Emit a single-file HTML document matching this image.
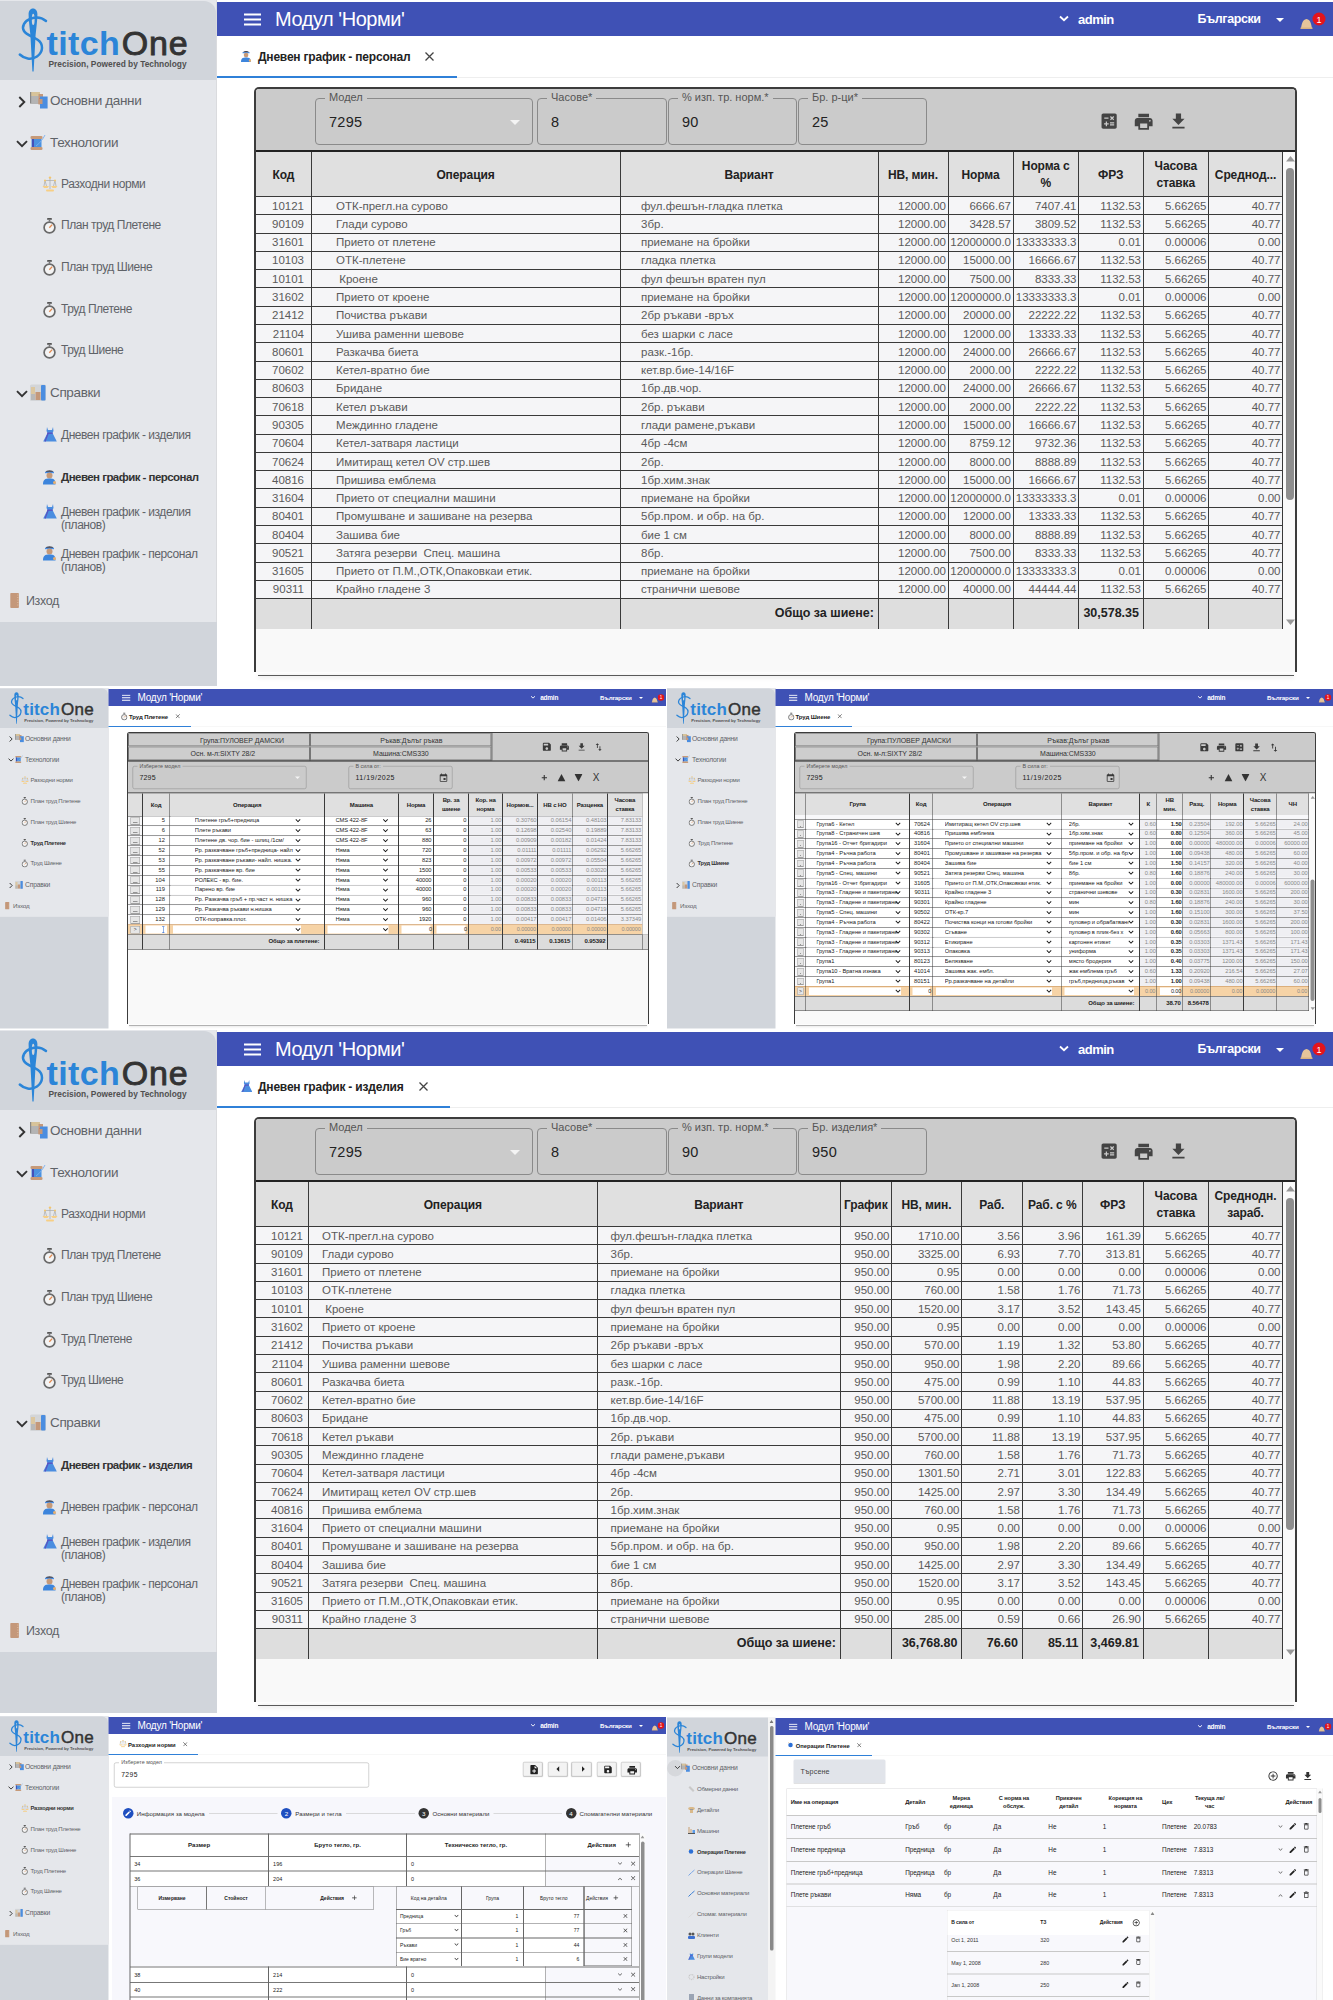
<!DOCTYPE html><html><head><meta charset="utf-8"><style>
*{box-sizing:border-box;margin:0;padding:0}
html,body{width:1333px;height:2000px;overflow:hidden;background:#fff;font-family:"Liberation Sans",sans-serif;}
.scr{position:absolute;overflow:hidden;background:#fff;transform-origin:0 0}
.abs{position:absolute}
.sb{position:absolute;left:0;top:0;width:217px;background:#e5e7eb;border-right:1px solid #dadbde}
.logo{position:absolute;left:0;top:1px;width:216px;height:78.5px;background:#d1d5db;border-top-right-radius:12px}
.sbb{position:absolute;left:0;width:217px;background:#d1d5db}
.hdr{position:absolute;left:217px;top:2px;right:0;height:34px;background:#3f51b5;color:#fff}
.mi{position:absolute;white-space:nowrap;color:#5f6368;font-size:13.5px;line-height:16px;letter-spacing:-0.35px}
.si{position:absolute;white-space:nowrap;color:#5f6368;font-size:12px;line-height:15px;letter-spacing:-0.45px}
.t{position:absolute;white-space:nowrap}
table.g{border-collapse:collapse;table-layout:fixed;position:absolute}
table.g td{overflow:hidden;white-space:nowrap}
</style></head><body>
<div class="scr" style="left:0;top:0;width:1333px;height:688px"><div class="sb" style="height:622px"></div>
<div class="sbb" style="top:622px;height:64px"></div>
<div class="logo"></div>
<svg class="abs" style="left:0px;top:0px" width="200" height="78" viewBox="0 0 200 78">
<path d="M33 8.6 C30.2 8.6 28.6 11 28.6 14.5 C28.6 20 29.6 27 30.4 35 L32.4 71.5 L33.6 71.5 L35.6 35 C36.4 27 37.4 20 37.4 14.5 C37.4 11 35.8 8.6 33 8.6Z" fill="#2b85d8"/>
<ellipse cx="33.2" cy="19.4" rx="1.4" ry="5.6" fill="#d1d5db"/>
<path d="M46 21 C42 17.5 36 16.8 31 18.5 C24 21 21.5 27 24 31 C26.5 35 33 36.5 38 40 C43.5 44 43.5 52 37 56.5 C31 60.5 24 58.5 19.8 54.5" fill="none" stroke="#2b85d8" stroke-width="2.5" stroke-linecap="round"/>
<text x="46.6" y="54.8" font-family="Liberation Sans" font-weight="bold" font-size="34" fill="#2b85d8" letter-spacing="0.35">titch</text>
<text x="121.8" y="54.8" font-family="Liberation Sans" font-size="34" fill="#333" stroke="#333" stroke-width="0.9" letter-spacing="0.8">One</text>
<text x="48.5" y="67" font-family="Liberation Sans" font-weight="bold" font-size="8.4" fill="#505050">Precision, Powered by Technology</text>
</svg>
<svg class="abs" style="left:16.5px;top:95.5px" width="10" height="12" viewBox="0 0 10 12"><path d="M2.3 1 L7.3 6 L2.3 11" fill="none" stroke="#333" stroke-width="1.9"/></svg><svg class="abs" style="left:30px;top:92px" width="18" height="17" viewBox="0 0 18 17">
<rect x="0" y="0" width="10" height="12" fill="#b4b4b4"/><rect x="1" y="0" width="9" height="4" fill="#d7c39a"/><rect x="0" y="0" width="1.2" height="11" fill="#888"/>
<rect x="8.5" y="2" width="4.5" height="10.5" fill="#c4987a"/><circle cx="10.5" cy="7" r="0.9" fill="#f11"/><circle cx="11" cy="9" r="0.9" fill="#f11"/>
<rect x="10" y="4.5" width="7.6" height="12" fill="#4a8de0"/><rect x="8.5" y="7" width="4" height="5" fill="#c4987a"/></svg><div class="mi" style="left:50px;top:93px">Основни данни</div>
<svg class="abs" style="left:16px;top:139.5px" width="12" height="8" viewBox="0 0 12 8"><path d="M1 1.2 L6 6.2 L11 1.2" fill="none" stroke="#333" stroke-width="1.9"/></svg><svg class="abs" style="left:30px;top:134px" width="18" height="17" viewBox="0 0 18 17">
<rect x="0.5" y="2" width="12" height="3" rx="1.3" fill="#c79a78"/><rect x="1.5" y="5" width="10" height="8" fill="#4b92e0"/><rect x="2" y="5" width="2" height="8" fill="#4450b8"/>
<rect x="0.5" y="13" width="12" height="3" rx="1.3" fill="#c79a78"/><path d="M6 12 C10 9 13 5 15 1" stroke="#7ab0ee" stroke-width="0.9" fill="none"/></svg><div class="mi" style="left:50px;top:135px">Технологии</div>
<svg class="abs" style="left:42px;top:176.0px" width="16" height="16" viewBox="0 0 16 16">
<path d="M8 1.5 V13 M3 4.5 H13 M2 10 L3 4.5 L4.5 10 M11.5 10 L13 4.5 L14 10" stroke="#aaa" stroke-width="0.7" fill="none"/>
<circle cx="8" cy="1.6" r="1.2" fill="#f5c66a"/><circle cx="3" cy="4.5" r="1" fill="#f5c66a"/><circle cx="13" cy="4.5" r="1" fill="#f5c66a"/>
<path d="M0.5 10 H7 L5.5 12 H2Z M9 10 H15.5 L14 12 H10.5Z" fill="#f7cf85"/><rect x="4" y="13.5" width="8" height="2" rx="1" fill="#f7cf85"/></svg><div class="si" style="left:61px;top:176.5px;">Разходни норми</div>
<svg class="abs" style="left:43px;top:218.2px" width="13" height="16" viewBox="0 0 13 16">
<rect x="4" y="0" width="5" height="1.8" rx="0.9" fill="#555"/><rect x="5.7" y="1.5" width="1.6" height="2" fill="#777"/>
<circle cx="6.5" cy="9.5" r="5.4" fill="#f4f4f4" stroke="#6a6a6a" stroke-width="1.7"/>
<path d="M6.3 9.8 L9.2 6.6" stroke="#e08a50" stroke-width="1.3"/></svg><div class="si" style="left:61px;top:218.2px;">План труд Плетене</div>
<svg class="abs" style="left:43px;top:259.9px" width="13" height="16" viewBox="0 0 13 16">
<rect x="4" y="0" width="5" height="1.8" rx="0.9" fill="#555"/><rect x="5.7" y="1.5" width="1.6" height="2" fill="#777"/>
<circle cx="6.5" cy="9.5" r="5.4" fill="#f4f4f4" stroke="#6a6a6a" stroke-width="1.7"/>
<path d="M6.3 9.8 L9.2 6.6" stroke="#e08a50" stroke-width="1.3"/></svg><div class="si" style="left:61px;top:259.9px;">План труд Шиене</div>
<svg class="abs" style="left:43px;top:301.6px" width="13" height="16" viewBox="0 0 13 16">
<rect x="4" y="0" width="5" height="1.8" rx="0.9" fill="#555"/><rect x="5.7" y="1.5" width="1.6" height="2" fill="#777"/>
<circle cx="6.5" cy="9.5" r="5.4" fill="#f4f4f4" stroke="#6a6a6a" stroke-width="1.7"/>
<path d="M6.3 9.8 L9.2 6.6" stroke="#e08a50" stroke-width="1.3"/></svg><div class="si" style="left:61px;top:301.6px;">Труд Плетене</div>
<svg class="abs" style="left:43px;top:343.3px" width="13" height="16" viewBox="0 0 13 16">
<rect x="4" y="0" width="5" height="1.8" rx="0.9" fill="#555"/><rect x="5.7" y="1.5" width="1.6" height="2" fill="#777"/>
<circle cx="6.5" cy="9.5" r="5.4" fill="#f4f4f4" stroke="#6a6a6a" stroke-width="1.7"/>
<path d="M6.3 9.8 L9.2 6.6" stroke="#e08a50" stroke-width="1.3"/></svg><div class="si" style="left:61px;top:343.3px;">Труд Шиене</div>
<svg class="abs" style="left:16px;top:389.5px" width="12" height="8" viewBox="0 0 12 8"><path d="M1 1.2 L6 6.2 L11 1.2" fill="none" stroke="#333" stroke-width="1.9"/></svg><svg class="abs" style="left:30px;top:384px" width="16" height="17" viewBox="0 0 16 17">
<rect x="0" y="0.5" width="16" height="16.5" rx="1.5" fill="#d3d5d8"/><rect x="1" y="3" width="4" height="13" fill="#dcc7a0"/><rect x="1" y="10" width="4" height="6" fill="#b8b8b8"/>
<rect x="5.5" y="8" width="5" height="8" fill="#c4987a"/><rect x="11" y="1" width="4.5" height="15.5" rx="1" fill="#4a8de0"/></svg><div class="mi" style="left:50px;top:385px">Справки</div>
<svg class="abs" style="left:43px;top:427px" width="14" height="15" viewBox="0 0 14 15">
<path d="M4 0 L5 3 H9 L10 0 L10.5 4 L9.5 6 L13.8 14.5 H0.2 L4.5 6 L3.5 4Z" fill="#4a8de0"/><path d="M4.3 6.2 H9.7" stroke="#5a50c0" stroke-width="1.3"/>
<path d="M2 14.5 L5.2 6" stroke="#5a50c0" stroke-width="1.2"/></svg><div class="si" style="left:61px;top:427.5px;">Дневен график - изделия</div>
<svg class="abs" style="left:43px;top:468.5px" width="13" height="16" viewBox="0 0 13 16">
<path d="M2.5 3.5 C2.5 0.5 10.5 0.5 10.5 3.5Z" fill="#4a4a55"/><rect x="2" y="2.8" width="9" height="1.4" fill="#4a8de0"/>
<circle cx="6.5" cy="6.5" r="3" fill="#c79a78"/><path d="M0 15.5 C0 10.5 2 9.5 6.5 9.5 C11 9.5 12.5 10.5 12.5 15.5Z" fill="#3d85dc"/>
<circle cx="11.5" cy="13.5" r="1.5" fill="#e8b070"/></svg><div class="si" style="left:61px;top:469.5px;font-weight:bold;color:#333;font-size:11.5px;letter-spacing:-0.55px;">Дневен график - персонал</div>
<svg class="abs" style="left:43px;top:503.5px" width="14" height="15" viewBox="0 0 14 15">
<path d="M4 0 L5 3 H9 L10 0 L10.5 4 L9.5 6 L13.8 14.5 H0.2 L4.5 6 L3.5 4Z" fill="#4a8de0"/><path d="M4.3 6.2 H9.7" stroke="#5a50c0" stroke-width="1.3"/>
<path d="M2 14.5 L5.2 6" stroke="#5a50c0" stroke-width="1.2"/></svg><div class="si" style="left:61px;top:505.7px;line-height:13.8px">Дневен график - изделия<br>(планов)</div>
<svg class="abs" style="left:43px;top:545.0px" width="13" height="16" viewBox="0 0 13 16">
<path d="M2.5 3.5 C2.5 0.5 10.5 0.5 10.5 3.5Z" fill="#4a4a55"/><rect x="2" y="2.8" width="9" height="1.4" fill="#4a8de0"/>
<circle cx="6.5" cy="6.5" r="3" fill="#c79a78"/><path d="M0 15.5 C0 10.5 2 9.5 6.5 9.5 C11 9.5 12.5 10.5 12.5 15.5Z" fill="#3d85dc"/>
<circle cx="11.5" cy="13.5" r="1.5" fill="#e8b070"/></svg><div class="si" style="left:61px;top:547.7px;line-height:13.8px">Дневен график - персонал<br>(планов)</div>
<svg class="abs" style="left:10.4px;top:593.0px" width="9" height="15" viewBox="0 0 9 15"><rect x="0.3" y="0" width="8.6" height="15" rx="0.8" fill="#c4987a"/>
<path d="M7 2H8.5M7 4.5H8.5M7 7H8.5M7 9.5H8.5M7 12H8.5" stroke="#e6c6a6" stroke-width="0.6"/></svg><div class="si" style="left:26px;top:594.0px;font-size:12.5px;letter-spacing:-0.4px">Изход</div>
<div class="hdr">
<svg class="abs" style="left:27px;top:11px" width="17" height="13" viewBox="0 0 17 13"><path d="M0 1.5H17M0 6.5H17M0 11.5H17" stroke="#fff" stroke-width="2"/></svg>
<div class="t" style="left:58px;top:5.5px;font-size:20px;line-height:22px;letter-spacing:-0.45px">Модул 'Норми'</div>
<svg class="abs" style="left:841.5px;top:13px" width="10" height="7" viewBox="0 0 10 7"><path d="M1 1.5L5 5.2L9 1.5" fill="none" stroke="#fff" stroke-width="1.8"/></svg>
<div class="t" style="left:861.0px;top:9.5px;font-size:13px;line-height:15px;font-weight:bold;letter-spacing:-0.5px">admin</div>
<div class="t" style="left:980.5px;top:9.5px;font-size:12.5px;line-height:15px;font-weight:bold;letter-spacing:-0.4px">Български</div>
<svg class="abs" style="left:1058.5px;top:16px" width="8" height="4" viewBox="0 0 8 4"><path d="M0 0H8L4 4Z" fill="#fff"/></svg>
<svg class="abs" style="left:1083.0px;top:15px" width="13" height="13" viewBox="0 0 13 13"><path d="M1 11 C2 7 2 3 6.5 2 C11 3 11 7 12 11 Z" fill="#e6c49a"/><rect x="0.5" y="10.5" width="12" height="1.5" fill="#d8b080"/></svg>
<svg class="abs" style="left:1095.0px;top:9.5px" width="14" height="14" viewBox="0 0 14 14"><circle cx="7" cy="7" r="6.5" fill="#e3141b"/><text x="7" y="10.5" font-size="9" fill="#fff" text-anchor="middle" font-family="Liberation Sans">1</text></svg>
</div>
<svg class="abs" style="left:241.3px;top:50.0px" width="10.14" height="12.48" viewBox="0 0 13 16">
<path d="M2.5 3.5 C2.5 0.5 10.5 0.5 10.5 3.5Z" fill="#4a4a55"/><rect x="2" y="2.8" width="9" height="1.4" fill="#4a8de0"/>
<circle cx="6.5" cy="6.5" r="3" fill="#c79a78"/><path d="M0 15.5 C0 10.5 2 9.5 6.5 9.5 C11 9.5 12.5 10.5 12.5 15.5Z" fill="#3d85dc"/>
<circle cx="11.5" cy="13.5" r="1.5" fill="#e8b070"/></svg><div class="t" style="left:258px;top:49.5px;font-size:12px;line-height:15px;font-weight:bold;color:#222;letter-spacing:-0.2px">Дневен график - персонал</div>
<svg class="abs" style="left:424.5px;top:52px" width="9" height="9" viewBox="0 0 9 9"><path d="M0.5 0.5L8.5 8.5M8.5 0.5L0.5 8.5" stroke="#444" stroke-width="1.3"/></svg>
<div class="abs" style="left:217px;top:76px;width:240px;height:2px;background:#2f80d8"></div>
<div class="abs" style="left:457px;top:77px;right:0;height:1px;background:#eee"></div>
<div class="abs" style="left:258px;top:674.5px;width:1036px;height:1.6px;background:#5a5a5a;box-shadow:0 1px 4px rgba(0,0,0,.25)"></div>
<div class="abs" style="left:254px;top:87px;width:1043px;height:585px;border:2px solid #3c3c3c;border-bottom:none;border-radius:5px 5px 0 0;background:#f9f9f9;overflow:hidden">
<div class="abs" style="left:0;top:0;right:0;height:63px;background:#cbcbcb;border-bottom:2px solid #222"></div>
</div>
<div class="abs" style="left:315px;top:98px;width:218px;height:47px;border:1px solid #8a8a8a;border-radius:4px;background:transparent"></div>
<div class="t" style="left:325px;top:91px;font-size:11px;line-height:13px;color:#555;background:#cbcbcb;padding:0 4px">Модел</div>
<div class="t" style="left:329px;top:112.5px;font-size:14.5px;line-height:18px;color:#222;letter-spacing:0.3px">7295</div>
<svg class="abs" style="left:503.00px;top:109.50px" width="24.00" height="24.00" viewBox="0 0 24 24"><path d="M7 10l5 5 5-5z" fill="#f4f4f4"/></svg>
<div class="abs" style="left:537px;top:98px;width:130px;height:47px;border:1px solid #8a8a8a;border-radius:4px;background:transparent"></div>
<div class="t" style="left:547px;top:91px;font-size:11px;line-height:13px;color:#555;background:#cbcbcb;padding:0 4px">Часове*</div>
<div class="t" style="left:551px;top:112.5px;font-size:14.5px;line-height:18px;color:#222;letter-spacing:0.3px">8</div>
<div class="abs" style="left:668px;top:98px;width:129px;height:47px;border:1px solid #8a8a8a;border-radius:4px;background:transparent"></div>
<div class="t" style="left:678px;top:91px;font-size:11px;line-height:13px;color:#555;background:#cbcbcb;padding:0 4px">% изп. тр. норм.*</div>
<div class="t" style="left:682px;top:112.5px;font-size:14.5px;line-height:18px;color:#222;letter-spacing:0.3px">90</div>
<div class="abs" style="left:798px;top:98px;width:129px;height:47px;border:1px solid #8a8a8a;border-radius:4px;background:transparent"></div>
<div class="t" style="left:808px;top:91px;font-size:11px;line-height:13px;color:#555;background:#cbcbcb;padding:0 4px">Бр. р-ци*</div>
<div class="t" style="left:812px;top:112.5px;font-size:14.5px;line-height:18px;color:#222;letter-spacing:0.3px">25</div>
<svg class="abs" style="left:1098.87px;top:111.47px" width="20.27" height="20.27" viewBox="0 0 24 24"><path d="M19 3H5c-1.1 0-2 .9-2 2v14c0 1.1.9 2 2 2h14c1.1 0 2-.9 2-2V5c0-1.1-.9-2-2-2zm-5.97 4.06L14.09 6l1.41 1.41L16.91 6l1.06 1.06-1.41 1.41 1.41 1.41-1.060 1.06-1.41-1.4-1.41 1.41-1.06-1.06 1.41-1.41-1.41-1.42zm-6.78.66h5v1.5h-5v-1.5zM11.5 16h-2v2H8v-2H6v-1.5h2v-2h1.5v2h2V16zm6.5 1.25h-5v-1.5h5v1.5zm0-2.5h-5v-1.5h5v1.5z" fill="#444"/></svg>
<svg class="abs" style="left:1133.22px;top:111.33px" width="21.36" height="21.36" viewBox="0 0 24 24"><path d="M19 8H5c-1.66 0-3 1.34-3 3v6h4v4h12v-4h4v-6c0-1.66-1.34-3-3-3zm-3 11H8v-5h8v5zm3-7c-.55 0-1-.45-1-1s.45-1 1-1 1 .45 1 1-.45 1-1 1zm-1-9H6v4h12V3z" fill="#444"/></svg>
<svg class="abs" style="left:1168.14px;top:111.39px" width="20.91" height="20.91" viewBox="0 0 24 24"><path d="M19 9h-4V3H9v6H5l7 7 7-7zM5 18v2h14v-2H5z" fill="#444"/></svg>
<div class="abs" style="left:256px;top:152px;width:1026.5px;height:44px;background:#e0e0e0"></div>
<div class="abs" style="left:256px;top:196.00px;width:1026.5px;height:18.28px;background:#f5f5f7;border-top:1px solid #3a3a3a"></div>
<div class="abs" style="left:256px;top:214.28px;width:1026.5px;height:18.28px;background:#f5f5f7;border-top:1px solid #3a3a3a"></div>
<div class="abs" style="left:256px;top:232.56px;width:1026.5px;height:18.28px;background:#f5f5f7;border-top:1px solid #3a3a3a"></div>
<div class="abs" style="left:256px;top:250.84px;width:1026.5px;height:18.28px;background:#f5f5f7;border-top:1px solid #3a3a3a"></div>
<div class="abs" style="left:256px;top:269.12px;width:1026.5px;height:18.28px;background:#f5f5f7;border-top:1px solid #3a3a3a"></div>
<div class="abs" style="left:256px;top:287.40px;width:1026.5px;height:18.28px;background:#f5f5f7;border-top:1px solid #3a3a3a"></div>
<div class="abs" style="left:256px;top:305.68px;width:1026.5px;height:18.28px;background:#f5f5f7;border-top:1px solid #3a3a3a"></div>
<div class="abs" style="left:256px;top:323.96px;width:1026.5px;height:18.28px;background:#f5f5f7;border-top:1px solid #3a3a3a"></div>
<div class="abs" style="left:256px;top:342.24px;width:1026.5px;height:18.28px;background:#f5f5f7;border-top:1px solid #3a3a3a"></div>
<div class="abs" style="left:256px;top:360.52px;width:1026.5px;height:18.28px;background:#f5f5f7;border-top:1px solid #3a3a3a"></div>
<div class="abs" style="left:256px;top:378.80px;width:1026.5px;height:18.28px;background:#f5f5f7;border-top:1px solid #3a3a3a"></div>
<div class="abs" style="left:256px;top:397.08px;width:1026.5px;height:18.28px;background:#f5f5f7;border-top:1px solid #3a3a3a"></div>
<div class="abs" style="left:256px;top:415.36px;width:1026.5px;height:18.28px;background:#f5f5f7;border-top:1px solid #3a3a3a"></div>
<div class="abs" style="left:256px;top:433.64px;width:1026.5px;height:18.28px;background:#f5f5f7;border-top:1px solid #3a3a3a"></div>
<div class="abs" style="left:256px;top:451.92px;width:1026.5px;height:18.28px;background:#f5f5f7;border-top:1px solid #3a3a3a"></div>
<div class="abs" style="left:256px;top:470.20px;width:1026.5px;height:18.28px;background:#f5f5f7;border-top:1px solid #3a3a3a"></div>
<div class="abs" style="left:256px;top:488.48px;width:1026.5px;height:18.28px;background:#f5f5f7;border-top:1px solid #3a3a3a"></div>
<div class="abs" style="left:256px;top:506.76px;width:1026.5px;height:18.28px;background:#f5f5f7;border-top:1px solid #3a3a3a"></div>
<div class="abs" style="left:256px;top:525.04px;width:1026.5px;height:18.28px;background:#f5f5f7;border-top:1px solid #3a3a3a"></div>
<div class="abs" style="left:256px;top:543.32px;width:1026.5px;height:18.28px;background:#f5f5f7;border-top:1px solid #3a3a3a"></div>
<div class="abs" style="left:256px;top:561.60px;width:1026.5px;height:18.28px;background:#f5f5f7;border-top:1px solid #3a3a3a"></div>
<div class="abs" style="left:256px;top:579.88px;width:1026.5px;height:18.28px;background:#f5f5f7;border-top:1px solid #3a3a3a"></div>
<div class="abs" style="left:256px;top:598.16px;width:1026.5px;height:30.84px;background:#dedede;border-top:1px solid #3a3a3a"></div>
<div class="abs" style="left:310.5px;top:152px;width:1.2px;height:477px;background:#3a3a3a"></div>
<div class="abs" style="left:619.5px;top:152px;width:1.2px;height:477px;background:#3a3a3a"></div>
<div class="abs" style="left:877.5px;top:152px;width:1.2px;height:477px;background:#3a3a3a"></div>
<div class="abs" style="left:947.5px;top:152px;width:1.2px;height:477px;background:#3a3a3a"></div>
<div class="abs" style="left:1012.5px;top:152px;width:1.2px;height:477px;background:#3a3a3a"></div>
<div class="abs" style="left:1078.0px;top:152px;width:1.2px;height:477px;background:#3a3a3a"></div>
<div class="abs" style="left:1142.5px;top:152px;width:1.2px;height:477px;background:#3a3a3a"></div>
<div class="abs" style="left:1208.0px;top:152px;width:1.2px;height:477px;background:#3a3a3a"></div>
<div class="abs" style="left:1282.0px;top:152px;width:1.2px;height:477px;background:#3a3a3a"></div>
<div class="t" style="left:256px;top:166.8px;width:55px;text-align:center;font-size:12px;line-height:17px;font-weight:bold;color:#222;letter-spacing:-0.1px">Код</div>
<div class="t" style="left:311px;top:166.8px;width:309px;text-align:center;font-size:12px;line-height:17px;font-weight:bold;color:#222;letter-spacing:-0.1px">Операция</div>
<div class="t" style="left:620px;top:166.8px;width:258px;text-align:center;font-size:12px;line-height:17px;font-weight:bold;color:#222;letter-spacing:-0.1px">Вариант</div>
<div class="t" style="left:878px;top:166.8px;width:70px;text-align:center;font-size:12px;line-height:17px;font-weight:bold;color:#222;letter-spacing:-0.1px">НВ, мин.</div>
<div class="t" style="left:948px;top:166.8px;width:65px;text-align:center;font-size:12px;line-height:17px;font-weight:bold;color:#222;letter-spacing:-0.1px">Норма</div>
<div class="t" style="left:1013px;top:158.3px;width:65.5px;text-align:center;font-size:12px;line-height:17px;font-weight:bold;color:#222;letter-spacing:-0.1px">Норма с<br>%</div>
<div class="t" style="left:1078.5px;top:166.8px;width:64.5px;text-align:center;font-size:12px;line-height:17px;font-weight:bold;color:#222;letter-spacing:-0.1px">ФРЗ</div>
<div class="t" style="left:1143px;top:158.3px;width:65.5px;text-align:center;font-size:12px;line-height:17px;font-weight:bold;color:#222;letter-spacing:-0.1px">Часова<br>ставка</div>
<div class="t" style="left:1208.5px;top:166.8px;width:74.0px;text-align:center;font-size:12px;line-height:17px;font-weight:bold;color:#222;letter-spacing:-0.1px">Среднод...</div>
<div class="t" style="left:256px;top:198.60px;width:48px;text-align:right;font-size:11.5px;line-height:15px;color:#5a5a5a">10121</div>
<div class="t" style="left:336px;top:198.60px;font-size:11.5px;line-height:15px;color:#5a5a5a;white-space:pre">ОТК-прегл.на сурово</div>
<div class="t" style="left:641px;top:198.60px;font-size:11.5px;line-height:15px;color:#5a5a5a;white-space:pre">фул.фешън-гладка плетка</div>
<div class="t" style="left:878px;top:198.60px;width:68px;text-align:right;font-size:11.5px;line-height:15px;color:#5a5a5a">12000.00</div>
<div class="t" style="left:948px;top:198.60px;width:63px;text-align:right;font-size:11.5px;line-height:15px;color:#5a5a5a">6666.67</div>
<div class="t" style="left:1013px;top:198.60px;width:63.5px;text-align:right;font-size:11.5px;line-height:15px;color:#5a5a5a">7407.41</div>
<div class="t" style="left:1078.5px;top:198.60px;width:62.5px;text-align:right;font-size:11.5px;line-height:15px;color:#5a5a5a">1132.53</div>
<div class="t" style="left:1143px;top:198.60px;width:63.5px;text-align:right;font-size:11.5px;line-height:15px;color:#5a5a5a">5.66265</div>
<div class="t" style="left:1208.5px;top:198.60px;width:72.0px;text-align:right;font-size:11.5px;line-height:15px;color:#5a5a5a">40.77</div>
<div class="t" style="left:256px;top:216.88px;width:48px;text-align:right;font-size:11.5px;line-height:15px;color:#5a5a5a">90109</div>
<div class="t" style="left:336px;top:216.88px;font-size:11.5px;line-height:15px;color:#5a5a5a;white-space:pre">Глади сурово</div>
<div class="t" style="left:641px;top:216.88px;font-size:11.5px;line-height:15px;color:#5a5a5a;white-space:pre">3бр.</div>
<div class="t" style="left:878px;top:216.88px;width:68px;text-align:right;font-size:11.5px;line-height:15px;color:#5a5a5a">12000.00</div>
<div class="t" style="left:948px;top:216.88px;width:63px;text-align:right;font-size:11.5px;line-height:15px;color:#5a5a5a">3428.57</div>
<div class="t" style="left:1013px;top:216.88px;width:63.5px;text-align:right;font-size:11.5px;line-height:15px;color:#5a5a5a">3809.52</div>
<div class="t" style="left:1078.5px;top:216.88px;width:62.5px;text-align:right;font-size:11.5px;line-height:15px;color:#5a5a5a">1132.53</div>
<div class="t" style="left:1143px;top:216.88px;width:63.5px;text-align:right;font-size:11.5px;line-height:15px;color:#5a5a5a">5.66265</div>
<div class="t" style="left:1208.5px;top:216.88px;width:72.0px;text-align:right;font-size:11.5px;line-height:15px;color:#5a5a5a">40.77</div>
<div class="t" style="left:256px;top:235.16px;width:48px;text-align:right;font-size:11.5px;line-height:15px;color:#5a5a5a">31601</div>
<div class="t" style="left:336px;top:235.16px;font-size:11.5px;line-height:15px;color:#5a5a5a;white-space:pre">Прието от плетене</div>
<div class="t" style="left:641px;top:235.16px;font-size:11.5px;line-height:15px;color:#5a5a5a;white-space:pre">приемане на бройки</div>
<div class="t" style="left:878px;top:235.16px;width:68px;text-align:right;font-size:11.5px;line-height:15px;color:#5a5a5a">12000.00</div>
<div class="t" style="left:948px;top:235.16px;width:63px;text-align:right;font-size:11.5px;line-height:15px;color:#5a5a5a">12000000.0</div>
<div class="t" style="left:1013px;top:235.16px;width:63.5px;text-align:right;font-size:11.5px;line-height:15px;color:#5a5a5a">13333333.3</div>
<div class="t" style="left:1078.5px;top:235.16px;width:62.5px;text-align:right;font-size:11.5px;line-height:15px;color:#5a5a5a">0.01</div>
<div class="t" style="left:1143px;top:235.16px;width:63.5px;text-align:right;font-size:11.5px;line-height:15px;color:#5a5a5a">0.00006</div>
<div class="t" style="left:1208.5px;top:235.16px;width:72.0px;text-align:right;font-size:11.5px;line-height:15px;color:#5a5a5a">0.00</div>
<div class="t" style="left:256px;top:253.44px;width:48px;text-align:right;font-size:11.5px;line-height:15px;color:#5a5a5a">10103</div>
<div class="t" style="left:336px;top:253.44px;font-size:11.5px;line-height:15px;color:#5a5a5a;white-space:pre">ОТК-плетене</div>
<div class="t" style="left:641px;top:253.44px;font-size:11.5px;line-height:15px;color:#5a5a5a;white-space:pre">гладка плетка</div>
<div class="t" style="left:878px;top:253.44px;width:68px;text-align:right;font-size:11.5px;line-height:15px;color:#5a5a5a">12000.00</div>
<div class="t" style="left:948px;top:253.44px;width:63px;text-align:right;font-size:11.5px;line-height:15px;color:#5a5a5a">15000.00</div>
<div class="t" style="left:1013px;top:253.44px;width:63.5px;text-align:right;font-size:11.5px;line-height:15px;color:#5a5a5a">16666.67</div>
<div class="t" style="left:1078.5px;top:253.44px;width:62.5px;text-align:right;font-size:11.5px;line-height:15px;color:#5a5a5a">1132.53</div>
<div class="t" style="left:1143px;top:253.44px;width:63.5px;text-align:right;font-size:11.5px;line-height:15px;color:#5a5a5a">5.66265</div>
<div class="t" style="left:1208.5px;top:253.44px;width:72.0px;text-align:right;font-size:11.5px;line-height:15px;color:#5a5a5a">40.77</div>
<div class="t" style="left:256px;top:271.72px;width:48px;text-align:right;font-size:11.5px;line-height:15px;color:#5a5a5a">10101</div>
<div class="t" style="left:336px;top:271.72px;font-size:11.5px;line-height:15px;color:#5a5a5a;white-space:pre"> Кроене</div>
<div class="t" style="left:641px;top:271.72px;font-size:11.5px;line-height:15px;color:#5a5a5a;white-space:pre">фул фешън вратен пул</div>
<div class="t" style="left:878px;top:271.72px;width:68px;text-align:right;font-size:11.5px;line-height:15px;color:#5a5a5a">12000.00</div>
<div class="t" style="left:948px;top:271.72px;width:63px;text-align:right;font-size:11.5px;line-height:15px;color:#5a5a5a">7500.00</div>
<div class="t" style="left:1013px;top:271.72px;width:63.5px;text-align:right;font-size:11.5px;line-height:15px;color:#5a5a5a">8333.33</div>
<div class="t" style="left:1078.5px;top:271.72px;width:62.5px;text-align:right;font-size:11.5px;line-height:15px;color:#5a5a5a">1132.53</div>
<div class="t" style="left:1143px;top:271.72px;width:63.5px;text-align:right;font-size:11.5px;line-height:15px;color:#5a5a5a">5.66265</div>
<div class="t" style="left:1208.5px;top:271.72px;width:72.0px;text-align:right;font-size:11.5px;line-height:15px;color:#5a5a5a">40.77</div>
<div class="t" style="left:256px;top:290.00px;width:48px;text-align:right;font-size:11.5px;line-height:15px;color:#5a5a5a">31602</div>
<div class="t" style="left:336px;top:290.00px;font-size:11.5px;line-height:15px;color:#5a5a5a;white-space:pre">Прието от кроене</div>
<div class="t" style="left:641px;top:290.00px;font-size:11.5px;line-height:15px;color:#5a5a5a;white-space:pre">приемане на бройки</div>
<div class="t" style="left:878px;top:290.00px;width:68px;text-align:right;font-size:11.5px;line-height:15px;color:#5a5a5a">12000.00</div>
<div class="t" style="left:948px;top:290.00px;width:63px;text-align:right;font-size:11.5px;line-height:15px;color:#5a5a5a">12000000.0</div>
<div class="t" style="left:1013px;top:290.00px;width:63.5px;text-align:right;font-size:11.5px;line-height:15px;color:#5a5a5a">13333333.3</div>
<div class="t" style="left:1078.5px;top:290.00px;width:62.5px;text-align:right;font-size:11.5px;line-height:15px;color:#5a5a5a">0.01</div>
<div class="t" style="left:1143px;top:290.00px;width:63.5px;text-align:right;font-size:11.5px;line-height:15px;color:#5a5a5a">0.00006</div>
<div class="t" style="left:1208.5px;top:290.00px;width:72.0px;text-align:right;font-size:11.5px;line-height:15px;color:#5a5a5a">0.00</div>
<div class="t" style="left:256px;top:308.28px;width:48px;text-align:right;font-size:11.5px;line-height:15px;color:#5a5a5a">21412</div>
<div class="t" style="left:336px;top:308.28px;font-size:11.5px;line-height:15px;color:#5a5a5a;white-space:pre">Почиства ръкави</div>
<div class="t" style="left:641px;top:308.28px;font-size:11.5px;line-height:15px;color:#5a5a5a;white-space:pre">2бр ръкави -връх</div>
<div class="t" style="left:878px;top:308.28px;width:68px;text-align:right;font-size:11.5px;line-height:15px;color:#5a5a5a">12000.00</div>
<div class="t" style="left:948px;top:308.28px;width:63px;text-align:right;font-size:11.5px;line-height:15px;color:#5a5a5a">20000.00</div>
<div class="t" style="left:1013px;top:308.28px;width:63.5px;text-align:right;font-size:11.5px;line-height:15px;color:#5a5a5a">22222.22</div>
<div class="t" style="left:1078.5px;top:308.28px;width:62.5px;text-align:right;font-size:11.5px;line-height:15px;color:#5a5a5a">1132.53</div>
<div class="t" style="left:1143px;top:308.28px;width:63.5px;text-align:right;font-size:11.5px;line-height:15px;color:#5a5a5a">5.66265</div>
<div class="t" style="left:1208.5px;top:308.28px;width:72.0px;text-align:right;font-size:11.5px;line-height:15px;color:#5a5a5a">40.77</div>
<div class="t" style="left:256px;top:326.56px;width:48px;text-align:right;font-size:11.5px;line-height:15px;color:#5a5a5a">21104</div>
<div class="t" style="left:336px;top:326.56px;font-size:11.5px;line-height:15px;color:#5a5a5a;white-space:pre">Ушива раменни шевове</div>
<div class="t" style="left:641px;top:326.56px;font-size:11.5px;line-height:15px;color:#5a5a5a;white-space:pre">без шарки с ласе</div>
<div class="t" style="left:878px;top:326.56px;width:68px;text-align:right;font-size:11.5px;line-height:15px;color:#5a5a5a">12000.00</div>
<div class="t" style="left:948px;top:326.56px;width:63px;text-align:right;font-size:11.5px;line-height:15px;color:#5a5a5a">12000.00</div>
<div class="t" style="left:1013px;top:326.56px;width:63.5px;text-align:right;font-size:11.5px;line-height:15px;color:#5a5a5a">13333.33</div>
<div class="t" style="left:1078.5px;top:326.56px;width:62.5px;text-align:right;font-size:11.5px;line-height:15px;color:#5a5a5a">1132.53</div>
<div class="t" style="left:1143px;top:326.56px;width:63.5px;text-align:right;font-size:11.5px;line-height:15px;color:#5a5a5a">5.66265</div>
<div class="t" style="left:1208.5px;top:326.56px;width:72.0px;text-align:right;font-size:11.5px;line-height:15px;color:#5a5a5a">40.77</div>
<div class="t" style="left:256px;top:344.84px;width:48px;text-align:right;font-size:11.5px;line-height:15px;color:#5a5a5a">80601</div>
<div class="t" style="left:336px;top:344.84px;font-size:11.5px;line-height:15px;color:#5a5a5a;white-space:pre">Разкачва биета</div>
<div class="t" style="left:641px;top:344.84px;font-size:11.5px;line-height:15px;color:#5a5a5a;white-space:pre">разк.-1бр.</div>
<div class="t" style="left:878px;top:344.84px;width:68px;text-align:right;font-size:11.5px;line-height:15px;color:#5a5a5a">12000.00</div>
<div class="t" style="left:948px;top:344.84px;width:63px;text-align:right;font-size:11.5px;line-height:15px;color:#5a5a5a">24000.00</div>
<div class="t" style="left:1013px;top:344.84px;width:63.5px;text-align:right;font-size:11.5px;line-height:15px;color:#5a5a5a">26666.67</div>
<div class="t" style="left:1078.5px;top:344.84px;width:62.5px;text-align:right;font-size:11.5px;line-height:15px;color:#5a5a5a">1132.53</div>
<div class="t" style="left:1143px;top:344.84px;width:63.5px;text-align:right;font-size:11.5px;line-height:15px;color:#5a5a5a">5.66265</div>
<div class="t" style="left:1208.5px;top:344.84px;width:72.0px;text-align:right;font-size:11.5px;line-height:15px;color:#5a5a5a">40.77</div>
<div class="t" style="left:256px;top:363.12px;width:48px;text-align:right;font-size:11.5px;line-height:15px;color:#5a5a5a">70602</div>
<div class="t" style="left:336px;top:363.12px;font-size:11.5px;line-height:15px;color:#5a5a5a;white-space:pre">Кетел-вратно бие</div>
<div class="t" style="left:641px;top:363.12px;font-size:11.5px;line-height:15px;color:#5a5a5a;white-space:pre">кет.вр.бие-14/16F</div>
<div class="t" style="left:878px;top:363.12px;width:68px;text-align:right;font-size:11.5px;line-height:15px;color:#5a5a5a">12000.00</div>
<div class="t" style="left:948px;top:363.12px;width:63px;text-align:right;font-size:11.5px;line-height:15px;color:#5a5a5a">2000.00</div>
<div class="t" style="left:1013px;top:363.12px;width:63.5px;text-align:right;font-size:11.5px;line-height:15px;color:#5a5a5a">2222.22</div>
<div class="t" style="left:1078.5px;top:363.12px;width:62.5px;text-align:right;font-size:11.5px;line-height:15px;color:#5a5a5a">1132.53</div>
<div class="t" style="left:1143px;top:363.12px;width:63.5px;text-align:right;font-size:11.5px;line-height:15px;color:#5a5a5a">5.66265</div>
<div class="t" style="left:1208.5px;top:363.12px;width:72.0px;text-align:right;font-size:11.5px;line-height:15px;color:#5a5a5a">40.77</div>
<div class="t" style="left:256px;top:381.40px;width:48px;text-align:right;font-size:11.5px;line-height:15px;color:#5a5a5a">80603</div>
<div class="t" style="left:336px;top:381.40px;font-size:11.5px;line-height:15px;color:#5a5a5a;white-space:pre">Бридане</div>
<div class="t" style="left:641px;top:381.40px;font-size:11.5px;line-height:15px;color:#5a5a5a;white-space:pre">1бр.дв.чор.</div>
<div class="t" style="left:878px;top:381.40px;width:68px;text-align:right;font-size:11.5px;line-height:15px;color:#5a5a5a">12000.00</div>
<div class="t" style="left:948px;top:381.40px;width:63px;text-align:right;font-size:11.5px;line-height:15px;color:#5a5a5a">24000.00</div>
<div class="t" style="left:1013px;top:381.40px;width:63.5px;text-align:right;font-size:11.5px;line-height:15px;color:#5a5a5a">26666.67</div>
<div class="t" style="left:1078.5px;top:381.40px;width:62.5px;text-align:right;font-size:11.5px;line-height:15px;color:#5a5a5a">1132.53</div>
<div class="t" style="left:1143px;top:381.40px;width:63.5px;text-align:right;font-size:11.5px;line-height:15px;color:#5a5a5a">5.66265</div>
<div class="t" style="left:1208.5px;top:381.40px;width:72.0px;text-align:right;font-size:11.5px;line-height:15px;color:#5a5a5a">40.77</div>
<div class="t" style="left:256px;top:399.68px;width:48px;text-align:right;font-size:11.5px;line-height:15px;color:#5a5a5a">70618</div>
<div class="t" style="left:336px;top:399.68px;font-size:11.5px;line-height:15px;color:#5a5a5a;white-space:pre">Кетел ръкави</div>
<div class="t" style="left:641px;top:399.68px;font-size:11.5px;line-height:15px;color:#5a5a5a;white-space:pre">2бр. ръкави</div>
<div class="t" style="left:878px;top:399.68px;width:68px;text-align:right;font-size:11.5px;line-height:15px;color:#5a5a5a">12000.00</div>
<div class="t" style="left:948px;top:399.68px;width:63px;text-align:right;font-size:11.5px;line-height:15px;color:#5a5a5a">2000.00</div>
<div class="t" style="left:1013px;top:399.68px;width:63.5px;text-align:right;font-size:11.5px;line-height:15px;color:#5a5a5a">2222.22</div>
<div class="t" style="left:1078.5px;top:399.68px;width:62.5px;text-align:right;font-size:11.5px;line-height:15px;color:#5a5a5a">1132.53</div>
<div class="t" style="left:1143px;top:399.68px;width:63.5px;text-align:right;font-size:11.5px;line-height:15px;color:#5a5a5a">5.66265</div>
<div class="t" style="left:1208.5px;top:399.68px;width:72.0px;text-align:right;font-size:11.5px;line-height:15px;color:#5a5a5a">40.77</div>
<div class="t" style="left:256px;top:417.96px;width:48px;text-align:right;font-size:11.5px;line-height:15px;color:#5a5a5a">90305</div>
<div class="t" style="left:336px;top:417.96px;font-size:11.5px;line-height:15px;color:#5a5a5a;white-space:pre">Междинно гладене</div>
<div class="t" style="left:641px;top:417.96px;font-size:11.5px;line-height:15px;color:#5a5a5a;white-space:pre">глади рамене,ръкави</div>
<div class="t" style="left:878px;top:417.96px;width:68px;text-align:right;font-size:11.5px;line-height:15px;color:#5a5a5a">12000.00</div>
<div class="t" style="left:948px;top:417.96px;width:63px;text-align:right;font-size:11.5px;line-height:15px;color:#5a5a5a">15000.00</div>
<div class="t" style="left:1013px;top:417.96px;width:63.5px;text-align:right;font-size:11.5px;line-height:15px;color:#5a5a5a">16666.67</div>
<div class="t" style="left:1078.5px;top:417.96px;width:62.5px;text-align:right;font-size:11.5px;line-height:15px;color:#5a5a5a">1132.53</div>
<div class="t" style="left:1143px;top:417.96px;width:63.5px;text-align:right;font-size:11.5px;line-height:15px;color:#5a5a5a">5.66265</div>
<div class="t" style="left:1208.5px;top:417.96px;width:72.0px;text-align:right;font-size:11.5px;line-height:15px;color:#5a5a5a">40.77</div>
<div class="t" style="left:256px;top:436.24px;width:48px;text-align:right;font-size:11.5px;line-height:15px;color:#5a5a5a">70604</div>
<div class="t" style="left:336px;top:436.24px;font-size:11.5px;line-height:15px;color:#5a5a5a;white-space:pre">Кетел-затваря ластици</div>
<div class="t" style="left:641px;top:436.24px;font-size:11.5px;line-height:15px;color:#5a5a5a;white-space:pre">4бр -4см</div>
<div class="t" style="left:878px;top:436.24px;width:68px;text-align:right;font-size:11.5px;line-height:15px;color:#5a5a5a">12000.00</div>
<div class="t" style="left:948px;top:436.24px;width:63px;text-align:right;font-size:11.5px;line-height:15px;color:#5a5a5a">8759.12</div>
<div class="t" style="left:1013px;top:436.24px;width:63.5px;text-align:right;font-size:11.5px;line-height:15px;color:#5a5a5a">9732.36</div>
<div class="t" style="left:1078.5px;top:436.24px;width:62.5px;text-align:right;font-size:11.5px;line-height:15px;color:#5a5a5a">1132.53</div>
<div class="t" style="left:1143px;top:436.24px;width:63.5px;text-align:right;font-size:11.5px;line-height:15px;color:#5a5a5a">5.66265</div>
<div class="t" style="left:1208.5px;top:436.24px;width:72.0px;text-align:right;font-size:11.5px;line-height:15px;color:#5a5a5a">40.77</div>
<div class="t" style="left:256px;top:454.52px;width:48px;text-align:right;font-size:11.5px;line-height:15px;color:#5a5a5a">70624</div>
<div class="t" style="left:336px;top:454.52px;font-size:11.5px;line-height:15px;color:#5a5a5a;white-space:pre">Имитиращ кетел OV стр.шев</div>
<div class="t" style="left:641px;top:454.52px;font-size:11.5px;line-height:15px;color:#5a5a5a;white-space:pre">2бр.</div>
<div class="t" style="left:878px;top:454.52px;width:68px;text-align:right;font-size:11.5px;line-height:15px;color:#5a5a5a">12000.00</div>
<div class="t" style="left:948px;top:454.52px;width:63px;text-align:right;font-size:11.5px;line-height:15px;color:#5a5a5a">8000.00</div>
<div class="t" style="left:1013px;top:454.52px;width:63.5px;text-align:right;font-size:11.5px;line-height:15px;color:#5a5a5a">8888.89</div>
<div class="t" style="left:1078.5px;top:454.52px;width:62.5px;text-align:right;font-size:11.5px;line-height:15px;color:#5a5a5a">1132.53</div>
<div class="t" style="left:1143px;top:454.52px;width:63.5px;text-align:right;font-size:11.5px;line-height:15px;color:#5a5a5a">5.66265</div>
<div class="t" style="left:1208.5px;top:454.52px;width:72.0px;text-align:right;font-size:11.5px;line-height:15px;color:#5a5a5a">40.77</div>
<div class="t" style="left:256px;top:472.80px;width:48px;text-align:right;font-size:11.5px;line-height:15px;color:#5a5a5a">40816</div>
<div class="t" style="left:336px;top:472.80px;font-size:11.5px;line-height:15px;color:#5a5a5a;white-space:pre">Пришива емблема</div>
<div class="t" style="left:641px;top:472.80px;font-size:11.5px;line-height:15px;color:#5a5a5a;white-space:pre">1бр.хим.знак</div>
<div class="t" style="left:878px;top:472.80px;width:68px;text-align:right;font-size:11.5px;line-height:15px;color:#5a5a5a">12000.00</div>
<div class="t" style="left:948px;top:472.80px;width:63px;text-align:right;font-size:11.5px;line-height:15px;color:#5a5a5a">15000.00</div>
<div class="t" style="left:1013px;top:472.80px;width:63.5px;text-align:right;font-size:11.5px;line-height:15px;color:#5a5a5a">16666.67</div>
<div class="t" style="left:1078.5px;top:472.80px;width:62.5px;text-align:right;font-size:11.5px;line-height:15px;color:#5a5a5a">1132.53</div>
<div class="t" style="left:1143px;top:472.80px;width:63.5px;text-align:right;font-size:11.5px;line-height:15px;color:#5a5a5a">5.66265</div>
<div class="t" style="left:1208.5px;top:472.80px;width:72.0px;text-align:right;font-size:11.5px;line-height:15px;color:#5a5a5a">40.77</div>
<div class="t" style="left:256px;top:491.08px;width:48px;text-align:right;font-size:11.5px;line-height:15px;color:#5a5a5a">31604</div>
<div class="t" style="left:336px;top:491.08px;font-size:11.5px;line-height:15px;color:#5a5a5a;white-space:pre">Прието от специални машини</div>
<div class="t" style="left:641px;top:491.08px;font-size:11.5px;line-height:15px;color:#5a5a5a;white-space:pre">приемане на бройки</div>
<div class="t" style="left:878px;top:491.08px;width:68px;text-align:right;font-size:11.5px;line-height:15px;color:#5a5a5a">12000.00</div>
<div class="t" style="left:948px;top:491.08px;width:63px;text-align:right;font-size:11.5px;line-height:15px;color:#5a5a5a">12000000.0</div>
<div class="t" style="left:1013px;top:491.08px;width:63.5px;text-align:right;font-size:11.5px;line-height:15px;color:#5a5a5a">13333333.3</div>
<div class="t" style="left:1078.5px;top:491.08px;width:62.5px;text-align:right;font-size:11.5px;line-height:15px;color:#5a5a5a">0.01</div>
<div class="t" style="left:1143px;top:491.08px;width:63.5px;text-align:right;font-size:11.5px;line-height:15px;color:#5a5a5a">0.00006</div>
<div class="t" style="left:1208.5px;top:491.08px;width:72.0px;text-align:right;font-size:11.5px;line-height:15px;color:#5a5a5a">0.00</div>
<div class="t" style="left:256px;top:509.36px;width:48px;text-align:right;font-size:11.5px;line-height:15px;color:#5a5a5a">80401</div>
<div class="t" style="left:336px;top:509.36px;font-size:11.5px;line-height:15px;color:#5a5a5a;white-space:pre">Промушване и зашиване на резерва</div>
<div class="t" style="left:641px;top:509.36px;font-size:11.5px;line-height:15px;color:#5a5a5a;white-space:pre">5бр.пром. и обр. на бр.</div>
<div class="t" style="left:878px;top:509.36px;width:68px;text-align:right;font-size:11.5px;line-height:15px;color:#5a5a5a">12000.00</div>
<div class="t" style="left:948px;top:509.36px;width:63px;text-align:right;font-size:11.5px;line-height:15px;color:#5a5a5a">12000.00</div>
<div class="t" style="left:1013px;top:509.36px;width:63.5px;text-align:right;font-size:11.5px;line-height:15px;color:#5a5a5a">13333.33</div>
<div class="t" style="left:1078.5px;top:509.36px;width:62.5px;text-align:right;font-size:11.5px;line-height:15px;color:#5a5a5a">1132.53</div>
<div class="t" style="left:1143px;top:509.36px;width:63.5px;text-align:right;font-size:11.5px;line-height:15px;color:#5a5a5a">5.66265</div>
<div class="t" style="left:1208.5px;top:509.36px;width:72.0px;text-align:right;font-size:11.5px;line-height:15px;color:#5a5a5a">40.77</div>
<div class="t" style="left:256px;top:527.64px;width:48px;text-align:right;font-size:11.5px;line-height:15px;color:#5a5a5a">80404</div>
<div class="t" style="left:336px;top:527.64px;font-size:11.5px;line-height:15px;color:#5a5a5a;white-space:pre">Зашива бие</div>
<div class="t" style="left:641px;top:527.64px;font-size:11.5px;line-height:15px;color:#5a5a5a;white-space:pre">бие 1 см</div>
<div class="t" style="left:878px;top:527.64px;width:68px;text-align:right;font-size:11.5px;line-height:15px;color:#5a5a5a">12000.00</div>
<div class="t" style="left:948px;top:527.64px;width:63px;text-align:right;font-size:11.5px;line-height:15px;color:#5a5a5a">8000.00</div>
<div class="t" style="left:1013px;top:527.64px;width:63.5px;text-align:right;font-size:11.5px;line-height:15px;color:#5a5a5a">8888.89</div>
<div class="t" style="left:1078.5px;top:527.64px;width:62.5px;text-align:right;font-size:11.5px;line-height:15px;color:#5a5a5a">1132.53</div>
<div class="t" style="left:1143px;top:527.64px;width:63.5px;text-align:right;font-size:11.5px;line-height:15px;color:#5a5a5a">5.66265</div>
<div class="t" style="left:1208.5px;top:527.64px;width:72.0px;text-align:right;font-size:11.5px;line-height:15px;color:#5a5a5a">40.77</div>
<div class="t" style="left:256px;top:545.92px;width:48px;text-align:right;font-size:11.5px;line-height:15px;color:#5a5a5a">90521</div>
<div class="t" style="left:336px;top:545.92px;font-size:11.5px;line-height:15px;color:#5a5a5a;white-space:pre">Затяга резерви  Спец. машина</div>
<div class="t" style="left:641px;top:545.92px;font-size:11.5px;line-height:15px;color:#5a5a5a;white-space:pre">8бр.</div>
<div class="t" style="left:878px;top:545.92px;width:68px;text-align:right;font-size:11.5px;line-height:15px;color:#5a5a5a">12000.00</div>
<div class="t" style="left:948px;top:545.92px;width:63px;text-align:right;font-size:11.5px;line-height:15px;color:#5a5a5a">7500.00</div>
<div class="t" style="left:1013px;top:545.92px;width:63.5px;text-align:right;font-size:11.5px;line-height:15px;color:#5a5a5a">8333.33</div>
<div class="t" style="left:1078.5px;top:545.92px;width:62.5px;text-align:right;font-size:11.5px;line-height:15px;color:#5a5a5a">1132.53</div>
<div class="t" style="left:1143px;top:545.92px;width:63.5px;text-align:right;font-size:11.5px;line-height:15px;color:#5a5a5a">5.66265</div>
<div class="t" style="left:1208.5px;top:545.92px;width:72.0px;text-align:right;font-size:11.5px;line-height:15px;color:#5a5a5a">40.77</div>
<div class="t" style="left:256px;top:564.20px;width:48px;text-align:right;font-size:11.5px;line-height:15px;color:#5a5a5a">31605</div>
<div class="t" style="left:336px;top:564.20px;font-size:11.5px;line-height:15px;color:#5a5a5a;white-space:pre">Прието от П.М.,ОТК,Опаковкаи етик.</div>
<div class="t" style="left:641px;top:564.20px;font-size:11.5px;line-height:15px;color:#5a5a5a;white-space:pre">приемане на бройки</div>
<div class="t" style="left:878px;top:564.20px;width:68px;text-align:right;font-size:11.5px;line-height:15px;color:#5a5a5a">12000.00</div>
<div class="t" style="left:948px;top:564.20px;width:63px;text-align:right;font-size:11.5px;line-height:15px;color:#5a5a5a">12000000.0</div>
<div class="t" style="left:1013px;top:564.20px;width:63.5px;text-align:right;font-size:11.5px;line-height:15px;color:#5a5a5a">13333333.3</div>
<div class="t" style="left:1078.5px;top:564.20px;width:62.5px;text-align:right;font-size:11.5px;line-height:15px;color:#5a5a5a">0.01</div>
<div class="t" style="left:1143px;top:564.20px;width:63.5px;text-align:right;font-size:11.5px;line-height:15px;color:#5a5a5a">0.00006</div>
<div class="t" style="left:1208.5px;top:564.20px;width:72.0px;text-align:right;font-size:11.5px;line-height:15px;color:#5a5a5a">0.00</div>
<div class="t" style="left:256px;top:582.48px;width:48px;text-align:right;font-size:11.5px;line-height:15px;color:#5a5a5a">90311</div>
<div class="t" style="left:336px;top:582.48px;font-size:11.5px;line-height:15px;color:#5a5a5a;white-space:pre">Крайно гладене 3</div>
<div class="t" style="left:641px;top:582.48px;font-size:11.5px;line-height:15px;color:#5a5a5a;white-space:pre">странични шевове</div>
<div class="t" style="left:878px;top:582.48px;width:68px;text-align:right;font-size:11.5px;line-height:15px;color:#5a5a5a">12000.00</div>
<div class="t" style="left:948px;top:582.48px;width:63px;text-align:right;font-size:11.5px;line-height:15px;color:#5a5a5a">40000.00</div>
<div class="t" style="left:1013px;top:582.48px;width:63.5px;text-align:right;font-size:11.5px;line-height:15px;color:#5a5a5a">44444.44</div>
<div class="t" style="left:1078.5px;top:582.48px;width:62.5px;text-align:right;font-size:11.5px;line-height:15px;color:#5a5a5a">1132.53</div>
<div class="t" style="left:1143px;top:582.48px;width:63.5px;text-align:right;font-size:11.5px;line-height:15px;color:#5a5a5a">5.66265</div>
<div class="t" style="left:1208.5px;top:582.48px;width:72.0px;text-align:right;font-size:11.5px;line-height:15px;color:#5a5a5a">40.77</div>
<div class="t" style="left:620px;top:605.16px;width:254px;text-align:right;font-size:12.5px;line-height:16px;font-weight:bold;color:#222">Общо за шиене:</div>
<div class="t" style="left:1078.5px;top:605.16px;width:60.5px;text-align:right;font-size:12.5px;line-height:16px;font-weight:bold;color:#222">30,578.35</div>
<div class="abs" style="left:1283.2px;top:152px;width:11.8px;height:477px;background:#fafafa"></div>
<svg class="abs" style="left:1285.5px;top:155px" width="9" height="7" viewBox="0 0 9 7"><path d="M0 6.5 L4.5 1 L9 6.5Z" fill="#999"/></svg>
<svg class="abs" style="left:1285.5px;top:619px" width="9" height="7" viewBox="0 0 9 7"><path d="M0 0.5 L4.5 6 L9 0.5Z" fill="#999"/></svg>
<div class="abs" style="left:1286.0px;top:168px;width:8px;height:332px;background:#8e8e8e;border-radius:4px"></div></div><div class="scr" style="left:0;top:1030px;width:1333px;height:686px"><div class="sb" style="height:622px"></div>
<div class="sbb" style="top:622px;height:61px"></div>
<div class="logo"></div>
<svg class="abs" style="left:0px;top:0px" width="200" height="78" viewBox="0 0 200 78">
<path d="M33 8.6 C30.2 8.6 28.6 11 28.6 14.5 C28.6 20 29.6 27 30.4 35 L32.4 71.5 L33.6 71.5 L35.6 35 C36.4 27 37.4 20 37.4 14.5 C37.4 11 35.8 8.6 33 8.6Z" fill="#2b85d8"/>
<ellipse cx="33.2" cy="19.4" rx="1.4" ry="5.6" fill="#d1d5db"/>
<path d="M46 21 C42 17.5 36 16.8 31 18.5 C24 21 21.5 27 24 31 C26.5 35 33 36.5 38 40 C43.5 44 43.5 52 37 56.5 C31 60.5 24 58.5 19.8 54.5" fill="none" stroke="#2b85d8" stroke-width="2.5" stroke-linecap="round"/>
<text x="46.6" y="54.8" font-family="Liberation Sans" font-weight="bold" font-size="34" fill="#2b85d8" letter-spacing="0.35">titch</text>
<text x="121.8" y="54.8" font-family="Liberation Sans" font-size="34" fill="#333" stroke="#333" stroke-width="0.9" letter-spacing="0.8">One</text>
<text x="48.5" y="67" font-family="Liberation Sans" font-weight="bold" font-size="8.4" fill="#505050">Precision, Powered by Technology</text>
</svg>
<svg class="abs" style="left:16.5px;top:95.5px" width="10" height="12" viewBox="0 0 10 12"><path d="M2.3 1 L7.3 6 L2.3 11" fill="none" stroke="#333" stroke-width="1.9"/></svg><svg class="abs" style="left:30px;top:92px" width="18" height="17" viewBox="0 0 18 17">
<rect x="0" y="0" width="10" height="12" fill="#b4b4b4"/><rect x="1" y="0" width="9" height="4" fill="#d7c39a"/><rect x="0" y="0" width="1.2" height="11" fill="#888"/>
<rect x="8.5" y="2" width="4.5" height="10.5" fill="#c4987a"/><circle cx="10.5" cy="7" r="0.9" fill="#f11"/><circle cx="11" cy="9" r="0.9" fill="#f11"/>
<rect x="10" y="4.5" width="7.6" height="12" fill="#4a8de0"/><rect x="8.5" y="7" width="4" height="5" fill="#c4987a"/></svg><div class="mi" style="left:50px;top:93px">Основни данни</div>
<svg class="abs" style="left:16px;top:139.5px" width="12" height="8" viewBox="0 0 12 8"><path d="M1 1.2 L6 6.2 L11 1.2" fill="none" stroke="#333" stroke-width="1.9"/></svg><svg class="abs" style="left:30px;top:134px" width="18" height="17" viewBox="0 0 18 17">
<rect x="0.5" y="2" width="12" height="3" rx="1.3" fill="#c79a78"/><rect x="1.5" y="5" width="10" height="8" fill="#4b92e0"/><rect x="2" y="5" width="2" height="8" fill="#4450b8"/>
<rect x="0.5" y="13" width="12" height="3" rx="1.3" fill="#c79a78"/><path d="M6 12 C10 9 13 5 15 1" stroke="#7ab0ee" stroke-width="0.9" fill="none"/></svg><div class="mi" style="left:50px;top:135px">Технологии</div>
<svg class="abs" style="left:42px;top:176.0px" width="16" height="16" viewBox="0 0 16 16">
<path d="M8 1.5 V13 M3 4.5 H13 M2 10 L3 4.5 L4.5 10 M11.5 10 L13 4.5 L14 10" stroke="#aaa" stroke-width="0.7" fill="none"/>
<circle cx="8" cy="1.6" r="1.2" fill="#f5c66a"/><circle cx="3" cy="4.5" r="1" fill="#f5c66a"/><circle cx="13" cy="4.5" r="1" fill="#f5c66a"/>
<path d="M0.5 10 H7 L5.5 12 H2Z M9 10 H15.5 L14 12 H10.5Z" fill="#f7cf85"/><rect x="4" y="13.5" width="8" height="2" rx="1" fill="#f7cf85"/></svg><div class="si" style="left:61px;top:176.5px;">Разходни норми</div>
<svg class="abs" style="left:43px;top:218.2px" width="13" height="16" viewBox="0 0 13 16">
<rect x="4" y="0" width="5" height="1.8" rx="0.9" fill="#555"/><rect x="5.7" y="1.5" width="1.6" height="2" fill="#777"/>
<circle cx="6.5" cy="9.5" r="5.4" fill="#f4f4f4" stroke="#6a6a6a" stroke-width="1.7"/>
<path d="M6.3 9.8 L9.2 6.6" stroke="#e08a50" stroke-width="1.3"/></svg><div class="si" style="left:61px;top:218.2px;">План труд Плетене</div>
<svg class="abs" style="left:43px;top:259.9px" width="13" height="16" viewBox="0 0 13 16">
<rect x="4" y="0" width="5" height="1.8" rx="0.9" fill="#555"/><rect x="5.7" y="1.5" width="1.6" height="2" fill="#777"/>
<circle cx="6.5" cy="9.5" r="5.4" fill="#f4f4f4" stroke="#6a6a6a" stroke-width="1.7"/>
<path d="M6.3 9.8 L9.2 6.6" stroke="#e08a50" stroke-width="1.3"/></svg><div class="si" style="left:61px;top:259.9px;">План труд Шиене</div>
<svg class="abs" style="left:43px;top:301.6px" width="13" height="16" viewBox="0 0 13 16">
<rect x="4" y="0" width="5" height="1.8" rx="0.9" fill="#555"/><rect x="5.7" y="1.5" width="1.6" height="2" fill="#777"/>
<circle cx="6.5" cy="9.5" r="5.4" fill="#f4f4f4" stroke="#6a6a6a" stroke-width="1.7"/>
<path d="M6.3 9.8 L9.2 6.6" stroke="#e08a50" stroke-width="1.3"/></svg><div class="si" style="left:61px;top:301.6px;">Труд Плетене</div>
<svg class="abs" style="left:43px;top:343.3px" width="13" height="16" viewBox="0 0 13 16">
<rect x="4" y="0" width="5" height="1.8" rx="0.9" fill="#555"/><rect x="5.7" y="1.5" width="1.6" height="2" fill="#777"/>
<circle cx="6.5" cy="9.5" r="5.4" fill="#f4f4f4" stroke="#6a6a6a" stroke-width="1.7"/>
<path d="M6.3 9.8 L9.2 6.6" stroke="#e08a50" stroke-width="1.3"/></svg><div class="si" style="left:61px;top:343.3px;">Труд Шиене</div>
<svg class="abs" style="left:16px;top:389.5px" width="12" height="8" viewBox="0 0 12 8"><path d="M1 1.2 L6 6.2 L11 1.2" fill="none" stroke="#333" stroke-width="1.9"/></svg><svg class="abs" style="left:30px;top:384px" width="16" height="17" viewBox="0 0 16 17">
<rect x="0" y="0.5" width="16" height="16.5" rx="1.5" fill="#d3d5d8"/><rect x="1" y="3" width="4" height="13" fill="#dcc7a0"/><rect x="1" y="10" width="4" height="6" fill="#b8b8b8"/>
<rect x="5.5" y="8" width="5" height="8" fill="#c4987a"/><rect x="11" y="1" width="4.5" height="15.5" rx="1" fill="#4a8de0"/></svg><div class="mi" style="left:50px;top:385px">Справки</div>
<svg class="abs" style="left:43px;top:427px" width="14" height="15" viewBox="0 0 14 15">
<path d="M4 0 L5 3 H9 L10 0 L10.5 4 L9.5 6 L13.8 14.5 H0.2 L4.5 6 L3.5 4Z" fill="#4a8de0"/><path d="M4.3 6.2 H9.7" stroke="#5a50c0" stroke-width="1.3"/>
<path d="M2 14.5 L5.2 6" stroke="#5a50c0" stroke-width="1.2"/></svg><div class="si" style="left:61px;top:427.5px;font-weight:bold;color:#333;font-size:11.5px;letter-spacing:-0.55px;">Дневен график - изделия</div>
<svg class="abs" style="left:43px;top:468.5px" width="13" height="16" viewBox="0 0 13 16">
<path d="M2.5 3.5 C2.5 0.5 10.5 0.5 10.5 3.5Z" fill="#4a4a55"/><rect x="2" y="2.8" width="9" height="1.4" fill="#4a8de0"/>
<circle cx="6.5" cy="6.5" r="3" fill="#c79a78"/><path d="M0 15.5 C0 10.5 2 9.5 6.5 9.5 C11 9.5 12.5 10.5 12.5 15.5Z" fill="#3d85dc"/>
<circle cx="11.5" cy="13.5" r="1.5" fill="#e8b070"/></svg><div class="si" style="left:61px;top:469.5px;">Дневен график - персонал</div>
<svg class="abs" style="left:43px;top:503.5px" width="14" height="15" viewBox="0 0 14 15">
<path d="M4 0 L5 3 H9 L10 0 L10.5 4 L9.5 6 L13.8 14.5 H0.2 L4.5 6 L3.5 4Z" fill="#4a8de0"/><path d="M4.3 6.2 H9.7" stroke="#5a50c0" stroke-width="1.3"/>
<path d="M2 14.5 L5.2 6" stroke="#5a50c0" stroke-width="1.2"/></svg><div class="si" style="left:61px;top:505.7px;line-height:13.8px">Дневен график - изделия<br>(планов)</div>
<svg class="abs" style="left:43px;top:545.0px" width="13" height="16" viewBox="0 0 13 16">
<path d="M2.5 3.5 C2.5 0.5 10.5 0.5 10.5 3.5Z" fill="#4a4a55"/><rect x="2" y="2.8" width="9" height="1.4" fill="#4a8de0"/>
<circle cx="6.5" cy="6.5" r="3" fill="#c79a78"/><path d="M0 15.5 C0 10.5 2 9.5 6.5 9.5 C11 9.5 12.5 10.5 12.5 15.5Z" fill="#3d85dc"/>
<circle cx="11.5" cy="13.5" r="1.5" fill="#e8b070"/></svg><div class="si" style="left:61px;top:547.7px;line-height:13.8px">Дневен график - персонал<br>(планов)</div>
<svg class="abs" style="left:10.4px;top:593.0px" width="9" height="15" viewBox="0 0 9 15"><rect x="0.3" y="0" width="8.6" height="15" rx="0.8" fill="#c4987a"/>
<path d="M7 2H8.5M7 4.5H8.5M7 7H8.5M7 9.5H8.5M7 12H8.5" stroke="#e6c6a6" stroke-width="0.6"/></svg><div class="si" style="left:26px;top:594.0px;font-size:12.5px;letter-spacing:-0.4px">Изход</div>
<div class="hdr">
<svg class="abs" style="left:27px;top:11px" width="17" height="13" viewBox="0 0 17 13"><path d="M0 1.5H17M0 6.5H17M0 11.5H17" stroke="#fff" stroke-width="2"/></svg>
<div class="t" style="left:58px;top:5.5px;font-size:20px;line-height:22px;letter-spacing:-0.45px">Модул 'Норми'</div>
<svg class="abs" style="left:841.5px;top:13px" width="10" height="7" viewBox="0 0 10 7"><path d="M1 1.5L5 5.2L9 1.5" fill="none" stroke="#fff" stroke-width="1.8"/></svg>
<div class="t" style="left:861.0px;top:9.5px;font-size:13px;line-height:15px;font-weight:bold;letter-spacing:-0.5px">admin</div>
<div class="t" style="left:980.5px;top:9.5px;font-size:12.5px;line-height:15px;font-weight:bold;letter-spacing:-0.4px">Български</div>
<svg class="abs" style="left:1058.5px;top:16px" width="8" height="4" viewBox="0 0 8 4"><path d="M0 0H8L4 4Z" fill="#fff"/></svg>
<svg class="abs" style="left:1083.0px;top:15px" width="13" height="13" viewBox="0 0 13 13"><path d="M1 11 C2 7 2 3 6.5 2 C11 3 11 7 12 11 Z" fill="#e6c49a"/><rect x="0.5" y="10.5" width="12" height="1.5" fill="#d8b080"/></svg>
<svg class="abs" style="left:1095.0px;top:9.5px" width="14" height="14" viewBox="0 0 14 14"><circle cx="7" cy="7" r="6.5" fill="#e3141b"/><text x="7" y="10.5" font-size="9" fill="#fff" text-anchor="middle" font-family="Liberation Sans">1</text></svg>
</div>
<svg class="abs" style="left:240.6px;top:50px" width="11.48" height="12.30" viewBox="0 0 14 15">
<path d="M4 0 L5 3 H9 L10 0 L10.5 4 L9.5 6 L13.8 14.5 H0.2 L4.5 6 L3.5 4Z" fill="#4a8de0"/><path d="M4.3 6.2 H9.7" stroke="#5a50c0" stroke-width="1.3"/>
<path d="M2 14.5 L5.2 6" stroke="#5a50c0" stroke-width="1.2"/></svg><div class="t" style="left:258px;top:49.5px;font-size:12px;line-height:15px;font-weight:bold;color:#222;letter-spacing:-0.2px">Дневен график - изделия</div>
<svg class="abs" style="left:418.5px;top:52px" width="9" height="9" viewBox="0 0 9 9"><path d="M0.5 0.5L8.5 8.5M8.5 0.5L0.5 8.5" stroke="#444" stroke-width="1.3"/></svg>
<div class="abs" style="left:217px;top:76px;width:233px;height:2px;background:#2f80d8"></div>
<div class="abs" style="left:450px;top:77px;right:0;height:1px;background:#eee"></div>
<div class="abs" style="left:258px;top:674.5px;width:1036px;height:1.6px;background:#5a5a5a;box-shadow:0 1px 4px rgba(0,0,0,.25)"></div>
<div class="abs" style="left:254px;top:87px;width:1043px;height:585px;border:2px solid #3c3c3c;border-bottom:none;border-radius:5px 5px 0 0;background:#f9f9f9;overflow:hidden">
<div class="abs" style="left:0;top:0;right:0;height:63px;background:#cbcbcb;border-bottom:2px solid #222"></div>
</div>
<div class="abs" style="left:315px;top:98px;width:218px;height:47px;border:1px solid #8a8a8a;border-radius:4px;background:transparent"></div>
<div class="t" style="left:325px;top:91px;font-size:11px;line-height:13px;color:#555;background:#cbcbcb;padding:0 4px">Модел</div>
<div class="t" style="left:329px;top:112.5px;font-size:14.5px;line-height:18px;color:#222;letter-spacing:0.3px">7295</div>
<svg class="abs" style="left:503.00px;top:109.50px" width="24.00" height="24.00" viewBox="0 0 24 24"><path d="M7 10l5 5 5-5z" fill="#f4f4f4"/></svg>
<div class="abs" style="left:537px;top:98px;width:130px;height:47px;border:1px solid #8a8a8a;border-radius:4px;background:transparent"></div>
<div class="t" style="left:547px;top:91px;font-size:11px;line-height:13px;color:#555;background:#cbcbcb;padding:0 4px">Часове*</div>
<div class="t" style="left:551px;top:112.5px;font-size:14.5px;line-height:18px;color:#222;letter-spacing:0.3px">8</div>
<div class="abs" style="left:668px;top:98px;width:129px;height:47px;border:1px solid #8a8a8a;border-radius:4px;background:transparent"></div>
<div class="t" style="left:678px;top:91px;font-size:11px;line-height:13px;color:#555;background:#cbcbcb;padding:0 4px">% изп. тр. норм.*</div>
<div class="t" style="left:682px;top:112.5px;font-size:14.5px;line-height:18px;color:#222;letter-spacing:0.3px">90</div>
<div class="abs" style="left:798px;top:98px;width:129px;height:47px;border:1px solid #8a8a8a;border-radius:4px;background:transparent"></div>
<div class="t" style="left:808px;top:91px;font-size:11px;line-height:13px;color:#555;background:#cbcbcb;padding:0 4px">Бр. изделия*</div>
<div class="t" style="left:812px;top:112.5px;font-size:14.5px;line-height:18px;color:#222;letter-spacing:0.3px">950</div>
<svg class="abs" style="left:1098.87px;top:111.47px" width="20.27" height="20.27" viewBox="0 0 24 24"><path d="M19 3H5c-1.1 0-2 .9-2 2v14c0 1.1.9 2 2 2h14c1.1 0 2-.9 2-2V5c0-1.1-.9-2-2-2zm-5.97 4.06L14.09 6l1.41 1.41L16.91 6l1.06 1.06-1.41 1.41 1.41 1.41-1.060 1.06-1.41-1.4-1.41 1.41-1.06-1.06 1.41-1.41-1.41-1.42zm-6.78.66h5v1.5h-5v-1.5zM11.5 16h-2v2H8v-2H6v-1.5h2v-2h1.5v2h2V16zm6.5 1.25h-5v-1.5h5v1.5zm0-2.5h-5v-1.5h5v1.5z" fill="#444"/></svg>
<svg class="abs" style="left:1133.22px;top:111.33px" width="21.36" height="21.36" viewBox="0 0 24 24"><path d="M19 8H5c-1.66 0-3 1.34-3 3v6h4v4h12v-4h4v-6c0-1.66-1.34-3-3-3zm-3 11H8v-5h8v5zm3-7c-.55 0-1-.45-1-1s.45-1 1-1 1 .45 1 1-.45 1-1 1zm-1-9H6v4h12V3z" fill="#444"/></svg>
<svg class="abs" style="left:1168.14px;top:111.39px" width="20.91" height="20.91" viewBox="0 0 24 24"><path d="M19 9h-4V3H9v6H5l7 7 7-7zM5 18v2h14v-2H5z" fill="#444"/></svg>
<div class="abs" style="left:256px;top:152px;width:1026.5px;height:44px;background:#e0e0e0"></div>
<div class="abs" style="left:256px;top:196.00px;width:1026.5px;height:18.28px;background:#f5f5f7;border-top:1px solid #3a3a3a"></div>
<div class="abs" style="left:256px;top:214.28px;width:1026.5px;height:18.28px;background:#f5f5f7;border-top:1px solid #3a3a3a"></div>
<div class="abs" style="left:256px;top:232.56px;width:1026.5px;height:18.28px;background:#f5f5f7;border-top:1px solid #3a3a3a"></div>
<div class="abs" style="left:256px;top:250.84px;width:1026.5px;height:18.28px;background:#f5f5f7;border-top:1px solid #3a3a3a"></div>
<div class="abs" style="left:256px;top:269.12px;width:1026.5px;height:18.28px;background:#f5f5f7;border-top:1px solid #3a3a3a"></div>
<div class="abs" style="left:256px;top:287.40px;width:1026.5px;height:18.28px;background:#f5f5f7;border-top:1px solid #3a3a3a"></div>
<div class="abs" style="left:256px;top:305.68px;width:1026.5px;height:18.28px;background:#f5f5f7;border-top:1px solid #3a3a3a"></div>
<div class="abs" style="left:256px;top:323.96px;width:1026.5px;height:18.28px;background:#f5f5f7;border-top:1px solid #3a3a3a"></div>
<div class="abs" style="left:256px;top:342.24px;width:1026.5px;height:18.28px;background:#f5f5f7;border-top:1px solid #3a3a3a"></div>
<div class="abs" style="left:256px;top:360.52px;width:1026.5px;height:18.28px;background:#f5f5f7;border-top:1px solid #3a3a3a"></div>
<div class="abs" style="left:256px;top:378.80px;width:1026.5px;height:18.28px;background:#f5f5f7;border-top:1px solid #3a3a3a"></div>
<div class="abs" style="left:256px;top:397.08px;width:1026.5px;height:18.28px;background:#f5f5f7;border-top:1px solid #3a3a3a"></div>
<div class="abs" style="left:256px;top:415.36px;width:1026.5px;height:18.28px;background:#f5f5f7;border-top:1px solid #3a3a3a"></div>
<div class="abs" style="left:256px;top:433.64px;width:1026.5px;height:18.28px;background:#f5f5f7;border-top:1px solid #3a3a3a"></div>
<div class="abs" style="left:256px;top:451.92px;width:1026.5px;height:18.28px;background:#f5f5f7;border-top:1px solid #3a3a3a"></div>
<div class="abs" style="left:256px;top:470.20px;width:1026.5px;height:18.28px;background:#f5f5f7;border-top:1px solid #3a3a3a"></div>
<div class="abs" style="left:256px;top:488.48px;width:1026.5px;height:18.28px;background:#f5f5f7;border-top:1px solid #3a3a3a"></div>
<div class="abs" style="left:256px;top:506.76px;width:1026.5px;height:18.28px;background:#f5f5f7;border-top:1px solid #3a3a3a"></div>
<div class="abs" style="left:256px;top:525.04px;width:1026.5px;height:18.28px;background:#f5f5f7;border-top:1px solid #3a3a3a"></div>
<div class="abs" style="left:256px;top:543.32px;width:1026.5px;height:18.28px;background:#f5f5f7;border-top:1px solid #3a3a3a"></div>
<div class="abs" style="left:256px;top:561.60px;width:1026.5px;height:18.28px;background:#f5f5f7;border-top:1px solid #3a3a3a"></div>
<div class="abs" style="left:256px;top:579.88px;width:1026.5px;height:18.28px;background:#f5f5f7;border-top:1px solid #3a3a3a"></div>
<div class="abs" style="left:256px;top:598.16px;width:1026.5px;height:30.84px;background:#dedede;border-top:1px solid #3a3a3a"></div>
<div class="abs" style="left:307.5px;top:152px;width:1.2px;height:477px;background:#3a3a3a"></div>
<div class="abs" style="left:597.0px;top:152px;width:1.2px;height:477px;background:#3a3a3a"></div>
<div class="abs" style="left:839.5px;top:152px;width:1.2px;height:477px;background:#3a3a3a"></div>
<div class="abs" style="left:891.0px;top:152px;width:1.2px;height:477px;background:#3a3a3a"></div>
<div class="abs" style="left:961.0px;top:152px;width:1.2px;height:477px;background:#3a3a3a"></div>
<div class="abs" style="left:1021.5px;top:152px;width:1.2px;height:477px;background:#3a3a3a"></div>
<div class="abs" style="left:1082.0px;top:152px;width:1.2px;height:477px;background:#3a3a3a"></div>
<div class="abs" style="left:1142.5px;top:152px;width:1.2px;height:477px;background:#3a3a3a"></div>
<div class="abs" style="left:1208.0px;top:152px;width:1.2px;height:477px;background:#3a3a3a"></div>
<div class="abs" style="left:1282.0px;top:152px;width:1.2px;height:477px;background:#3a3a3a"></div>
<div class="t" style="left:256px;top:166.8px;width:52px;text-align:center;font-size:12px;line-height:17px;font-weight:bold;color:#222;letter-spacing:-0.1px">Код</div>
<div class="t" style="left:308px;top:166.8px;width:289.5px;text-align:center;font-size:12px;line-height:17px;font-weight:bold;color:#222;letter-spacing:-0.1px">Операция</div>
<div class="t" style="left:597.5px;top:166.8px;width:242.5px;text-align:center;font-size:12px;line-height:17px;font-weight:bold;color:#222;letter-spacing:-0.1px">Вариант</div>
<div class="t" style="left:840px;top:166.8px;width:51.5px;text-align:center;font-size:12px;line-height:17px;font-weight:bold;color:#222;letter-spacing:-0.1px">График</div>
<div class="t" style="left:891.5px;top:166.8px;width:70.0px;text-align:center;font-size:12px;line-height:17px;font-weight:bold;color:#222;letter-spacing:-0.1px">НВ, мин.</div>
<div class="t" style="left:961.5px;top:166.8px;width:60.5px;text-align:center;font-size:12px;line-height:17px;font-weight:bold;color:#222;letter-spacing:-0.1px">Раб.</div>
<div class="t" style="left:1022px;top:166.8px;width:60.5px;text-align:center;font-size:12px;line-height:17px;font-weight:bold;color:#222;letter-spacing:-0.1px">Раб. с %</div>
<div class="t" style="left:1082.5px;top:166.8px;width:60.5px;text-align:center;font-size:12px;line-height:17px;font-weight:bold;color:#222;letter-spacing:-0.1px">ФРЗ</div>
<div class="t" style="left:1143px;top:158.3px;width:65.5px;text-align:center;font-size:12px;line-height:17px;font-weight:bold;color:#222;letter-spacing:-0.1px">Часова<br>ставка</div>
<div class="t" style="left:1208.5px;top:158.3px;width:74.0px;text-align:center;font-size:12px;line-height:17px;font-weight:bold;color:#222;letter-spacing:-0.1px">Среднодн.<br>зараб.</div>
<div class="t" style="left:256px;top:198.60px;width:47px;text-align:right;font-size:11.5px;line-height:15px;color:#5a5a5a">10121</div>
<div class="t" style="left:322px;top:198.60px;font-size:11.5px;line-height:15px;color:#5a5a5a;white-space:pre">ОТК-прегл.на сурово</div>
<div class="t" style="left:610.5px;top:198.60px;font-size:11.5px;line-height:15px;color:#5a5a5a;white-space:pre">фул.фешън-гладка плетка</div>
<div class="t" style="left:840px;top:198.60px;width:49.5px;text-align:right;font-size:11.5px;line-height:15px;color:#5a5a5a">950.00</div>
<div class="t" style="left:891.5px;top:198.60px;width:68.0px;text-align:right;font-size:11.5px;line-height:15px;color:#5a5a5a">1710.00</div>
<div class="t" style="left:961.5px;top:198.60px;width:58.5px;text-align:right;font-size:11.5px;line-height:15px;color:#5a5a5a">3.56</div>
<div class="t" style="left:1022px;top:198.60px;width:58.5px;text-align:right;font-size:11.5px;line-height:15px;color:#5a5a5a">3.96</div>
<div class="t" style="left:1082.5px;top:198.60px;width:58.5px;text-align:right;font-size:11.5px;line-height:15px;color:#5a5a5a">161.39</div>
<div class="t" style="left:1143px;top:198.60px;width:63.5px;text-align:right;font-size:11.5px;line-height:15px;color:#5a5a5a">5.66265</div>
<div class="t" style="left:1208.5px;top:198.60px;width:72.0px;text-align:right;font-size:11.5px;line-height:15px;color:#5a5a5a">40.77</div>
<div class="t" style="left:256px;top:216.88px;width:47px;text-align:right;font-size:11.5px;line-height:15px;color:#5a5a5a">90109</div>
<div class="t" style="left:322px;top:216.88px;font-size:11.5px;line-height:15px;color:#5a5a5a;white-space:pre">Глади сурово</div>
<div class="t" style="left:610.5px;top:216.88px;font-size:11.5px;line-height:15px;color:#5a5a5a;white-space:pre">3бр.</div>
<div class="t" style="left:840px;top:216.88px;width:49.5px;text-align:right;font-size:11.5px;line-height:15px;color:#5a5a5a">950.00</div>
<div class="t" style="left:891.5px;top:216.88px;width:68.0px;text-align:right;font-size:11.5px;line-height:15px;color:#5a5a5a">3325.00</div>
<div class="t" style="left:961.5px;top:216.88px;width:58.5px;text-align:right;font-size:11.5px;line-height:15px;color:#5a5a5a">6.93</div>
<div class="t" style="left:1022px;top:216.88px;width:58.5px;text-align:right;font-size:11.5px;line-height:15px;color:#5a5a5a">7.70</div>
<div class="t" style="left:1082.5px;top:216.88px;width:58.5px;text-align:right;font-size:11.5px;line-height:15px;color:#5a5a5a">313.81</div>
<div class="t" style="left:1143px;top:216.88px;width:63.5px;text-align:right;font-size:11.5px;line-height:15px;color:#5a5a5a">5.66265</div>
<div class="t" style="left:1208.5px;top:216.88px;width:72.0px;text-align:right;font-size:11.5px;line-height:15px;color:#5a5a5a">40.77</div>
<div class="t" style="left:256px;top:235.16px;width:47px;text-align:right;font-size:11.5px;line-height:15px;color:#5a5a5a">31601</div>
<div class="t" style="left:322px;top:235.16px;font-size:11.5px;line-height:15px;color:#5a5a5a;white-space:pre">Прието от плетене</div>
<div class="t" style="left:610.5px;top:235.16px;font-size:11.5px;line-height:15px;color:#5a5a5a;white-space:pre">приемане на бройки</div>
<div class="t" style="left:840px;top:235.16px;width:49.5px;text-align:right;font-size:11.5px;line-height:15px;color:#5a5a5a">950.00</div>
<div class="t" style="left:891.5px;top:235.16px;width:68.0px;text-align:right;font-size:11.5px;line-height:15px;color:#5a5a5a">0.95</div>
<div class="t" style="left:961.5px;top:235.16px;width:58.5px;text-align:right;font-size:11.5px;line-height:15px;color:#5a5a5a">0.00</div>
<div class="t" style="left:1022px;top:235.16px;width:58.5px;text-align:right;font-size:11.5px;line-height:15px;color:#5a5a5a">0.00</div>
<div class="t" style="left:1082.5px;top:235.16px;width:58.5px;text-align:right;font-size:11.5px;line-height:15px;color:#5a5a5a">0.00</div>
<div class="t" style="left:1143px;top:235.16px;width:63.5px;text-align:right;font-size:11.5px;line-height:15px;color:#5a5a5a">0.00006</div>
<div class="t" style="left:1208.5px;top:235.16px;width:72.0px;text-align:right;font-size:11.5px;line-height:15px;color:#5a5a5a">0.00</div>
<div class="t" style="left:256px;top:253.44px;width:47px;text-align:right;font-size:11.5px;line-height:15px;color:#5a5a5a">10103</div>
<div class="t" style="left:322px;top:253.44px;font-size:11.5px;line-height:15px;color:#5a5a5a;white-space:pre">ОТК-плетене</div>
<div class="t" style="left:610.5px;top:253.44px;font-size:11.5px;line-height:15px;color:#5a5a5a;white-space:pre">гладка плетка</div>
<div class="t" style="left:840px;top:253.44px;width:49.5px;text-align:right;font-size:11.5px;line-height:15px;color:#5a5a5a">950.00</div>
<div class="t" style="left:891.5px;top:253.44px;width:68.0px;text-align:right;font-size:11.5px;line-height:15px;color:#5a5a5a">760.00</div>
<div class="t" style="left:961.5px;top:253.44px;width:58.5px;text-align:right;font-size:11.5px;line-height:15px;color:#5a5a5a">1.58</div>
<div class="t" style="left:1022px;top:253.44px;width:58.5px;text-align:right;font-size:11.5px;line-height:15px;color:#5a5a5a">1.76</div>
<div class="t" style="left:1082.5px;top:253.44px;width:58.5px;text-align:right;font-size:11.5px;line-height:15px;color:#5a5a5a">71.73</div>
<div class="t" style="left:1143px;top:253.44px;width:63.5px;text-align:right;font-size:11.5px;line-height:15px;color:#5a5a5a">5.66265</div>
<div class="t" style="left:1208.5px;top:253.44px;width:72.0px;text-align:right;font-size:11.5px;line-height:15px;color:#5a5a5a">40.77</div>
<div class="t" style="left:256px;top:271.72px;width:47px;text-align:right;font-size:11.5px;line-height:15px;color:#5a5a5a">10101</div>
<div class="t" style="left:322px;top:271.72px;font-size:11.5px;line-height:15px;color:#5a5a5a;white-space:pre"> Кроене</div>
<div class="t" style="left:610.5px;top:271.72px;font-size:11.5px;line-height:15px;color:#5a5a5a;white-space:pre">фул фешън вратен пул</div>
<div class="t" style="left:840px;top:271.72px;width:49.5px;text-align:right;font-size:11.5px;line-height:15px;color:#5a5a5a">950.00</div>
<div class="t" style="left:891.5px;top:271.72px;width:68.0px;text-align:right;font-size:11.5px;line-height:15px;color:#5a5a5a">1520.00</div>
<div class="t" style="left:961.5px;top:271.72px;width:58.5px;text-align:right;font-size:11.5px;line-height:15px;color:#5a5a5a">3.17</div>
<div class="t" style="left:1022px;top:271.72px;width:58.5px;text-align:right;font-size:11.5px;line-height:15px;color:#5a5a5a">3.52</div>
<div class="t" style="left:1082.5px;top:271.72px;width:58.5px;text-align:right;font-size:11.5px;line-height:15px;color:#5a5a5a">143.45</div>
<div class="t" style="left:1143px;top:271.72px;width:63.5px;text-align:right;font-size:11.5px;line-height:15px;color:#5a5a5a">5.66265</div>
<div class="t" style="left:1208.5px;top:271.72px;width:72.0px;text-align:right;font-size:11.5px;line-height:15px;color:#5a5a5a">40.77</div>
<div class="t" style="left:256px;top:290.00px;width:47px;text-align:right;font-size:11.5px;line-height:15px;color:#5a5a5a">31602</div>
<div class="t" style="left:322px;top:290.00px;font-size:11.5px;line-height:15px;color:#5a5a5a;white-space:pre">Прието от кроене</div>
<div class="t" style="left:610.5px;top:290.00px;font-size:11.5px;line-height:15px;color:#5a5a5a;white-space:pre">приемане на бройки</div>
<div class="t" style="left:840px;top:290.00px;width:49.5px;text-align:right;font-size:11.5px;line-height:15px;color:#5a5a5a">950.00</div>
<div class="t" style="left:891.5px;top:290.00px;width:68.0px;text-align:right;font-size:11.5px;line-height:15px;color:#5a5a5a">0.95</div>
<div class="t" style="left:961.5px;top:290.00px;width:58.5px;text-align:right;font-size:11.5px;line-height:15px;color:#5a5a5a">0.00</div>
<div class="t" style="left:1022px;top:290.00px;width:58.5px;text-align:right;font-size:11.5px;line-height:15px;color:#5a5a5a">0.00</div>
<div class="t" style="left:1082.5px;top:290.00px;width:58.5px;text-align:right;font-size:11.5px;line-height:15px;color:#5a5a5a">0.00</div>
<div class="t" style="left:1143px;top:290.00px;width:63.5px;text-align:right;font-size:11.5px;line-height:15px;color:#5a5a5a">0.00006</div>
<div class="t" style="left:1208.5px;top:290.00px;width:72.0px;text-align:right;font-size:11.5px;line-height:15px;color:#5a5a5a">0.00</div>
<div class="t" style="left:256px;top:308.28px;width:47px;text-align:right;font-size:11.5px;line-height:15px;color:#5a5a5a">21412</div>
<div class="t" style="left:322px;top:308.28px;font-size:11.5px;line-height:15px;color:#5a5a5a;white-space:pre">Почиства ръкави</div>
<div class="t" style="left:610.5px;top:308.28px;font-size:11.5px;line-height:15px;color:#5a5a5a;white-space:pre">2бр ръкави -връх</div>
<div class="t" style="left:840px;top:308.28px;width:49.5px;text-align:right;font-size:11.5px;line-height:15px;color:#5a5a5a">950.00</div>
<div class="t" style="left:891.5px;top:308.28px;width:68.0px;text-align:right;font-size:11.5px;line-height:15px;color:#5a5a5a">570.00</div>
<div class="t" style="left:961.5px;top:308.28px;width:58.5px;text-align:right;font-size:11.5px;line-height:15px;color:#5a5a5a">1.19</div>
<div class="t" style="left:1022px;top:308.28px;width:58.5px;text-align:right;font-size:11.5px;line-height:15px;color:#5a5a5a">1.32</div>
<div class="t" style="left:1082.5px;top:308.28px;width:58.5px;text-align:right;font-size:11.5px;line-height:15px;color:#5a5a5a">53.80</div>
<div class="t" style="left:1143px;top:308.28px;width:63.5px;text-align:right;font-size:11.5px;line-height:15px;color:#5a5a5a">5.66265</div>
<div class="t" style="left:1208.5px;top:308.28px;width:72.0px;text-align:right;font-size:11.5px;line-height:15px;color:#5a5a5a">40.77</div>
<div class="t" style="left:256px;top:326.56px;width:47px;text-align:right;font-size:11.5px;line-height:15px;color:#5a5a5a">21104</div>
<div class="t" style="left:322px;top:326.56px;font-size:11.5px;line-height:15px;color:#5a5a5a;white-space:pre">Ушива раменни шевове</div>
<div class="t" style="left:610.5px;top:326.56px;font-size:11.5px;line-height:15px;color:#5a5a5a;white-space:pre">без шарки с ласе</div>
<div class="t" style="left:840px;top:326.56px;width:49.5px;text-align:right;font-size:11.5px;line-height:15px;color:#5a5a5a">950.00</div>
<div class="t" style="left:891.5px;top:326.56px;width:68.0px;text-align:right;font-size:11.5px;line-height:15px;color:#5a5a5a">950.00</div>
<div class="t" style="left:961.5px;top:326.56px;width:58.5px;text-align:right;font-size:11.5px;line-height:15px;color:#5a5a5a">1.98</div>
<div class="t" style="left:1022px;top:326.56px;width:58.5px;text-align:right;font-size:11.5px;line-height:15px;color:#5a5a5a">2.20</div>
<div class="t" style="left:1082.5px;top:326.56px;width:58.5px;text-align:right;font-size:11.5px;line-height:15px;color:#5a5a5a">89.66</div>
<div class="t" style="left:1143px;top:326.56px;width:63.5px;text-align:right;font-size:11.5px;line-height:15px;color:#5a5a5a">5.66265</div>
<div class="t" style="left:1208.5px;top:326.56px;width:72.0px;text-align:right;font-size:11.5px;line-height:15px;color:#5a5a5a">40.77</div>
<div class="t" style="left:256px;top:344.84px;width:47px;text-align:right;font-size:11.5px;line-height:15px;color:#5a5a5a">80601</div>
<div class="t" style="left:322px;top:344.84px;font-size:11.5px;line-height:15px;color:#5a5a5a;white-space:pre">Разкачва биета</div>
<div class="t" style="left:610.5px;top:344.84px;font-size:11.5px;line-height:15px;color:#5a5a5a;white-space:pre">разк.-1бр.</div>
<div class="t" style="left:840px;top:344.84px;width:49.5px;text-align:right;font-size:11.5px;line-height:15px;color:#5a5a5a">950.00</div>
<div class="t" style="left:891.5px;top:344.84px;width:68.0px;text-align:right;font-size:11.5px;line-height:15px;color:#5a5a5a">475.00</div>
<div class="t" style="left:961.5px;top:344.84px;width:58.5px;text-align:right;font-size:11.5px;line-height:15px;color:#5a5a5a">0.99</div>
<div class="t" style="left:1022px;top:344.84px;width:58.5px;text-align:right;font-size:11.5px;line-height:15px;color:#5a5a5a">1.10</div>
<div class="t" style="left:1082.5px;top:344.84px;width:58.5px;text-align:right;font-size:11.5px;line-height:15px;color:#5a5a5a">44.83</div>
<div class="t" style="left:1143px;top:344.84px;width:63.5px;text-align:right;font-size:11.5px;line-height:15px;color:#5a5a5a">5.66265</div>
<div class="t" style="left:1208.5px;top:344.84px;width:72.0px;text-align:right;font-size:11.5px;line-height:15px;color:#5a5a5a">40.77</div>
<div class="t" style="left:256px;top:363.12px;width:47px;text-align:right;font-size:11.5px;line-height:15px;color:#5a5a5a">70602</div>
<div class="t" style="left:322px;top:363.12px;font-size:11.5px;line-height:15px;color:#5a5a5a;white-space:pre">Кетел-вратно бие</div>
<div class="t" style="left:610.5px;top:363.12px;font-size:11.5px;line-height:15px;color:#5a5a5a;white-space:pre">кет.вр.бие-14/16F</div>
<div class="t" style="left:840px;top:363.12px;width:49.5px;text-align:right;font-size:11.5px;line-height:15px;color:#5a5a5a">950.00</div>
<div class="t" style="left:891.5px;top:363.12px;width:68.0px;text-align:right;font-size:11.5px;line-height:15px;color:#5a5a5a">5700.00</div>
<div class="t" style="left:961.5px;top:363.12px;width:58.5px;text-align:right;font-size:11.5px;line-height:15px;color:#5a5a5a">11.88</div>
<div class="t" style="left:1022px;top:363.12px;width:58.5px;text-align:right;font-size:11.5px;line-height:15px;color:#5a5a5a">13.19</div>
<div class="t" style="left:1082.5px;top:363.12px;width:58.5px;text-align:right;font-size:11.5px;line-height:15px;color:#5a5a5a">537.95</div>
<div class="t" style="left:1143px;top:363.12px;width:63.5px;text-align:right;font-size:11.5px;line-height:15px;color:#5a5a5a">5.66265</div>
<div class="t" style="left:1208.5px;top:363.12px;width:72.0px;text-align:right;font-size:11.5px;line-height:15px;color:#5a5a5a">40.77</div>
<div class="t" style="left:256px;top:381.40px;width:47px;text-align:right;font-size:11.5px;line-height:15px;color:#5a5a5a">80603</div>
<div class="t" style="left:322px;top:381.40px;font-size:11.5px;line-height:15px;color:#5a5a5a;white-space:pre">Бридане</div>
<div class="t" style="left:610.5px;top:381.40px;font-size:11.5px;line-height:15px;color:#5a5a5a;white-space:pre">1бр.дв.чор.</div>
<div class="t" style="left:840px;top:381.40px;width:49.5px;text-align:right;font-size:11.5px;line-height:15px;color:#5a5a5a">950.00</div>
<div class="t" style="left:891.5px;top:381.40px;width:68.0px;text-align:right;font-size:11.5px;line-height:15px;color:#5a5a5a">475.00</div>
<div class="t" style="left:961.5px;top:381.40px;width:58.5px;text-align:right;font-size:11.5px;line-height:15px;color:#5a5a5a">0.99</div>
<div class="t" style="left:1022px;top:381.40px;width:58.5px;text-align:right;font-size:11.5px;line-height:15px;color:#5a5a5a">1.10</div>
<div class="t" style="left:1082.5px;top:381.40px;width:58.5px;text-align:right;font-size:11.5px;line-height:15px;color:#5a5a5a">44.83</div>
<div class="t" style="left:1143px;top:381.40px;width:63.5px;text-align:right;font-size:11.5px;line-height:15px;color:#5a5a5a">5.66265</div>
<div class="t" style="left:1208.5px;top:381.40px;width:72.0px;text-align:right;font-size:11.5px;line-height:15px;color:#5a5a5a">40.77</div>
<div class="t" style="left:256px;top:399.68px;width:47px;text-align:right;font-size:11.5px;line-height:15px;color:#5a5a5a">70618</div>
<div class="t" style="left:322px;top:399.68px;font-size:11.5px;line-height:15px;color:#5a5a5a;white-space:pre">Кетел ръкави</div>
<div class="t" style="left:610.5px;top:399.68px;font-size:11.5px;line-height:15px;color:#5a5a5a;white-space:pre">2бр. ръкави</div>
<div class="t" style="left:840px;top:399.68px;width:49.5px;text-align:right;font-size:11.5px;line-height:15px;color:#5a5a5a">950.00</div>
<div class="t" style="left:891.5px;top:399.68px;width:68.0px;text-align:right;font-size:11.5px;line-height:15px;color:#5a5a5a">5700.00</div>
<div class="t" style="left:961.5px;top:399.68px;width:58.5px;text-align:right;font-size:11.5px;line-height:15px;color:#5a5a5a">11.88</div>
<div class="t" style="left:1022px;top:399.68px;width:58.5px;text-align:right;font-size:11.5px;line-height:15px;color:#5a5a5a">13.19</div>
<div class="t" style="left:1082.5px;top:399.68px;width:58.5px;text-align:right;font-size:11.5px;line-height:15px;color:#5a5a5a">537.95</div>
<div class="t" style="left:1143px;top:399.68px;width:63.5px;text-align:right;font-size:11.5px;line-height:15px;color:#5a5a5a">5.66265</div>
<div class="t" style="left:1208.5px;top:399.68px;width:72.0px;text-align:right;font-size:11.5px;line-height:15px;color:#5a5a5a">40.77</div>
<div class="t" style="left:256px;top:417.96px;width:47px;text-align:right;font-size:11.5px;line-height:15px;color:#5a5a5a">90305</div>
<div class="t" style="left:322px;top:417.96px;font-size:11.5px;line-height:15px;color:#5a5a5a;white-space:pre">Междинно гладене</div>
<div class="t" style="left:610.5px;top:417.96px;font-size:11.5px;line-height:15px;color:#5a5a5a;white-space:pre">глади рамене,ръкави</div>
<div class="t" style="left:840px;top:417.96px;width:49.5px;text-align:right;font-size:11.5px;line-height:15px;color:#5a5a5a">950.00</div>
<div class="t" style="left:891.5px;top:417.96px;width:68.0px;text-align:right;font-size:11.5px;line-height:15px;color:#5a5a5a">760.00</div>
<div class="t" style="left:961.5px;top:417.96px;width:58.5px;text-align:right;font-size:11.5px;line-height:15px;color:#5a5a5a">1.58</div>
<div class="t" style="left:1022px;top:417.96px;width:58.5px;text-align:right;font-size:11.5px;line-height:15px;color:#5a5a5a">1.76</div>
<div class="t" style="left:1082.5px;top:417.96px;width:58.5px;text-align:right;font-size:11.5px;line-height:15px;color:#5a5a5a">71.73</div>
<div class="t" style="left:1143px;top:417.96px;width:63.5px;text-align:right;font-size:11.5px;line-height:15px;color:#5a5a5a">5.66265</div>
<div class="t" style="left:1208.5px;top:417.96px;width:72.0px;text-align:right;font-size:11.5px;line-height:15px;color:#5a5a5a">40.77</div>
<div class="t" style="left:256px;top:436.24px;width:47px;text-align:right;font-size:11.5px;line-height:15px;color:#5a5a5a">70604</div>
<div class="t" style="left:322px;top:436.24px;font-size:11.5px;line-height:15px;color:#5a5a5a;white-space:pre">Кетел-затваря ластици</div>
<div class="t" style="left:610.5px;top:436.24px;font-size:11.5px;line-height:15px;color:#5a5a5a;white-space:pre">4бр -4см</div>
<div class="t" style="left:840px;top:436.24px;width:49.5px;text-align:right;font-size:11.5px;line-height:15px;color:#5a5a5a">950.00</div>
<div class="t" style="left:891.5px;top:436.24px;width:68.0px;text-align:right;font-size:11.5px;line-height:15px;color:#5a5a5a">1301.50</div>
<div class="t" style="left:961.5px;top:436.24px;width:58.5px;text-align:right;font-size:11.5px;line-height:15px;color:#5a5a5a">2.71</div>
<div class="t" style="left:1022px;top:436.24px;width:58.5px;text-align:right;font-size:11.5px;line-height:15px;color:#5a5a5a">3.01</div>
<div class="t" style="left:1082.5px;top:436.24px;width:58.5px;text-align:right;font-size:11.5px;line-height:15px;color:#5a5a5a">122.83</div>
<div class="t" style="left:1143px;top:436.24px;width:63.5px;text-align:right;font-size:11.5px;line-height:15px;color:#5a5a5a">5.66265</div>
<div class="t" style="left:1208.5px;top:436.24px;width:72.0px;text-align:right;font-size:11.5px;line-height:15px;color:#5a5a5a">40.77</div>
<div class="t" style="left:256px;top:454.52px;width:47px;text-align:right;font-size:11.5px;line-height:15px;color:#5a5a5a">70624</div>
<div class="t" style="left:322px;top:454.52px;font-size:11.5px;line-height:15px;color:#5a5a5a;white-space:pre">Имитиращ кетел OV стр.шев</div>
<div class="t" style="left:610.5px;top:454.52px;font-size:11.5px;line-height:15px;color:#5a5a5a;white-space:pre">2бр.</div>
<div class="t" style="left:840px;top:454.52px;width:49.5px;text-align:right;font-size:11.5px;line-height:15px;color:#5a5a5a">950.00</div>
<div class="t" style="left:891.5px;top:454.52px;width:68.0px;text-align:right;font-size:11.5px;line-height:15px;color:#5a5a5a">1425.00</div>
<div class="t" style="left:961.5px;top:454.52px;width:58.5px;text-align:right;font-size:11.5px;line-height:15px;color:#5a5a5a">2.97</div>
<div class="t" style="left:1022px;top:454.52px;width:58.5px;text-align:right;font-size:11.5px;line-height:15px;color:#5a5a5a">3.30</div>
<div class="t" style="left:1082.5px;top:454.52px;width:58.5px;text-align:right;font-size:11.5px;line-height:15px;color:#5a5a5a">134.49</div>
<div class="t" style="left:1143px;top:454.52px;width:63.5px;text-align:right;font-size:11.5px;line-height:15px;color:#5a5a5a">5.66265</div>
<div class="t" style="left:1208.5px;top:454.52px;width:72.0px;text-align:right;font-size:11.5px;line-height:15px;color:#5a5a5a">40.77</div>
<div class="t" style="left:256px;top:472.80px;width:47px;text-align:right;font-size:11.5px;line-height:15px;color:#5a5a5a">40816</div>
<div class="t" style="left:322px;top:472.80px;font-size:11.5px;line-height:15px;color:#5a5a5a;white-space:pre">Пришива емблема</div>
<div class="t" style="left:610.5px;top:472.80px;font-size:11.5px;line-height:15px;color:#5a5a5a;white-space:pre">1бр.хим.знак</div>
<div class="t" style="left:840px;top:472.80px;width:49.5px;text-align:right;font-size:11.5px;line-height:15px;color:#5a5a5a">950.00</div>
<div class="t" style="left:891.5px;top:472.80px;width:68.0px;text-align:right;font-size:11.5px;line-height:15px;color:#5a5a5a">760.00</div>
<div class="t" style="left:961.5px;top:472.80px;width:58.5px;text-align:right;font-size:11.5px;line-height:15px;color:#5a5a5a">1.58</div>
<div class="t" style="left:1022px;top:472.80px;width:58.5px;text-align:right;font-size:11.5px;line-height:15px;color:#5a5a5a">1.76</div>
<div class="t" style="left:1082.5px;top:472.80px;width:58.5px;text-align:right;font-size:11.5px;line-height:15px;color:#5a5a5a">71.73</div>
<div class="t" style="left:1143px;top:472.80px;width:63.5px;text-align:right;font-size:11.5px;line-height:15px;color:#5a5a5a">5.66265</div>
<div class="t" style="left:1208.5px;top:472.80px;width:72.0px;text-align:right;font-size:11.5px;line-height:15px;color:#5a5a5a">40.77</div>
<div class="t" style="left:256px;top:491.08px;width:47px;text-align:right;font-size:11.5px;line-height:15px;color:#5a5a5a">31604</div>
<div class="t" style="left:322px;top:491.08px;font-size:11.5px;line-height:15px;color:#5a5a5a;white-space:pre">Прието от специални машини</div>
<div class="t" style="left:610.5px;top:491.08px;font-size:11.5px;line-height:15px;color:#5a5a5a;white-space:pre">приемане на бройки</div>
<div class="t" style="left:840px;top:491.08px;width:49.5px;text-align:right;font-size:11.5px;line-height:15px;color:#5a5a5a">950.00</div>
<div class="t" style="left:891.5px;top:491.08px;width:68.0px;text-align:right;font-size:11.5px;line-height:15px;color:#5a5a5a">0.95</div>
<div class="t" style="left:961.5px;top:491.08px;width:58.5px;text-align:right;font-size:11.5px;line-height:15px;color:#5a5a5a">0.00</div>
<div class="t" style="left:1022px;top:491.08px;width:58.5px;text-align:right;font-size:11.5px;line-height:15px;color:#5a5a5a">0.00</div>
<div class="t" style="left:1082.5px;top:491.08px;width:58.5px;text-align:right;font-size:11.5px;line-height:15px;color:#5a5a5a">0.00</div>
<div class="t" style="left:1143px;top:491.08px;width:63.5px;text-align:right;font-size:11.5px;line-height:15px;color:#5a5a5a">0.00006</div>
<div class="t" style="left:1208.5px;top:491.08px;width:72.0px;text-align:right;font-size:11.5px;line-height:15px;color:#5a5a5a">0.00</div>
<div class="t" style="left:256px;top:509.36px;width:47px;text-align:right;font-size:11.5px;line-height:15px;color:#5a5a5a">80401</div>
<div class="t" style="left:322px;top:509.36px;font-size:11.5px;line-height:15px;color:#5a5a5a;white-space:pre">Промушване и зашиване на резерва</div>
<div class="t" style="left:610.5px;top:509.36px;font-size:11.5px;line-height:15px;color:#5a5a5a;white-space:pre">5бр.пром. и обр. на бр.</div>
<div class="t" style="left:840px;top:509.36px;width:49.5px;text-align:right;font-size:11.5px;line-height:15px;color:#5a5a5a">950.00</div>
<div class="t" style="left:891.5px;top:509.36px;width:68.0px;text-align:right;font-size:11.5px;line-height:15px;color:#5a5a5a">950.00</div>
<div class="t" style="left:961.5px;top:509.36px;width:58.5px;text-align:right;font-size:11.5px;line-height:15px;color:#5a5a5a">1.98</div>
<div class="t" style="left:1022px;top:509.36px;width:58.5px;text-align:right;font-size:11.5px;line-height:15px;color:#5a5a5a">2.20</div>
<div class="t" style="left:1082.5px;top:509.36px;width:58.5px;text-align:right;font-size:11.5px;line-height:15px;color:#5a5a5a">89.66</div>
<div class="t" style="left:1143px;top:509.36px;width:63.5px;text-align:right;font-size:11.5px;line-height:15px;color:#5a5a5a">5.66265</div>
<div class="t" style="left:1208.5px;top:509.36px;width:72.0px;text-align:right;font-size:11.5px;line-height:15px;color:#5a5a5a">40.77</div>
<div class="t" style="left:256px;top:527.64px;width:47px;text-align:right;font-size:11.5px;line-height:15px;color:#5a5a5a">80404</div>
<div class="t" style="left:322px;top:527.64px;font-size:11.5px;line-height:15px;color:#5a5a5a;white-space:pre">Зашива бие</div>
<div class="t" style="left:610.5px;top:527.64px;font-size:11.5px;line-height:15px;color:#5a5a5a;white-space:pre">бие 1 см</div>
<div class="t" style="left:840px;top:527.64px;width:49.5px;text-align:right;font-size:11.5px;line-height:15px;color:#5a5a5a">950.00</div>
<div class="t" style="left:891.5px;top:527.64px;width:68.0px;text-align:right;font-size:11.5px;line-height:15px;color:#5a5a5a">1425.00</div>
<div class="t" style="left:961.5px;top:527.64px;width:58.5px;text-align:right;font-size:11.5px;line-height:15px;color:#5a5a5a">2.97</div>
<div class="t" style="left:1022px;top:527.64px;width:58.5px;text-align:right;font-size:11.5px;line-height:15px;color:#5a5a5a">3.30</div>
<div class="t" style="left:1082.5px;top:527.64px;width:58.5px;text-align:right;font-size:11.5px;line-height:15px;color:#5a5a5a">134.49</div>
<div class="t" style="left:1143px;top:527.64px;width:63.5px;text-align:right;font-size:11.5px;line-height:15px;color:#5a5a5a">5.66265</div>
<div class="t" style="left:1208.5px;top:527.64px;width:72.0px;text-align:right;font-size:11.5px;line-height:15px;color:#5a5a5a">40.77</div>
<div class="t" style="left:256px;top:545.92px;width:47px;text-align:right;font-size:11.5px;line-height:15px;color:#5a5a5a">90521</div>
<div class="t" style="left:322px;top:545.92px;font-size:11.5px;line-height:15px;color:#5a5a5a;white-space:pre">Затяга резерви  Спец. машина</div>
<div class="t" style="left:610.5px;top:545.92px;font-size:11.5px;line-height:15px;color:#5a5a5a;white-space:pre">8бр.</div>
<div class="t" style="left:840px;top:545.92px;width:49.5px;text-align:right;font-size:11.5px;line-height:15px;color:#5a5a5a">950.00</div>
<div class="t" style="left:891.5px;top:545.92px;width:68.0px;text-align:right;font-size:11.5px;line-height:15px;color:#5a5a5a">1520.00</div>
<div class="t" style="left:961.5px;top:545.92px;width:58.5px;text-align:right;font-size:11.5px;line-height:15px;color:#5a5a5a">3.17</div>
<div class="t" style="left:1022px;top:545.92px;width:58.5px;text-align:right;font-size:11.5px;line-height:15px;color:#5a5a5a">3.52</div>
<div class="t" style="left:1082.5px;top:545.92px;width:58.5px;text-align:right;font-size:11.5px;line-height:15px;color:#5a5a5a">143.45</div>
<div class="t" style="left:1143px;top:545.92px;width:63.5px;text-align:right;font-size:11.5px;line-height:15px;color:#5a5a5a">5.66265</div>
<div class="t" style="left:1208.5px;top:545.92px;width:72.0px;text-align:right;font-size:11.5px;line-height:15px;color:#5a5a5a">40.77</div>
<div class="t" style="left:256px;top:564.20px;width:47px;text-align:right;font-size:11.5px;line-height:15px;color:#5a5a5a">31605</div>
<div class="t" style="left:322px;top:564.20px;font-size:11.5px;line-height:15px;color:#5a5a5a;white-space:pre">Прието от П.М.,ОТК,Опаковкаи етик.</div>
<div class="t" style="left:610.5px;top:564.20px;font-size:11.5px;line-height:15px;color:#5a5a5a;white-space:pre">приемане на бройки</div>
<div class="t" style="left:840px;top:564.20px;width:49.5px;text-align:right;font-size:11.5px;line-height:15px;color:#5a5a5a">950.00</div>
<div class="t" style="left:891.5px;top:564.20px;width:68.0px;text-align:right;font-size:11.5px;line-height:15px;color:#5a5a5a">0.95</div>
<div class="t" style="left:961.5px;top:564.20px;width:58.5px;text-align:right;font-size:11.5px;line-height:15px;color:#5a5a5a">0.00</div>
<div class="t" style="left:1022px;top:564.20px;width:58.5px;text-align:right;font-size:11.5px;line-height:15px;color:#5a5a5a">0.00</div>
<div class="t" style="left:1082.5px;top:564.20px;width:58.5px;text-align:right;font-size:11.5px;line-height:15px;color:#5a5a5a">0.00</div>
<div class="t" style="left:1143px;top:564.20px;width:63.5px;text-align:right;font-size:11.5px;line-height:15px;color:#5a5a5a">0.00006</div>
<div class="t" style="left:1208.5px;top:564.20px;width:72.0px;text-align:right;font-size:11.5px;line-height:15px;color:#5a5a5a">0.00</div>
<div class="t" style="left:256px;top:582.48px;width:47px;text-align:right;font-size:11.5px;line-height:15px;color:#5a5a5a">90311</div>
<div class="t" style="left:322px;top:582.48px;font-size:11.5px;line-height:15px;color:#5a5a5a;white-space:pre">Крайно гладене 3</div>
<div class="t" style="left:610.5px;top:582.48px;font-size:11.5px;line-height:15px;color:#5a5a5a;white-space:pre">странични шевове</div>
<div class="t" style="left:840px;top:582.48px;width:49.5px;text-align:right;font-size:11.5px;line-height:15px;color:#5a5a5a">950.00</div>
<div class="t" style="left:891.5px;top:582.48px;width:68.0px;text-align:right;font-size:11.5px;line-height:15px;color:#5a5a5a">285.00</div>
<div class="t" style="left:961.5px;top:582.48px;width:58.5px;text-align:right;font-size:11.5px;line-height:15px;color:#5a5a5a">0.59</div>
<div class="t" style="left:1022px;top:582.48px;width:58.5px;text-align:right;font-size:11.5px;line-height:15px;color:#5a5a5a">0.66</div>
<div class="t" style="left:1082.5px;top:582.48px;width:58.5px;text-align:right;font-size:11.5px;line-height:15px;color:#5a5a5a">26.90</div>
<div class="t" style="left:1143px;top:582.48px;width:63.5px;text-align:right;font-size:11.5px;line-height:15px;color:#5a5a5a">5.66265</div>
<div class="t" style="left:1208.5px;top:582.48px;width:72.0px;text-align:right;font-size:11.5px;line-height:15px;color:#5a5a5a">40.77</div>
<div class="t" style="left:597.5px;top:605.16px;width:238.5px;text-align:right;font-size:12.5px;line-height:16px;font-weight:bold;color:#222">Общо за шиене:</div>
<div class="t" style="left:891.5px;top:605.16px;width:66.0px;text-align:right;font-size:12.5px;line-height:16px;font-weight:bold;color:#222">36,768.80</div>
<div class="t" style="left:961.5px;top:605.16px;width:56.5px;text-align:right;font-size:12.5px;line-height:16px;font-weight:bold;color:#222">76.60</div>
<div class="t" style="left:1022px;top:605.16px;width:56.5px;text-align:right;font-size:12.5px;line-height:16px;font-weight:bold;color:#222">85.11</div>
<div class="t" style="left:1082.5px;top:605.16px;width:56.5px;text-align:right;font-size:12.5px;line-height:16px;font-weight:bold;color:#222">3,469.81</div>
<div class="abs" style="left:1283.2px;top:152px;width:11.8px;height:477px;background:#fafafa"></div>
<svg class="abs" style="left:1285.5px;top:155px" width="9" height="7" viewBox="0 0 9 7"><path d="M0 6.5 L4.5 1 L9 6.5Z" fill="#999"/></svg>
<svg class="abs" style="left:1285.5px;top:619px" width="9" height="7" viewBox="0 0 9 7"><path d="M0 0.5 L4.5 6 L9 0.5Z" fill="#999"/></svg>
<div class="abs" style="left:1286.0px;top:168px;width:8px;height:332px;background:#8e8e8e;border-radius:4px"></div></div><div class="scr" style="left:0;top:688px;width:1332px;height:684px;transform:scale(0.5)"><div class="sb" style="height:457px"></div>
<div class="sbb" style="top:457px;height:224px"></div>
<div class="logo"></div>
<svg class="abs" style="left:0px;top:0px" width="200" height="78" viewBox="0 0 200 78">
<path d="M33 8.6 C30.2 8.6 28.6 11 28.6 14.5 C28.6 20 29.6 27 30.4 35 L32.4 71.5 L33.6 71.5 L35.6 35 C36.4 27 37.4 20 37.4 14.5 C37.4 11 35.8 8.6 33 8.6Z" fill="#2b85d8"/>
<ellipse cx="33.2" cy="19.4" rx="1.4" ry="5.6" fill="#d1d5db"/>
<path d="M46 21 C42 17.5 36 16.8 31 18.5 C24 21 21.5 27 24 31 C26.5 35 33 36.5 38 40 C43.5 44 43.5 52 37 56.5 C31 60.5 24 58.5 19.8 54.5" fill="none" stroke="#2b85d8" stroke-width="2.5" stroke-linecap="round"/>
<text x="46.6" y="54.8" font-family="Liberation Sans" font-weight="bold" font-size="34" fill="#2b85d8" letter-spacing="0.35">titch</text>
<text x="121.8" y="54.8" font-family="Liberation Sans" font-size="34" fill="#333" stroke="#333" stroke-width="0.9" letter-spacing="0.8">One</text>
<text x="48.5" y="67" font-family="Liberation Sans" font-weight="bold" font-size="8.4" fill="#505050">Precision, Powered by Technology</text>
</svg>
<svg class="abs" style="left:16.5px;top:95.5px" width="10" height="12" viewBox="0 0 10 12"><path d="M2.3 1 L7.3 6 L2.3 11" fill="none" stroke="#333" stroke-width="1.9"/></svg><svg class="abs" style="left:30px;top:92px" width="18" height="17" viewBox="0 0 18 17">
<rect x="0" y="0" width="10" height="12" fill="#b4b4b4"/><rect x="1" y="0" width="9" height="4" fill="#d7c39a"/><rect x="0" y="0" width="1.2" height="11" fill="#888"/>
<rect x="8.5" y="2" width="4.5" height="10.5" fill="#c4987a"/><circle cx="10.5" cy="7" r="0.9" fill="#f11"/><circle cx="11" cy="9" r="0.9" fill="#f11"/>
<rect x="10" y="4.5" width="7.6" height="12" fill="#4a8de0"/><rect x="8.5" y="7" width="4" height="5" fill="#c4987a"/></svg><div class="mi" style="left:50px;top:93px">Основни данни</div>
<svg class="abs" style="left:16px;top:139.5px" width="12" height="8" viewBox="0 0 12 8"><path d="M1 1.2 L6 6.2 L11 1.2" fill="none" stroke="#333" stroke-width="1.9"/></svg><svg class="abs" style="left:30px;top:134px" width="18" height="17" viewBox="0 0 18 17">
<rect x="0.5" y="2" width="12" height="3" rx="1.3" fill="#c79a78"/><rect x="1.5" y="5" width="10" height="8" fill="#4b92e0"/><rect x="2" y="5" width="2" height="8" fill="#4450b8"/>
<rect x="0.5" y="13" width="12" height="3" rx="1.3" fill="#c79a78"/><path d="M6 12 C10 9 13 5 15 1" stroke="#7ab0ee" stroke-width="0.9" fill="none"/></svg><div class="mi" style="left:50px;top:135px">Технологии</div>
<svg class="abs" style="left:42px;top:176.0px" width="16" height="16" viewBox="0 0 16 16">
<path d="M8 1.5 V13 M3 4.5 H13 M2 10 L3 4.5 L4.5 10 M11.5 10 L13 4.5 L14 10" stroke="#aaa" stroke-width="0.7" fill="none"/>
<circle cx="8" cy="1.6" r="1.2" fill="#f5c66a"/><circle cx="3" cy="4.5" r="1" fill="#f5c66a"/><circle cx="13" cy="4.5" r="1" fill="#f5c66a"/>
<path d="M0.5 10 H7 L5.5 12 H2Z M9 10 H15.5 L14 12 H10.5Z" fill="#f7cf85"/><rect x="4" y="13.5" width="8" height="2" rx="1" fill="#f7cf85"/></svg><div class="si" style="left:61px;top:176.5px;">Разходни норми</div>
<svg class="abs" style="left:43px;top:218.2px" width="13" height="16" viewBox="0 0 13 16">
<rect x="4" y="0" width="5" height="1.8" rx="0.9" fill="#555"/><rect x="5.7" y="1.5" width="1.6" height="2" fill="#777"/>
<circle cx="6.5" cy="9.5" r="5.4" fill="#f4f4f4" stroke="#6a6a6a" stroke-width="1.7"/>
<path d="M6.3 9.8 L9.2 6.6" stroke="#e08a50" stroke-width="1.3"/></svg><div class="si" style="left:61px;top:218.2px;">План труд Плетене</div>
<svg class="abs" style="left:43px;top:259.9px" width="13" height="16" viewBox="0 0 13 16">
<rect x="4" y="0" width="5" height="1.8" rx="0.9" fill="#555"/><rect x="5.7" y="1.5" width="1.6" height="2" fill="#777"/>
<circle cx="6.5" cy="9.5" r="5.4" fill="#f4f4f4" stroke="#6a6a6a" stroke-width="1.7"/>
<path d="M6.3 9.8 L9.2 6.6" stroke="#e08a50" stroke-width="1.3"/></svg><div class="si" style="left:61px;top:259.9px;">План труд Шиене</div>
<svg class="abs" style="left:43px;top:301.6px" width="13" height="16" viewBox="0 0 13 16">
<rect x="4" y="0" width="5" height="1.8" rx="0.9" fill="#555"/><rect x="5.7" y="1.5" width="1.6" height="2" fill="#777"/>
<circle cx="6.5" cy="9.5" r="5.4" fill="#f4f4f4" stroke="#6a6a6a" stroke-width="1.7"/>
<path d="M6.3 9.8 L9.2 6.6" stroke="#e08a50" stroke-width="1.3"/></svg><div class="si" style="left:61px;top:301.6px;font-weight:bold;color:#333;font-size:11.5px;letter-spacing:-0.55px;">Труд Плетене</div>
<svg class="abs" style="left:43px;top:343.3px" width="13" height="16" viewBox="0 0 13 16">
<rect x="4" y="0" width="5" height="1.8" rx="0.9" fill="#555"/><rect x="5.7" y="1.5" width="1.6" height="2" fill="#777"/>
<circle cx="6.5" cy="9.5" r="5.4" fill="#f4f4f4" stroke="#6a6a6a" stroke-width="1.7"/>
<path d="M6.3 9.8 L9.2 6.6" stroke="#e08a50" stroke-width="1.3"/></svg><div class="si" style="left:61px;top:343.3px;">Труд Шиене</div>
<svg class="abs" style="left:16.5px;top:388.5px" width="10" height="12" viewBox="0 0 10 12"><path d="M2.3 1 L7.3 6 L2.3 11" fill="none" stroke="#333" stroke-width="1.9"/></svg><svg class="abs" style="left:30px;top:385px" width="16" height="17" viewBox="0 0 16 17">
<rect x="0" y="0.5" width="16" height="16.5" rx="1.5" fill="#d3d5d8"/><rect x="1" y="3" width="4" height="13" fill="#dcc7a0"/><rect x="1" y="10" width="4" height="6" fill="#b8b8b8"/>
<rect x="5.5" y="8" width="5" height="8" fill="#c4987a"/><rect x="11" y="1" width="4.5" height="15.5" rx="1" fill="#4a8de0"/></svg><div class="mi" style="left:50px;top:386px">Справки</div>
<svg class="abs" style="left:10.4px;top:427.5px" width="9" height="15" viewBox="0 0 9 15"><rect x="0.3" y="0" width="8.6" height="15" rx="0.8" fill="#c4987a"/>
<path d="M7 2H8.5M7 4.5H8.5M7 7H8.5M7 9.5H8.5M7 12H8.5" stroke="#e6c6a6" stroke-width="0.6"/></svg><div class="si" style="left:26px;top:428.5px;font-size:12.5px;letter-spacing:-0.4px">Изход</div>
<div class="hdr">
<svg class="abs" style="left:27px;top:11px" width="17" height="13" viewBox="0 0 17 13"><path d="M0 1.5H17M0 6.5H17M0 11.5H17" stroke="#fff" stroke-width="2"/></svg>
<div class="t" style="left:58px;top:5.5px;font-size:20px;line-height:22px;letter-spacing:-0.45px">Модул 'Норми'</div>
<svg class="abs" style="left:844.0px;top:13px" width="10" height="7" viewBox="0 0 10 7"><path d="M1 1.5L5 5.2L9 1.5" fill="none" stroke="#fff" stroke-width="1.8"/></svg>
<div class="t" style="left:863.5px;top:9.5px;font-size:13px;line-height:15px;font-weight:bold;letter-spacing:-0.5px">admin</div>
<div class="t" style="left:983.0px;top:9.5px;font-size:12.5px;line-height:15px;font-weight:bold;letter-spacing:-0.4px">Български</div>
<svg class="abs" style="left:1061.0px;top:16px" width="8" height="4" viewBox="0 0 8 4"><path d="M0 0H8L4 4Z" fill="#fff"/></svg>
<svg class="abs" style="left:1085.5px;top:15px" width="13" height="13" viewBox="0 0 13 13"><path d="M1 11 C2 7 2 3 6.5 2 C11 3 11 7 12 11 Z" fill="#e6c49a"/><rect x="0.5" y="10.5" width="12" height="1.5" fill="#d8b080"/></svg>
<svg class="abs" style="left:1097.5px;top:9.5px" width="14" height="14" viewBox="0 0 14 14"><circle cx="7" cy="7" r="6.5" fill="#e3141b"/><text x="7" y="10.5" font-size="9" fill="#fff" text-anchor="middle" font-family="Liberation Sans">1</text></svg>
</div>
<svg class="abs" style="left:242px;top:48.5px" width="13" height="16" viewBox="0 0 13 16">
<rect x="4" y="0" width="5" height="1.8" rx="0.9" fill="#555"/><rect x="5.7" y="1.5" width="1.6" height="2" fill="#777"/>
<circle cx="6.5" cy="9.5" r="5.4" fill="#f4f4f4" stroke="#6a6a6a" stroke-width="1.7"/>
<path d="M6.3 9.8 L9.2 6.6" stroke="#e08a50" stroke-width="1.3"/></svg><div class="t" style="left:258px;top:49.5px;font-size:12px;line-height:15px;font-weight:bold;color:#222;letter-spacing:-0.2px">Труд Плетене</div>
<svg class="abs" style="left:351px;top:52px" width="9" height="9" viewBox="0 0 9 9"><path d="M0.5 0.5L8.5 8.5M8.5 0.5L0.5 8.5" stroke="#444" stroke-width="1.3"/></svg>
<div class="abs" style="left:217px;top:76px;width:164.6px;height:2px;background:#2f80d8"></div>
<div class="abs" style="left:381.6px;top:77px;right:0;height:1px;background:#eee"></div>
<div class="abs" style="left:258px;top:674.5px;width:1036px;height:1.8px;background:#6a6a6a;box-shadow:0 1px 4px rgba(0,0,0,.25)"></div>
<div class="abs" style="left:254px;top:88px;width:1044px;height:584px;border:2px solid #3c3c3c;border-bottom:none;border-radius:5px 5px 0 0;background:#f9f9f9;overflow:hidden">
<div class="abs" style="left:0;top:0;right:0;height:121px;background:#cbcbcb;border-bottom:2px solid #222"></div>
</div>
<div class="abs" style="left:256px;top:90px;width:364px;height:27px;border:2px solid #767676;border-top-color:#9a9a9a;background:#cdcdcd"></div>
<div class="t" style="left:256px;top:95.5px;width:184.0px;text-align:right;font-size:14px;line-height:16px;color:#333;letter-spacing:-0.1px">Група:</div>
<div class="t" style="left:440.0px;top:95.5px;font-size:14px;line-height:16px;color:#333;letter-spacing:-0.1px">ПУЛОВЕР ДАМСКИ</div>
<div class="abs" style="left:620px;top:90px;width:363px;height:27px;border:2px solid #767676;border-top-color:#9a9a9a;background:#cdcdcd"></div>
<div class="t" style="left:620px;top:95.5px;width:183.5px;text-align:right;font-size:14px;line-height:16px;color:#333;letter-spacing:-0.1px">Ръкав:</div>
<div class="t" style="left:803.5px;top:95.5px;font-size:14px;line-height:16px;color:#333;letter-spacing:-0.1px">Дълъг ръкав</div>
<div class="abs" style="left:256px;top:117px;width:364px;height:28px;border:2px solid #767676;border-top-color:#9a9a9a;background:#cdcdcd"></div>
<div class="t" style="left:256px;top:123.0px;width:184.0px;text-align:right;font-size:14px;line-height:16px;color:#333;letter-spacing:-0.1px">Осн. м-л:</div>
<div class="t" style="left:440.0px;top:123.0px;font-size:14px;line-height:16px;color:#333;letter-spacing:-0.1px">SIXTY 28/2</div>
<div class="abs" style="left:620px;top:117px;width:363px;height:28px;border:2px solid #767676;border-top-color:#9a9a9a;background:#cdcdcd"></div>
<div class="t" style="left:620px;top:123.0px;width:183.5px;text-align:right;font-size:14px;line-height:16px;color:#333;letter-spacing:-0.1px">Машина:</div>
<div class="t" style="left:803.5px;top:123.0px;font-size:14px;line-height:16px;color:#333;letter-spacing:-0.1px">CMS330</div>
<div class="abs" style="left:983px;top:90px;width:2px;height:55px;background:#777"></div>
<div class="abs" style="left:256px;top:145px;width:1040px;height:2px;background:#222"></div>
<svg class="abs" style="left:1082.93px;top:107.33px" width="21.33" height="21.33" viewBox="0 0 24 24"><path d="M17 3H5c-1.11 0-2 .9-2 2v14c0 1.1.89 2 2 2h14c1.1 0 2-.9 2-2V7l-4-4zm-5 16c-1.66 0-3-1.34-3-3s1.34-3 3-3 3 1.34 3 3-1.34 3-3 3zm3-10H5V5h10v4z" fill="#3a3a3a"/></svg>
<svg class="abs" style="left:1117.80px;top:107.80px" width="21.60" height="21.60" viewBox="0 0 24 24"><path d="M19 8H5c-1.66 0-3 1.34-3 3v6h4v4h12v-4h4v-6c0-1.66-1.34-3-3-3zm-3 11H8v-5h8v5zm3-7c-.55 0-1-.45-1-1s.45-1 1-1 1 .45 1 1-.45 1-1 1zm-1-9H6v4h12V3z" fill="#3a3a3a"/></svg>
<svg class="abs" style="left:1152.71px;top:107.93px" width="20.57" height="20.57" viewBox="0 0 24 24"><path d="M19 9h-4V3H9v6H5l7 7 7-7zM5 18v2h14v-2H5z" fill="#3a3a3a"/></svg>
<svg class="abs" style="left:1187.31px;top:107.93px" width="20.57" height="20.57" viewBox="0 0 24 24"><path d="M16 17.01V10h-2v7.01h-3L15 21l4-4h-3zM9 3L5 6.99h3V14h2V6.99h3L9 3z" fill="#3a3a3a"/></svg>
<div class="abs" style="left:265px;top:156px;width:348px;height:46px;border:1px solid #8a8a8a;border-radius:4px;background:transparent"></div>
<div class="t" style="left:275px;top:149px;font-size:10.8px;line-height:13px;color:#555;background:#cbcbcb;padding:0 4px">Изберете модел</div>
<div class="t" style="left:279px;top:170.0px;font-size:14px;line-height:18px;color:#222;letter-spacing:0.3px">7295</div>
<svg class="abs" style="left:583.00px;top:167.00px" width="24.00" height="24.00" viewBox="0 0 24 24"><path d="M7 10l5 5 5-5z" fill="#f4f4f4"/></svg>
<div class="abs" style="left:697px;top:156px;width:208px;height:46px;border:1px solid #8a8a8a;border-radius:4px;background:transparent"></div>
<div class="t" style="left:707px;top:149px;font-size:10.8px;line-height:13px;color:#555;background:#cbcbcb;padding:0 4px">В сила от:</div>
<div class="t" style="left:711px;top:170.0px;font-size:14px;line-height:18px;color:#222;letter-spacing:1px">11/19/2025</div>
<svg class="abs" style="left:877.00px;top:169.67px" width="20.00" height="20.00" viewBox="0 0 24 24"><path d="M17 12h-5v5h5v-5zM16 1v2H8V1H6v2H5c-1.11 0-1.99.9-1.99 2L3 19c0 1.1.89 2 2 2h14c1.1 0 2-.9 2-2V5c0-1.1-.9-2-2-2h-1V1h-2zm3 18H5V8h14v11z" fill="#3a3a3a"/></svg>
<svg class="abs" style="left:1082.5px;top:173.5px" width="11" height="11" viewBox="0 0 11 11"><path d="M5.5 0V11M0 5.5H11" stroke="#333" stroke-width="2.2"/></svg>
<svg class="abs" style="left:1114.5px;top:171.5px" width="16" height="15" viewBox="0 0 16 15"><path d="M8 0L16 15H0Z" fill="#333"/></svg>
<svg class="abs" style="left:1149px;top:171.5px" width="16" height="15" viewBox="0 0 16 15"><path d="M0 0H16L8 15Z" fill="#333"/></svg>
<div class="t" style="left:1177px;top:168px;width:30px;text-align:center;font-size:20px;line-height:22px;color:#333">X</div>
<div class="abs" style="left:256px;top:211px;width:1040px;height:44.5px;background:#e0e0e0"></div>
<div class="abs" style="left:256px;top:255.50px;width:1028.5px;height:19.77px;background:#f8f8fa;border-top:1.5px solid #3a3a3a"></div>
<div class="abs" style="left:261px;top:258.50px;width:19px;height:14.77px;background:#e6e6e6;border:1px solid #999;border-bottom:1.5px solid #555"></div>
<div class="abs" style="left:266px;top:269.27px;width:9px;height:1px;background:#444"></div>
<div class="abs" style="left:286px;top:257.00px;width:52.60000000000002px;height:17.77px;background:#fff"></div>
<div class="abs" style="left:340.6px;top:257.00px;width:307.19999999999993px;height:17.77px;background:#fff"></div>
<div class="abs" style="left:649.8px;top:257.00px;width:146.20000000000005px;height:17.77px;background:#fff"></div>
<div class="abs" style="left:798px;top:257.00px;width:68px;height:17.77px;background:#fff"></div>
<div class="abs" style="left:868px;top:257.00px;width:68px;height:17.77px;background:#fff"></div>
<div class="abs" style="left:938px;top:257.00px;width:66px;height:17.77px;background:#efeff3"></div>
<div class="abs" style="left:1006px;top:257.00px;width:68px;height:17.77px;background:#efeff3"></div>
<div class="abs" style="left:1076px;top:257.00px;width:67.59999999999991px;height:17.77px;background:#efeff3"></div>
<div class="abs" style="left:1145.6px;top:257.00px;width:68.40000000000009px;height:17.77px;background:#efeff3"></div>
<div class="abs" style="left:1216px;top:257.00px;width:67.5px;height:17.77px;background:#efeff3"></div>
<div class="t" style="left:285px;top:257.10px;width:44.60000000000002px;text-align:right;font-size:11.5px;line-height:15px;color:#222;font-weight:normal;letter-spacing:-0.1px">5</div>
<div class="t" style="left:389.6px;top:257.10px;width:237.19999999999993px;overflow:hidden;font-size:11.5px;line-height:15px;color:#222;letter-spacing:-0.1px">Плетене гръб+предница</div>
<svg class="abs" style="left:585.80px;top:255.34px" width="20.00" height="20.00" viewBox="0 0 24 24"><path d="M16.59 8.59L12 13.17 7.41 8.59 6 10l6 6 6-6z" fill="#111"/></svg>
<div class="t" style="left:670.8px;top:257.10px;width:104.20000000000005px;overflow:hidden;font-size:11.5px;line-height:15px;color:#222;letter-spacing:-0.1px">CMS 422-8F</div>
<svg class="abs" style="left:761.00px;top:255.34px" width="20.00" height="20.00" viewBox="0 0 24 24"><path d="M16.59 8.59L12 13.17 7.41 8.59 6 10l6 6 6-6z" fill="#111"/></svg>
<div class="t" style="left:797px;top:257.10px;width:66px;text-align:right;font-size:11.5px;line-height:15px;color:#222;font-weight:normal;letter-spacing:-0.1px">26</div>
<div class="t" style="left:867px;top:257.10px;width:66px;text-align:right;font-size:11.5px;line-height:15px;color:#222;font-weight:normal;letter-spacing:-0.1px">0</div>
<div class="t" style="left:937px;top:257.10px;width:66px;text-align:right;font-size:11.5px;line-height:15px;color:#8a8a8a;font-weight:normal;letter-spacing:-0.1px">1.00</div>
<div class="t" style="left:1005px;top:257.10px;width:68px;text-align:right;font-size:11.5px;line-height:15px;color:#8a8a8a;font-weight:normal;letter-spacing:-0.1px">0.30760</div>
<div class="t" style="left:1075px;top:257.10px;width:67.59999999999991px;text-align:right;font-size:11.5px;line-height:15px;color:#8a8a8a;font-weight:normal;letter-spacing:-0.1px">0.06154</div>
<div class="t" style="left:1144.6px;top:257.10px;width:68.40000000000009px;text-align:right;font-size:11.5px;line-height:15px;color:#8a8a8a;font-weight:normal;letter-spacing:-0.1px">0.48103</div>
<div class="t" style="left:1215px;top:257.10px;width:67.5px;text-align:right;font-size:11.5px;line-height:15px;color:#8a8a8a;font-weight:normal;letter-spacing:-0.1px">7.83133</div>
<div class="abs" style="left:256px;top:275.27px;width:1028.5px;height:19.77px;background:#f8f8fa;border-top:1.5px solid #3a3a3a"></div>
<div class="abs" style="left:261px;top:278.27px;width:19px;height:14.77px;background:#e6e6e6;border:1px solid #999;border-bottom:1.5px solid #555"></div>
<div class="abs" style="left:266px;top:289.04px;width:9px;height:1px;background:#444"></div>
<div class="abs" style="left:286px;top:276.77px;width:52.60000000000002px;height:17.77px;background:#fff"></div>
<div class="abs" style="left:340.6px;top:276.77px;width:307.19999999999993px;height:17.77px;background:#fff"></div>
<div class="abs" style="left:649.8px;top:276.77px;width:146.20000000000005px;height:17.77px;background:#fff"></div>
<div class="abs" style="left:798px;top:276.77px;width:68px;height:17.77px;background:#fff"></div>
<div class="abs" style="left:868px;top:276.77px;width:68px;height:17.77px;background:#fff"></div>
<div class="abs" style="left:938px;top:276.77px;width:66px;height:17.77px;background:#efeff3"></div>
<div class="abs" style="left:1006px;top:276.77px;width:68px;height:17.77px;background:#efeff3"></div>
<div class="abs" style="left:1076px;top:276.77px;width:67.59999999999991px;height:17.77px;background:#efeff3"></div>
<div class="abs" style="left:1145.6px;top:276.77px;width:68.40000000000009px;height:17.77px;background:#efeff3"></div>
<div class="abs" style="left:1216px;top:276.77px;width:67.5px;height:17.77px;background:#efeff3"></div>
<div class="t" style="left:285px;top:276.87px;width:44.60000000000002px;text-align:right;font-size:11.5px;line-height:15px;color:#222;font-weight:normal;letter-spacing:-0.1px">6</div>
<div class="t" style="left:389.6px;top:276.87px;width:237.19999999999993px;overflow:hidden;font-size:11.5px;line-height:15px;color:#222;letter-spacing:-0.1px">Плете ръкави</div>
<svg class="abs" style="left:585.80px;top:275.11px" width="20.00" height="20.00" viewBox="0 0 24 24"><path d="M16.59 8.59L12 13.17 7.41 8.59 6 10l6 6 6-6z" fill="#111"/></svg>
<div class="t" style="left:670.8px;top:276.87px;width:104.20000000000005px;overflow:hidden;font-size:11.5px;line-height:15px;color:#222;letter-spacing:-0.1px">CMS 422-8F</div>
<svg class="abs" style="left:761.00px;top:275.11px" width="20.00" height="20.00" viewBox="0 0 24 24"><path d="M16.59 8.59L12 13.17 7.41 8.59 6 10l6 6 6-6z" fill="#111"/></svg>
<div class="t" style="left:797px;top:276.87px;width:66px;text-align:right;font-size:11.5px;line-height:15px;color:#222;font-weight:normal;letter-spacing:-0.1px">63</div>
<div class="t" style="left:867px;top:276.87px;width:66px;text-align:right;font-size:11.5px;line-height:15px;color:#222;font-weight:normal;letter-spacing:-0.1px">0</div>
<div class="t" style="left:937px;top:276.87px;width:66px;text-align:right;font-size:11.5px;line-height:15px;color:#8a8a8a;font-weight:normal;letter-spacing:-0.1px">1.00</div>
<div class="t" style="left:1005px;top:276.87px;width:68px;text-align:right;font-size:11.5px;line-height:15px;color:#8a8a8a;font-weight:normal;letter-spacing:-0.1px">0.12698</div>
<div class="t" style="left:1075px;top:276.87px;width:67.59999999999991px;text-align:right;font-size:11.5px;line-height:15px;color:#8a8a8a;font-weight:normal;letter-spacing:-0.1px">0.02540</div>
<div class="t" style="left:1144.6px;top:276.87px;width:68.40000000000009px;text-align:right;font-size:11.5px;line-height:15px;color:#8a8a8a;font-weight:normal;letter-spacing:-0.1px">0.19889</div>
<div class="t" style="left:1215px;top:276.87px;width:67.5px;text-align:right;font-size:11.5px;line-height:15px;color:#8a8a8a;font-weight:normal;letter-spacing:-0.1px">7.83133</div>
<div class="abs" style="left:256px;top:295.04px;width:1028.5px;height:19.77px;background:#f8f8fa;border-top:1.5px solid #3a3a3a"></div>
<div class="abs" style="left:261px;top:298.04px;width:19px;height:14.77px;background:#e6e6e6;border:1px solid #999;border-bottom:1.5px solid #555"></div>
<div class="abs" style="left:266px;top:308.81px;width:9px;height:1px;background:#444"></div>
<div class="abs" style="left:286px;top:296.54px;width:52.60000000000002px;height:17.77px;background:#fff"></div>
<div class="abs" style="left:340.6px;top:296.54px;width:307.19999999999993px;height:17.77px;background:#fff"></div>
<div class="abs" style="left:649.8px;top:296.54px;width:146.20000000000005px;height:17.77px;background:#fff"></div>
<div class="abs" style="left:798px;top:296.54px;width:68px;height:17.77px;background:#fff"></div>
<div class="abs" style="left:868px;top:296.54px;width:68px;height:17.77px;background:#fff"></div>
<div class="abs" style="left:938px;top:296.54px;width:66px;height:17.77px;background:#efeff3"></div>
<div class="abs" style="left:1006px;top:296.54px;width:68px;height:17.77px;background:#efeff3"></div>
<div class="abs" style="left:1076px;top:296.54px;width:67.59999999999991px;height:17.77px;background:#efeff3"></div>
<div class="abs" style="left:1145.6px;top:296.54px;width:68.40000000000009px;height:17.77px;background:#efeff3"></div>
<div class="abs" style="left:1216px;top:296.54px;width:67.5px;height:17.77px;background:#efeff3"></div>
<div class="t" style="left:285px;top:296.64px;width:44.60000000000002px;text-align:right;font-size:11.5px;line-height:15px;color:#222;font-weight:normal;letter-spacing:-0.1px">12</div>
<div class="t" style="left:389.6px;top:296.64px;width:237.19999999999993px;overflow:hidden;font-size:11.5px;line-height:15px;color:#222;letter-spacing:-0.1px">Плетене дв. чор. бие - шлиц /1см/</div>
<svg class="abs" style="left:585.80px;top:294.88px" width="20.00" height="20.00" viewBox="0 0 24 24"><path d="M16.59 8.59L12 13.17 7.41 8.59 6 10l6 6 6-6z" fill="#111"/></svg>
<div class="t" style="left:670.8px;top:296.64px;width:104.20000000000005px;overflow:hidden;font-size:11.5px;line-height:15px;color:#222;letter-spacing:-0.1px">CMS 422-8F</div>
<svg class="abs" style="left:761.00px;top:294.88px" width="20.00" height="20.00" viewBox="0 0 24 24"><path d="M16.59 8.59L12 13.17 7.41 8.59 6 10l6 6 6-6z" fill="#111"/></svg>
<div class="t" style="left:797px;top:296.64px;width:66px;text-align:right;font-size:11.5px;line-height:15px;color:#222;font-weight:normal;letter-spacing:-0.1px">880</div>
<div class="t" style="left:867px;top:296.64px;width:66px;text-align:right;font-size:11.5px;line-height:15px;color:#222;font-weight:normal;letter-spacing:-0.1px">0</div>
<div class="t" style="left:937px;top:296.64px;width:66px;text-align:right;font-size:11.5px;line-height:15px;color:#8a8a8a;font-weight:normal;letter-spacing:-0.1px">1.00</div>
<div class="t" style="left:1005px;top:296.64px;width:68px;text-align:right;font-size:11.5px;line-height:15px;color:#8a8a8a;font-weight:normal;letter-spacing:-0.1px">0.00909</div>
<div class="t" style="left:1075px;top:296.64px;width:67.59999999999991px;text-align:right;font-size:11.5px;line-height:15px;color:#8a8a8a;font-weight:normal;letter-spacing:-0.1px">0.00182</div>
<div class="t" style="left:1144.6px;top:296.64px;width:68.40000000000009px;text-align:right;font-size:11.5px;line-height:15px;color:#8a8a8a;font-weight:normal;letter-spacing:-0.1px">0.01424</div>
<div class="t" style="left:1215px;top:296.64px;width:67.5px;text-align:right;font-size:11.5px;line-height:15px;color:#8a8a8a;font-weight:normal;letter-spacing:-0.1px">7.83133</div>
<div class="abs" style="left:256px;top:314.81px;width:1028.5px;height:19.77px;background:#f8f8fa;border-top:1.5px solid #3a3a3a"></div>
<div class="abs" style="left:261px;top:317.81px;width:19px;height:14.77px;background:#e6e6e6;border:1px solid #999;border-bottom:1.5px solid #555"></div>
<div class="abs" style="left:266px;top:328.58px;width:9px;height:1px;background:#444"></div>
<div class="abs" style="left:286px;top:316.31px;width:52.60000000000002px;height:17.77px;background:#fff"></div>
<div class="abs" style="left:340.6px;top:316.31px;width:307.19999999999993px;height:17.77px;background:#fff"></div>
<div class="abs" style="left:649.8px;top:316.31px;width:146.20000000000005px;height:17.77px;background:#fff"></div>
<div class="abs" style="left:798px;top:316.31px;width:68px;height:17.77px;background:#fff"></div>
<div class="abs" style="left:868px;top:316.31px;width:68px;height:17.77px;background:#fff"></div>
<div class="abs" style="left:938px;top:316.31px;width:66px;height:17.77px;background:#efeff3"></div>
<div class="abs" style="left:1006px;top:316.31px;width:68px;height:17.77px;background:#efeff3"></div>
<div class="abs" style="left:1076px;top:316.31px;width:67.59999999999991px;height:17.77px;background:#efeff3"></div>
<div class="abs" style="left:1145.6px;top:316.31px;width:68.40000000000009px;height:17.77px;background:#efeff3"></div>
<div class="abs" style="left:1216px;top:316.31px;width:67.5px;height:17.77px;background:#efeff3"></div>
<div class="t" style="left:285px;top:316.41px;width:44.60000000000002px;text-align:right;font-size:11.5px;line-height:15px;color:#222;font-weight:normal;letter-spacing:-0.1px">52</div>
<div class="t" style="left:389.6px;top:316.41px;width:237.19999999999993px;overflow:hidden;font-size:11.5px;line-height:15px;color:#222;letter-spacing:-0.1px">Рр. разкачване гръб+предница- найл</div>
<svg class="abs" style="left:585.80px;top:314.65px" width="20.00" height="20.00" viewBox="0 0 24 24"><path d="M16.59 8.59L12 13.17 7.41 8.59 6 10l6 6 6-6z" fill="#111"/></svg>
<div class="t" style="left:670.8px;top:316.41px;width:104.20000000000005px;overflow:hidden;font-size:11.5px;line-height:15px;color:#222;letter-spacing:-0.1px">Няма</div>
<svg class="abs" style="left:761.00px;top:314.65px" width="20.00" height="20.00" viewBox="0 0 24 24"><path d="M16.59 8.59L12 13.17 7.41 8.59 6 10l6 6 6-6z" fill="#111"/></svg>
<div class="t" style="left:797px;top:316.41px;width:66px;text-align:right;font-size:11.5px;line-height:15px;color:#222;font-weight:normal;letter-spacing:-0.1px">720</div>
<div class="t" style="left:867px;top:316.41px;width:66px;text-align:right;font-size:11.5px;line-height:15px;color:#222;font-weight:normal;letter-spacing:-0.1px">0</div>
<div class="t" style="left:937px;top:316.41px;width:66px;text-align:right;font-size:11.5px;line-height:15px;color:#8a8a8a;font-weight:normal;letter-spacing:-0.1px">1.00</div>
<div class="t" style="left:1005px;top:316.41px;width:68px;text-align:right;font-size:11.5px;line-height:15px;color:#8a8a8a;font-weight:normal;letter-spacing:-0.1px">0.01111</div>
<div class="t" style="left:1075px;top:316.41px;width:67.59999999999991px;text-align:right;font-size:11.5px;line-height:15px;color:#8a8a8a;font-weight:normal;letter-spacing:-0.1px">0.01111</div>
<div class="t" style="left:1144.6px;top:316.41px;width:68.40000000000009px;text-align:right;font-size:11.5px;line-height:15px;color:#8a8a8a;font-weight:normal;letter-spacing:-0.1px">0.06292</div>
<div class="t" style="left:1215px;top:316.41px;width:67.5px;text-align:right;font-size:11.5px;line-height:15px;color:#8a8a8a;font-weight:normal;letter-spacing:-0.1px">5.66265</div>
<div class="abs" style="left:256px;top:334.58px;width:1028.5px;height:19.77px;background:#f8f8fa;border-top:1.5px solid #3a3a3a"></div>
<div class="abs" style="left:261px;top:337.58px;width:19px;height:14.77px;background:#e6e6e6;border:1px solid #999;border-bottom:1.5px solid #555"></div>
<div class="abs" style="left:266px;top:348.35px;width:9px;height:1px;background:#444"></div>
<div class="abs" style="left:286px;top:336.08px;width:52.60000000000002px;height:17.77px;background:#fff"></div>
<div class="abs" style="left:340.6px;top:336.08px;width:307.19999999999993px;height:17.77px;background:#fff"></div>
<div class="abs" style="left:649.8px;top:336.08px;width:146.20000000000005px;height:17.77px;background:#fff"></div>
<div class="abs" style="left:798px;top:336.08px;width:68px;height:17.77px;background:#fff"></div>
<div class="abs" style="left:868px;top:336.08px;width:68px;height:17.77px;background:#fff"></div>
<div class="abs" style="left:938px;top:336.08px;width:66px;height:17.77px;background:#efeff3"></div>
<div class="abs" style="left:1006px;top:336.08px;width:68px;height:17.77px;background:#efeff3"></div>
<div class="abs" style="left:1076px;top:336.08px;width:67.59999999999991px;height:17.77px;background:#efeff3"></div>
<div class="abs" style="left:1145.6px;top:336.08px;width:68.40000000000009px;height:17.77px;background:#efeff3"></div>
<div class="abs" style="left:1216px;top:336.08px;width:67.5px;height:17.77px;background:#efeff3"></div>
<div class="t" style="left:285px;top:336.18px;width:44.60000000000002px;text-align:right;font-size:11.5px;line-height:15px;color:#222;font-weight:normal;letter-spacing:-0.1px">53</div>
<div class="t" style="left:389.6px;top:336.18px;width:237.19999999999993px;overflow:hidden;font-size:11.5px;line-height:15px;color:#222;letter-spacing:-0.1px">Рр. разкачване ръкави- найл. нишка.</div>
<svg class="abs" style="left:585.80px;top:334.42px" width="20.00" height="20.00" viewBox="0 0 24 24"><path d="M16.59 8.59L12 13.17 7.41 8.59 6 10l6 6 6-6z" fill="#111"/></svg>
<div class="t" style="left:670.8px;top:336.18px;width:104.20000000000005px;overflow:hidden;font-size:11.5px;line-height:15px;color:#222;letter-spacing:-0.1px">Няма</div>
<svg class="abs" style="left:761.00px;top:334.42px" width="20.00" height="20.00" viewBox="0 0 24 24"><path d="M16.59 8.59L12 13.17 7.41 8.59 6 10l6 6 6-6z" fill="#111"/></svg>
<div class="t" style="left:797px;top:336.18px;width:66px;text-align:right;font-size:11.5px;line-height:15px;color:#222;font-weight:normal;letter-spacing:-0.1px">823</div>
<div class="t" style="left:867px;top:336.18px;width:66px;text-align:right;font-size:11.5px;line-height:15px;color:#222;font-weight:normal;letter-spacing:-0.1px">0</div>
<div class="t" style="left:937px;top:336.18px;width:66px;text-align:right;font-size:11.5px;line-height:15px;color:#8a8a8a;font-weight:normal;letter-spacing:-0.1px">1.00</div>
<div class="t" style="left:1005px;top:336.18px;width:68px;text-align:right;font-size:11.5px;line-height:15px;color:#8a8a8a;font-weight:normal;letter-spacing:-0.1px">0.00972</div>
<div class="t" style="left:1075px;top:336.18px;width:67.59999999999991px;text-align:right;font-size:11.5px;line-height:15px;color:#8a8a8a;font-weight:normal;letter-spacing:-0.1px">0.00972</div>
<div class="t" style="left:1144.6px;top:336.18px;width:68.40000000000009px;text-align:right;font-size:11.5px;line-height:15px;color:#8a8a8a;font-weight:normal;letter-spacing:-0.1px">0.05504</div>
<div class="t" style="left:1215px;top:336.18px;width:67.5px;text-align:right;font-size:11.5px;line-height:15px;color:#8a8a8a;font-weight:normal;letter-spacing:-0.1px">5.66265</div>
<div class="abs" style="left:256px;top:354.35px;width:1028.5px;height:19.77px;background:#f8f8fa;border-top:1.5px solid #3a3a3a"></div>
<div class="abs" style="left:261px;top:357.35px;width:19px;height:14.77px;background:#e6e6e6;border:1px solid #999;border-bottom:1.5px solid #555"></div>
<div class="abs" style="left:266px;top:368.12px;width:9px;height:1px;background:#444"></div>
<div class="abs" style="left:286px;top:355.85px;width:52.60000000000002px;height:17.77px;background:#fff"></div>
<div class="abs" style="left:340.6px;top:355.85px;width:307.19999999999993px;height:17.77px;background:#fff"></div>
<div class="abs" style="left:649.8px;top:355.85px;width:146.20000000000005px;height:17.77px;background:#fff"></div>
<div class="abs" style="left:798px;top:355.85px;width:68px;height:17.77px;background:#fff"></div>
<div class="abs" style="left:868px;top:355.85px;width:68px;height:17.77px;background:#fff"></div>
<div class="abs" style="left:938px;top:355.85px;width:66px;height:17.77px;background:#efeff3"></div>
<div class="abs" style="left:1006px;top:355.85px;width:68px;height:17.77px;background:#efeff3"></div>
<div class="abs" style="left:1076px;top:355.85px;width:67.59999999999991px;height:17.77px;background:#efeff3"></div>
<div class="abs" style="left:1145.6px;top:355.85px;width:68.40000000000009px;height:17.77px;background:#efeff3"></div>
<div class="abs" style="left:1216px;top:355.85px;width:67.5px;height:17.77px;background:#efeff3"></div>
<div class="t" style="left:285px;top:355.95px;width:44.60000000000002px;text-align:right;font-size:11.5px;line-height:15px;color:#222;font-weight:normal;letter-spacing:-0.1px">55</div>
<div class="t" style="left:389.6px;top:355.95px;width:237.19999999999993px;overflow:hidden;font-size:11.5px;line-height:15px;color:#222;letter-spacing:-0.1px">Рр. разкачване вр. бие</div>
<svg class="abs" style="left:585.80px;top:354.19px" width="20.00" height="20.00" viewBox="0 0 24 24"><path d="M16.59 8.59L12 13.17 7.41 8.59 6 10l6 6 6-6z" fill="#111"/></svg>
<div class="t" style="left:670.8px;top:355.95px;width:104.20000000000005px;overflow:hidden;font-size:11.5px;line-height:15px;color:#222;letter-spacing:-0.1px">Няма</div>
<svg class="abs" style="left:761.00px;top:354.19px" width="20.00" height="20.00" viewBox="0 0 24 24"><path d="M16.59 8.59L12 13.17 7.41 8.59 6 10l6 6 6-6z" fill="#111"/></svg>
<div class="t" style="left:797px;top:355.95px;width:66px;text-align:right;font-size:11.5px;line-height:15px;color:#222;font-weight:normal;letter-spacing:-0.1px">1500</div>
<div class="t" style="left:867px;top:355.95px;width:66px;text-align:right;font-size:11.5px;line-height:15px;color:#222;font-weight:normal;letter-spacing:-0.1px">0</div>
<div class="t" style="left:937px;top:355.95px;width:66px;text-align:right;font-size:11.5px;line-height:15px;color:#8a8a8a;font-weight:normal;letter-spacing:-0.1px">1.00</div>
<div class="t" style="left:1005px;top:355.95px;width:68px;text-align:right;font-size:11.5px;line-height:15px;color:#8a8a8a;font-weight:normal;letter-spacing:-0.1px">0.00533</div>
<div class="t" style="left:1075px;top:355.95px;width:67.59999999999991px;text-align:right;font-size:11.5px;line-height:15px;color:#8a8a8a;font-weight:normal;letter-spacing:-0.1px">0.00533</div>
<div class="t" style="left:1144.6px;top:355.95px;width:68.40000000000009px;text-align:right;font-size:11.5px;line-height:15px;color:#8a8a8a;font-weight:normal;letter-spacing:-0.1px">0.03020</div>
<div class="t" style="left:1215px;top:355.95px;width:67.5px;text-align:right;font-size:11.5px;line-height:15px;color:#8a8a8a;font-weight:normal;letter-spacing:-0.1px">5.66265</div>
<div class="abs" style="left:256px;top:374.12px;width:1028.5px;height:19.77px;background:#f8f8fa;border-top:1.5px solid #3a3a3a"></div>
<div class="abs" style="left:261px;top:377.12px;width:19px;height:14.77px;background:#e6e6e6;border:1px solid #999;border-bottom:1.5px solid #555"></div>
<div class="abs" style="left:266px;top:387.89px;width:9px;height:1px;background:#444"></div>
<div class="abs" style="left:286px;top:375.62px;width:52.60000000000002px;height:17.77px;background:#fff"></div>
<div class="abs" style="left:340.6px;top:375.62px;width:307.19999999999993px;height:17.77px;background:#fff"></div>
<div class="abs" style="left:649.8px;top:375.62px;width:146.20000000000005px;height:17.77px;background:#fff"></div>
<div class="abs" style="left:798px;top:375.62px;width:68px;height:17.77px;background:#fff"></div>
<div class="abs" style="left:868px;top:375.62px;width:68px;height:17.77px;background:#fff"></div>
<div class="abs" style="left:938px;top:375.62px;width:66px;height:17.77px;background:#efeff3"></div>
<div class="abs" style="left:1006px;top:375.62px;width:68px;height:17.77px;background:#efeff3"></div>
<div class="abs" style="left:1076px;top:375.62px;width:67.59999999999991px;height:17.77px;background:#efeff3"></div>
<div class="abs" style="left:1145.6px;top:375.62px;width:68.40000000000009px;height:17.77px;background:#efeff3"></div>
<div class="abs" style="left:1216px;top:375.62px;width:67.5px;height:17.77px;background:#efeff3"></div>
<div class="t" style="left:285px;top:375.72px;width:44.60000000000002px;text-align:right;font-size:11.5px;line-height:15px;color:#222;font-weight:normal;letter-spacing:-0.1px">104</div>
<div class="t" style="left:389.6px;top:375.72px;width:237.19999999999993px;overflow:hidden;font-size:11.5px;line-height:15px;color:#222;letter-spacing:-0.1px">РОЛЕКС - вр. бие.</div>
<svg class="abs" style="left:585.80px;top:373.96px" width="20.00" height="20.00" viewBox="0 0 24 24"><path d="M16.59 8.59L12 13.17 7.41 8.59 6 10l6 6 6-6z" fill="#111"/></svg>
<div class="t" style="left:670.8px;top:375.72px;width:104.20000000000005px;overflow:hidden;font-size:11.5px;line-height:15px;color:#222;letter-spacing:-0.1px">Няма</div>
<svg class="abs" style="left:761.00px;top:373.96px" width="20.00" height="20.00" viewBox="0 0 24 24"><path d="M16.59 8.59L12 13.17 7.41 8.59 6 10l6 6 6-6z" fill="#111"/></svg>
<div class="t" style="left:797px;top:375.72px;width:66px;text-align:right;font-size:11.5px;line-height:15px;color:#222;font-weight:normal;letter-spacing:-0.1px">40000</div>
<div class="t" style="left:867px;top:375.72px;width:66px;text-align:right;font-size:11.5px;line-height:15px;color:#222;font-weight:normal;letter-spacing:-0.1px">0</div>
<div class="t" style="left:937px;top:375.72px;width:66px;text-align:right;font-size:11.5px;line-height:15px;color:#8a8a8a;font-weight:normal;letter-spacing:-0.1px">1.00</div>
<div class="t" style="left:1005px;top:375.72px;width:68px;text-align:right;font-size:11.5px;line-height:15px;color:#8a8a8a;font-weight:normal;letter-spacing:-0.1px">0.00020</div>
<div class="t" style="left:1075px;top:375.72px;width:67.59999999999991px;text-align:right;font-size:11.5px;line-height:15px;color:#8a8a8a;font-weight:normal;letter-spacing:-0.1px">0.00020</div>
<div class="t" style="left:1144.6px;top:375.72px;width:68.40000000000009px;text-align:right;font-size:11.5px;line-height:15px;color:#8a8a8a;font-weight:normal;letter-spacing:-0.1px">0.00113</div>
<div class="t" style="left:1215px;top:375.72px;width:67.5px;text-align:right;font-size:11.5px;line-height:15px;color:#8a8a8a;font-weight:normal;letter-spacing:-0.1px">5.66265</div>
<div class="abs" style="left:256px;top:393.89px;width:1028.5px;height:19.77px;background:#f8f8fa;border-top:1.5px solid #3a3a3a"></div>
<div class="abs" style="left:261px;top:396.89px;width:19px;height:14.77px;background:#e6e6e6;border:1px solid #999;border-bottom:1.5px solid #555"></div>
<div class="abs" style="left:266px;top:407.66px;width:9px;height:1px;background:#444"></div>
<div class="abs" style="left:286px;top:395.39px;width:52.60000000000002px;height:17.77px;background:#fff"></div>
<div class="abs" style="left:340.6px;top:395.39px;width:307.19999999999993px;height:17.77px;background:#fff"></div>
<div class="abs" style="left:649.8px;top:395.39px;width:146.20000000000005px;height:17.77px;background:#fff"></div>
<div class="abs" style="left:798px;top:395.39px;width:68px;height:17.77px;background:#fff"></div>
<div class="abs" style="left:868px;top:395.39px;width:68px;height:17.77px;background:#fff"></div>
<div class="abs" style="left:938px;top:395.39px;width:66px;height:17.77px;background:#efeff3"></div>
<div class="abs" style="left:1006px;top:395.39px;width:68px;height:17.77px;background:#efeff3"></div>
<div class="abs" style="left:1076px;top:395.39px;width:67.59999999999991px;height:17.77px;background:#efeff3"></div>
<div class="abs" style="left:1145.6px;top:395.39px;width:68.40000000000009px;height:17.77px;background:#efeff3"></div>
<div class="abs" style="left:1216px;top:395.39px;width:67.5px;height:17.77px;background:#efeff3"></div>
<div class="t" style="left:285px;top:395.49px;width:44.60000000000002px;text-align:right;font-size:11.5px;line-height:15px;color:#222;font-weight:normal;letter-spacing:-0.1px">119</div>
<div class="t" style="left:389.6px;top:395.49px;width:237.19999999999993px;overflow:hidden;font-size:11.5px;line-height:15px;color:#222;letter-spacing:-0.1px">Парено вр. бие</div>
<svg class="abs" style="left:585.80px;top:393.73px" width="20.00" height="20.00" viewBox="0 0 24 24"><path d="M16.59 8.59L12 13.17 7.41 8.59 6 10l6 6 6-6z" fill="#111"/></svg>
<div class="t" style="left:670.8px;top:395.49px;width:104.20000000000005px;overflow:hidden;font-size:11.5px;line-height:15px;color:#222;letter-spacing:-0.1px">Няма</div>
<svg class="abs" style="left:761.00px;top:393.73px" width="20.00" height="20.00" viewBox="0 0 24 24"><path d="M16.59 8.59L12 13.17 7.41 8.59 6 10l6 6 6-6z" fill="#111"/></svg>
<div class="t" style="left:797px;top:395.49px;width:66px;text-align:right;font-size:11.5px;line-height:15px;color:#222;font-weight:normal;letter-spacing:-0.1px">40000</div>
<div class="t" style="left:867px;top:395.49px;width:66px;text-align:right;font-size:11.5px;line-height:15px;color:#222;font-weight:normal;letter-spacing:-0.1px">0</div>
<div class="t" style="left:937px;top:395.49px;width:66px;text-align:right;font-size:11.5px;line-height:15px;color:#8a8a8a;font-weight:normal;letter-spacing:-0.1px">1.00</div>
<div class="t" style="left:1005px;top:395.49px;width:68px;text-align:right;font-size:11.5px;line-height:15px;color:#8a8a8a;font-weight:normal;letter-spacing:-0.1px">0.00020</div>
<div class="t" style="left:1075px;top:395.49px;width:67.59999999999991px;text-align:right;font-size:11.5px;line-height:15px;color:#8a8a8a;font-weight:normal;letter-spacing:-0.1px">0.00020</div>
<div class="t" style="left:1144.6px;top:395.49px;width:68.40000000000009px;text-align:right;font-size:11.5px;line-height:15px;color:#8a8a8a;font-weight:normal;letter-spacing:-0.1px">0.00113</div>
<div class="t" style="left:1215px;top:395.49px;width:67.5px;text-align:right;font-size:11.5px;line-height:15px;color:#8a8a8a;font-weight:normal;letter-spacing:-0.1px">5.66265</div>
<div class="abs" style="left:256px;top:413.66px;width:1028.5px;height:19.77px;background:#f8f8fa;border-top:1.5px solid #3a3a3a"></div>
<div class="abs" style="left:261px;top:416.66px;width:19px;height:14.77px;background:#e6e6e6;border:1px solid #999;border-bottom:1.5px solid #555"></div>
<div class="abs" style="left:266px;top:427.43px;width:9px;height:1px;background:#444"></div>
<div class="abs" style="left:286px;top:415.16px;width:52.60000000000002px;height:17.77px;background:#fff"></div>
<div class="abs" style="left:340.6px;top:415.16px;width:307.19999999999993px;height:17.77px;background:#fff"></div>
<div class="abs" style="left:649.8px;top:415.16px;width:146.20000000000005px;height:17.77px;background:#fff"></div>
<div class="abs" style="left:798px;top:415.16px;width:68px;height:17.77px;background:#fff"></div>
<div class="abs" style="left:868px;top:415.16px;width:68px;height:17.77px;background:#fff"></div>
<div class="abs" style="left:938px;top:415.16px;width:66px;height:17.77px;background:#efeff3"></div>
<div class="abs" style="left:1006px;top:415.16px;width:68px;height:17.77px;background:#efeff3"></div>
<div class="abs" style="left:1076px;top:415.16px;width:67.59999999999991px;height:17.77px;background:#efeff3"></div>
<div class="abs" style="left:1145.6px;top:415.16px;width:68.40000000000009px;height:17.77px;background:#efeff3"></div>
<div class="abs" style="left:1216px;top:415.16px;width:67.5px;height:17.77px;background:#efeff3"></div>
<div class="t" style="left:285px;top:415.26px;width:44.60000000000002px;text-align:right;font-size:11.5px;line-height:15px;color:#222;font-weight:normal;letter-spacing:-0.1px">128</div>
<div class="t" style="left:389.6px;top:415.26px;width:237.19999999999993px;overflow:hidden;font-size:11.5px;line-height:15px;color:#222;letter-spacing:-0.1px">Рр. Разкачва гръб + пр.част н. нишка</div>
<svg class="abs" style="left:585.80px;top:413.50px" width="20.00" height="20.00" viewBox="0 0 24 24"><path d="M16.59 8.59L12 13.17 7.41 8.59 6 10l6 6 6-6z" fill="#111"/></svg>
<div class="t" style="left:670.8px;top:415.26px;width:104.20000000000005px;overflow:hidden;font-size:11.5px;line-height:15px;color:#222;letter-spacing:-0.1px">Няма</div>
<svg class="abs" style="left:761.00px;top:413.50px" width="20.00" height="20.00" viewBox="0 0 24 24"><path d="M16.59 8.59L12 13.17 7.41 8.59 6 10l6 6 6-6z" fill="#111"/></svg>
<div class="t" style="left:797px;top:415.26px;width:66px;text-align:right;font-size:11.5px;line-height:15px;color:#222;font-weight:normal;letter-spacing:-0.1px">960</div>
<div class="t" style="left:867px;top:415.26px;width:66px;text-align:right;font-size:11.5px;line-height:15px;color:#222;font-weight:normal;letter-spacing:-0.1px">0</div>
<div class="t" style="left:937px;top:415.26px;width:66px;text-align:right;font-size:11.5px;line-height:15px;color:#8a8a8a;font-weight:normal;letter-spacing:-0.1px">1.00</div>
<div class="t" style="left:1005px;top:415.26px;width:68px;text-align:right;font-size:11.5px;line-height:15px;color:#8a8a8a;font-weight:normal;letter-spacing:-0.1px">0.00833</div>
<div class="t" style="left:1075px;top:415.26px;width:67.59999999999991px;text-align:right;font-size:11.5px;line-height:15px;color:#8a8a8a;font-weight:normal;letter-spacing:-0.1px">0.00833</div>
<div class="t" style="left:1144.6px;top:415.26px;width:68.40000000000009px;text-align:right;font-size:11.5px;line-height:15px;color:#8a8a8a;font-weight:normal;letter-spacing:-0.1px">0.04719</div>
<div class="t" style="left:1215px;top:415.26px;width:67.5px;text-align:right;font-size:11.5px;line-height:15px;color:#8a8a8a;font-weight:normal;letter-spacing:-0.1px">5.66265</div>
<div class="abs" style="left:256px;top:433.43px;width:1028.5px;height:19.77px;background:#f8f8fa;border-top:1.5px solid #3a3a3a"></div>
<div class="abs" style="left:261px;top:436.43px;width:19px;height:14.77px;background:#e6e6e6;border:1px solid #999;border-bottom:1.5px solid #555"></div>
<div class="abs" style="left:266px;top:447.20px;width:9px;height:1px;background:#444"></div>
<div class="abs" style="left:286px;top:434.93px;width:52.60000000000002px;height:17.77px;background:#fff"></div>
<div class="abs" style="left:340.6px;top:434.93px;width:307.19999999999993px;height:17.77px;background:#fff"></div>
<div class="abs" style="left:649.8px;top:434.93px;width:146.20000000000005px;height:17.77px;background:#fff"></div>
<div class="abs" style="left:798px;top:434.93px;width:68px;height:17.77px;background:#fff"></div>
<div class="abs" style="left:868px;top:434.93px;width:68px;height:17.77px;background:#fff"></div>
<div class="abs" style="left:938px;top:434.93px;width:66px;height:17.77px;background:#efeff3"></div>
<div class="abs" style="left:1006px;top:434.93px;width:68px;height:17.77px;background:#efeff3"></div>
<div class="abs" style="left:1076px;top:434.93px;width:67.59999999999991px;height:17.77px;background:#efeff3"></div>
<div class="abs" style="left:1145.6px;top:434.93px;width:68.40000000000009px;height:17.77px;background:#efeff3"></div>
<div class="abs" style="left:1216px;top:434.93px;width:67.5px;height:17.77px;background:#efeff3"></div>
<div class="t" style="left:285px;top:435.03px;width:44.60000000000002px;text-align:right;font-size:11.5px;line-height:15px;color:#222;font-weight:normal;letter-spacing:-0.1px">129</div>
<div class="t" style="left:389.6px;top:435.03px;width:237.19999999999993px;overflow:hidden;font-size:11.5px;line-height:15px;color:#222;letter-spacing:-0.1px">Рр. Разкачва ръкави н.нишка</div>
<svg class="abs" style="left:585.80px;top:433.27px" width="20.00" height="20.00" viewBox="0 0 24 24"><path d="M16.59 8.59L12 13.17 7.41 8.59 6 10l6 6 6-6z" fill="#111"/></svg>
<div class="t" style="left:670.8px;top:435.03px;width:104.20000000000005px;overflow:hidden;font-size:11.5px;line-height:15px;color:#222;letter-spacing:-0.1px">Няма</div>
<svg class="abs" style="left:761.00px;top:433.27px" width="20.00" height="20.00" viewBox="0 0 24 24"><path d="M16.59 8.59L12 13.17 7.41 8.59 6 10l6 6 6-6z" fill="#111"/></svg>
<div class="t" style="left:797px;top:435.03px;width:66px;text-align:right;font-size:11.5px;line-height:15px;color:#222;font-weight:normal;letter-spacing:-0.1px">960</div>
<div class="t" style="left:867px;top:435.03px;width:66px;text-align:right;font-size:11.5px;line-height:15px;color:#222;font-weight:normal;letter-spacing:-0.1px">0</div>
<div class="t" style="left:937px;top:435.03px;width:66px;text-align:right;font-size:11.5px;line-height:15px;color:#8a8a8a;font-weight:normal;letter-spacing:-0.1px">1.00</div>
<div class="t" style="left:1005px;top:435.03px;width:68px;text-align:right;font-size:11.5px;line-height:15px;color:#8a8a8a;font-weight:normal;letter-spacing:-0.1px">0.00833</div>
<div class="t" style="left:1075px;top:435.03px;width:67.59999999999991px;text-align:right;font-size:11.5px;line-height:15px;color:#8a8a8a;font-weight:normal;letter-spacing:-0.1px">0.00833</div>
<div class="t" style="left:1144.6px;top:435.03px;width:68.40000000000009px;text-align:right;font-size:11.5px;line-height:15px;color:#8a8a8a;font-weight:normal;letter-spacing:-0.1px">0.04719</div>
<div class="t" style="left:1215px;top:435.03px;width:67.5px;text-align:right;font-size:11.5px;line-height:15px;color:#8a8a8a;font-weight:normal;letter-spacing:-0.1px">5.66265</div>
<div class="abs" style="left:256px;top:453.20px;width:1028.5px;height:19.77px;background:#f8f8fa;border-top:1.5px solid #3a3a3a"></div>
<div class="abs" style="left:261px;top:456.20px;width:19px;height:14.77px;background:#e6e6e6;border:1px solid #999;border-bottom:1.5px solid #555"></div>
<div class="abs" style="left:266px;top:466.97px;width:9px;height:1px;background:#444"></div>
<div class="abs" style="left:286px;top:454.70px;width:52.60000000000002px;height:17.77px;background:#fff"></div>
<div class="abs" style="left:340.6px;top:454.70px;width:307.19999999999993px;height:17.77px;background:#fff"></div>
<div class="abs" style="left:649.8px;top:454.70px;width:146.20000000000005px;height:17.77px;background:#fff"></div>
<div class="abs" style="left:798px;top:454.70px;width:68px;height:17.77px;background:#fff"></div>
<div class="abs" style="left:868px;top:454.70px;width:68px;height:17.77px;background:#fff"></div>
<div class="abs" style="left:938px;top:454.70px;width:66px;height:17.77px;background:#efeff3"></div>
<div class="abs" style="left:1006px;top:454.70px;width:68px;height:17.77px;background:#efeff3"></div>
<div class="abs" style="left:1076px;top:454.70px;width:67.59999999999991px;height:17.77px;background:#efeff3"></div>
<div class="abs" style="left:1145.6px;top:454.70px;width:68.40000000000009px;height:17.77px;background:#efeff3"></div>
<div class="abs" style="left:1216px;top:454.70px;width:67.5px;height:17.77px;background:#efeff3"></div>
<div class="t" style="left:285px;top:454.80px;width:44.60000000000002px;text-align:right;font-size:11.5px;line-height:15px;color:#222;font-weight:normal;letter-spacing:-0.1px">132</div>
<div class="t" style="left:389.6px;top:454.80px;width:237.19999999999993px;overflow:hidden;font-size:11.5px;line-height:15px;color:#222;letter-spacing:-0.1px">ОТК-поправка.плот.</div>
<svg class="abs" style="left:585.80px;top:453.04px" width="20.00" height="20.00" viewBox="0 0 24 24"><path d="M16.59 8.59L12 13.17 7.41 8.59 6 10l6 6 6-6z" fill="#111"/></svg>
<div class="t" style="left:670.8px;top:454.80px;width:104.20000000000005px;overflow:hidden;font-size:11.5px;line-height:15px;color:#222;letter-spacing:-0.1px">Няма</div>
<svg class="abs" style="left:761.00px;top:453.04px" width="20.00" height="20.00" viewBox="0 0 24 24"><path d="M16.59 8.59L12 13.17 7.41 8.59 6 10l6 6 6-6z" fill="#111"/></svg>
<div class="t" style="left:797px;top:454.80px;width:66px;text-align:right;font-size:11.5px;line-height:15px;color:#222;font-weight:normal;letter-spacing:-0.1px">1920</div>
<div class="t" style="left:867px;top:454.80px;width:66px;text-align:right;font-size:11.5px;line-height:15px;color:#222;font-weight:normal;letter-spacing:-0.1px">0</div>
<div class="t" style="left:937px;top:454.80px;width:66px;text-align:right;font-size:11.5px;line-height:15px;color:#8a8a8a;font-weight:normal;letter-spacing:-0.1px">1.00</div>
<div class="t" style="left:1005px;top:454.80px;width:68px;text-align:right;font-size:11.5px;line-height:15px;color:#8a8a8a;font-weight:normal;letter-spacing:-0.1px">0.00417</div>
<div class="t" style="left:1075px;top:454.80px;width:67.59999999999991px;text-align:right;font-size:11.5px;line-height:15px;color:#8a8a8a;font-weight:normal;letter-spacing:-0.1px">0.00417</div>
<div class="t" style="left:1144.6px;top:454.80px;width:68.40000000000009px;text-align:right;font-size:11.5px;line-height:15px;color:#8a8a8a;font-weight:normal;letter-spacing:-0.1px">0.01406</div>
<div class="t" style="left:1215px;top:454.80px;width:67.5px;text-align:right;font-size:11.5px;line-height:15px;color:#8a8a8a;font-weight:normal;letter-spacing:-0.1px">3.37349</div>
<div class="abs" style="left:256px;top:472.97px;width:1028.5px;height:19.77px;background:#f6d3a6;border-top:1.5px solid #c08850"></div>
<div class="abs" style="left:261px;top:475.97px;width:19px;height:14.77px;background:#e6e6e6;border:1px solid #999"></div>
<div class="t" style="left:256px;top:475.47px;width:29px;text-align:center;font-size:10px;line-height:15px;color:#333">&gt;</div>
<div class="abs" style="left:291px;top:475.47px;width:42.60000000000002px;height:15.77px;background:#fff"></div>
<div class="abs" style="left:345.6px;top:475.47px;width:256.19999999999993px;height:15.77px;background:#fff"></div>
<svg class="abs" style="left:585.80px;top:472.81px" width="20.00" height="20.00" viewBox="0 0 24 24"><path d="M16.59 8.59L12 13.17 7.41 8.59 6 10l6 6 6-6z" fill="#111"/></svg>
<div class="abs" style="left:654.8px;top:475.47px;width:122.20000000000005px;height:15.77px;background:#fff"></div>
<svg class="abs" style="left:761.00px;top:472.81px" width="20.00" height="20.00" viewBox="0 0 24 24"><path d="M16.59 8.59L12 13.17 7.41 8.59 6 10l6 6 6-6z" fill="#111"/></svg>
<div class="abs" style="left:803px;top:475.47px;width:58px;height:15.77px;background:#fff"></div>
<div class="t" style="left:797px;top:475.47px;width:67px;text-align:right;font-size:11px;line-height:15px;color:#222;letter-spacing:-0.2px">0</div>
<div class="abs" style="left:873px;top:475.47px;width:58px;height:15.77px;background:#fff"></div>
<div class="t" style="left:867px;top:475.47px;width:67px;text-align:right;font-size:11px;line-height:15px;color:#222;letter-spacing:-0.2px">0</div>
<div class="t" style="left:937px;top:475.47px;width:65px;text-align:right;font-size:11px;line-height:15px;color:#8a8a8a;letter-spacing:-0.2px">0.00</div>
<div class="t" style="left:1005px;top:475.47px;width:67px;text-align:right;font-size:11px;line-height:15px;color:#8a8a8a;letter-spacing:-0.2px">0.00000</div>
<div class="t" style="left:1075px;top:475.47px;width:66.59999999999991px;text-align:right;font-size:11px;line-height:15px;color:#8a8a8a;letter-spacing:-0.2px">0.00000</div>
<div class="t" style="left:1144.6px;top:475.47px;width:67.40000000000009px;text-align:right;font-size:11px;line-height:15px;color:#8a8a8a;letter-spacing:-0.2px">0.00000</div>
<div class="t" style="left:1215px;top:475.47px;width:66.5px;text-align:right;font-size:11px;line-height:15px;color:#8a8a8a;letter-spacing:-0.2px">0.00000</div>
<div class="abs" style="left:324px;top:476.97px;width:5px;height:12.77px;border:1.5px solid #2060d0;border-left:none;border-right:none"></div>
<div class="abs" style="left:325.8px;top:476.97px;width:1.5px;height:12.77px;background:#2060d0"></div>
<div class="abs" style="left:256px;top:492.74px;width:1040px;height:30.6px;background:#dcdcdc;border-top:1.5px solid #3a3a3a;border-bottom:1.5px solid #3a3a3a"></div>
<div class="t" style="left:339.6px;top:497.74px;width:299.19999999999993px;text-align:right;font-size:12px;line-height:16px;font-weight:bold;color:#222;letter-spacing:-0.2px">Общо за плетене:</div>
<div class="t" style="left:1005px;top:497.74px;width:66px;text-align:right;font-size:12px;line-height:16px;font-weight:bold;color:#222;letter-spacing:-0.2px">0.49115</div>
<div class="t" style="left:1075px;top:497.74px;width:65.59999999999991px;text-align:right;font-size:12px;line-height:16px;font-weight:bold;color:#222;letter-spacing:-0.2px">0.13615</div>
<div class="t" style="left:1144.6px;top:497.74px;width:66.40000000000009px;text-align:right;font-size:12px;line-height:16px;font-weight:bold;color:#222;letter-spacing:-0.2px">0.95392</div>
<div class="abs" style="left:284.25px;top:211px;width:1.5px;height:312.34px;background:#3a3a3a"></div>
<div class="abs" style="left:338.85px;top:211px;width:1.5px;height:312.34px;background:#3a3a3a"></div>
<div class="abs" style="left:648.05px;top:211px;width:1.5px;height:312.34px;background:#3a3a3a"></div>
<div class="abs" style="left:796.25px;top:211px;width:1.5px;height:312.34px;background:#3a3a3a"></div>
<div class="abs" style="left:866.25px;top:211px;width:1.5px;height:312.34px;background:#3a3a3a"></div>
<div class="abs" style="left:936.25px;top:211px;width:1.5px;height:312.34px;background:#3a3a3a"></div>
<div class="abs" style="left:1004.25px;top:211px;width:1.5px;height:312.34px;background:#3a3a3a"></div>
<div class="abs" style="left:1074.25px;top:211px;width:1.5px;height:312.34px;background:#3a3a3a"></div>
<div class="abs" style="left:1143.85px;top:211px;width:1.5px;height:312.34px;background:#3a3a3a"></div>
<div class="abs" style="left:1214.25px;top:211px;width:1.5px;height:312.34px;background:#3a3a3a"></div>
<div class="abs" style="left:1283.75px;top:211px;width:1.5px;height:312.34px;background:#3a3a3a"></div>
<div class="t" style="left:256px;top:223.8px;width:29px;text-align:center;font-size:12px;line-height:19px;font-weight:bold;color:#222;letter-spacing:-0.3px"></div>
<div class="t" style="left:285px;top:223.8px;width:54.60000000000002px;text-align:center;font-size:12px;line-height:19px;font-weight:bold;color:#222;letter-spacing:-0.3px">Код</div>
<div class="t" style="left:339.6px;top:223.8px;width:309.19999999999993px;text-align:center;font-size:12px;line-height:19px;font-weight:bold;color:#222;letter-spacing:-0.3px">Операция</div>
<div class="t" style="left:648.8px;top:223.8px;width:148.20000000000005px;text-align:center;font-size:12px;line-height:19px;font-weight:bold;color:#222;letter-spacing:-0.3px">Машина</div>
<div class="t" style="left:797px;top:223.8px;width:70px;text-align:center;font-size:12px;line-height:19px;font-weight:bold;color:#222;letter-spacing:-0.3px">Норма</div>
<div class="t" style="left:867px;top:214.2px;width:70px;text-align:center;font-size:12px;line-height:19px;font-weight:bold;color:#222;letter-spacing:-0.3px">Вр. за<br>шиене</div>
<div class="t" style="left:937px;top:214.2px;width:68px;text-align:center;font-size:12px;line-height:19px;font-weight:bold;color:#222;letter-spacing:-0.3px">Кор. на<br>норма</div>
<div class="t" style="left:1005px;top:223.8px;width:70px;text-align:center;font-size:12px;line-height:19px;font-weight:bold;color:#222;letter-spacing:-0.3px">Нормов...</div>
<div class="t" style="left:1075px;top:223.8px;width:69.59999999999991px;text-align:center;font-size:12px;line-height:19px;font-weight:bold;color:#222;letter-spacing:-0.3px">НВ с НО</div>
<div class="t" style="left:1144.6px;top:223.8px;width:70.40000000000009px;text-align:center;font-size:12px;line-height:19px;font-weight:bold;color:#222;letter-spacing:-0.3px">Разценка</div>
<div class="t" style="left:1215px;top:214.2px;width:69.5px;text-align:center;font-size:12px;line-height:19px;font-weight:bold;color:#222;letter-spacing:-0.3px">Часова<br>ставка</div>
<div class="abs" style="left:1285.25px;top:211px;width:10.75px;height:281.74px;background:#fafafa"></div></div><div class="scr" style="left:667px;top:688px;width:1332px;height:684px;transform:scale(0.5)"><div class="sb" style="height:457px"></div>
<div class="sbb" style="top:457px;height:224px"></div>
<div class="logo"></div>
<svg class="abs" style="left:0px;top:0px" width="200" height="78" viewBox="0 0 200 78">
<path d="M33 8.6 C30.2 8.6 28.6 11 28.6 14.5 C28.6 20 29.6 27 30.4 35 L32.4 71.5 L33.6 71.5 L35.6 35 C36.4 27 37.4 20 37.4 14.5 C37.4 11 35.8 8.6 33 8.6Z" fill="#2b85d8"/>
<ellipse cx="33.2" cy="19.4" rx="1.4" ry="5.6" fill="#d1d5db"/>
<path d="M46 21 C42 17.5 36 16.8 31 18.5 C24 21 21.5 27 24 31 C26.5 35 33 36.5 38 40 C43.5 44 43.5 52 37 56.5 C31 60.5 24 58.5 19.8 54.5" fill="none" stroke="#2b85d8" stroke-width="2.5" stroke-linecap="round"/>
<text x="46.6" y="54.8" font-family="Liberation Sans" font-weight="bold" font-size="34" fill="#2b85d8" letter-spacing="0.35">titch</text>
<text x="121.8" y="54.8" font-family="Liberation Sans" font-size="34" fill="#333" stroke="#333" stroke-width="0.9" letter-spacing="0.8">One</text>
<text x="48.5" y="67" font-family="Liberation Sans" font-weight="bold" font-size="8.4" fill="#505050">Precision, Powered by Technology</text>
</svg>
<svg class="abs" style="left:16.5px;top:95.5px" width="10" height="12" viewBox="0 0 10 12"><path d="M2.3 1 L7.3 6 L2.3 11" fill="none" stroke="#333" stroke-width="1.9"/></svg><svg class="abs" style="left:30px;top:92px" width="18" height="17" viewBox="0 0 18 17">
<rect x="0" y="0" width="10" height="12" fill="#b4b4b4"/><rect x="1" y="0" width="9" height="4" fill="#d7c39a"/><rect x="0" y="0" width="1.2" height="11" fill="#888"/>
<rect x="8.5" y="2" width="4.5" height="10.5" fill="#c4987a"/><circle cx="10.5" cy="7" r="0.9" fill="#f11"/><circle cx="11" cy="9" r="0.9" fill="#f11"/>
<rect x="10" y="4.5" width="7.6" height="12" fill="#4a8de0"/><rect x="8.5" y="7" width="4" height="5" fill="#c4987a"/></svg><div class="mi" style="left:50px;top:93px">Основни данни</div>
<svg class="abs" style="left:16px;top:139.5px" width="12" height="8" viewBox="0 0 12 8"><path d="M1 1.2 L6 6.2 L11 1.2" fill="none" stroke="#333" stroke-width="1.9"/></svg><svg class="abs" style="left:30px;top:134px" width="18" height="17" viewBox="0 0 18 17">
<rect x="0.5" y="2" width="12" height="3" rx="1.3" fill="#c79a78"/><rect x="1.5" y="5" width="10" height="8" fill="#4b92e0"/><rect x="2" y="5" width="2" height="8" fill="#4450b8"/>
<rect x="0.5" y="13" width="12" height="3" rx="1.3" fill="#c79a78"/><path d="M6 12 C10 9 13 5 15 1" stroke="#7ab0ee" stroke-width="0.9" fill="none"/></svg><div class="mi" style="left:50px;top:135px">Технологии</div>
<svg class="abs" style="left:42px;top:176.0px" width="16" height="16" viewBox="0 0 16 16">
<path d="M8 1.5 V13 M3 4.5 H13 M2 10 L3 4.5 L4.5 10 M11.5 10 L13 4.5 L14 10" stroke="#aaa" stroke-width="0.7" fill="none"/>
<circle cx="8" cy="1.6" r="1.2" fill="#f5c66a"/><circle cx="3" cy="4.5" r="1" fill="#f5c66a"/><circle cx="13" cy="4.5" r="1" fill="#f5c66a"/>
<path d="M0.5 10 H7 L5.5 12 H2Z M9 10 H15.5 L14 12 H10.5Z" fill="#f7cf85"/><rect x="4" y="13.5" width="8" height="2" rx="1" fill="#f7cf85"/></svg><div class="si" style="left:61px;top:176.5px;">Разходни норми</div>
<svg class="abs" style="left:43px;top:218.2px" width="13" height="16" viewBox="0 0 13 16">
<rect x="4" y="0" width="5" height="1.8" rx="0.9" fill="#555"/><rect x="5.7" y="1.5" width="1.6" height="2" fill="#777"/>
<circle cx="6.5" cy="9.5" r="5.4" fill="#f4f4f4" stroke="#6a6a6a" stroke-width="1.7"/>
<path d="M6.3 9.8 L9.2 6.6" stroke="#e08a50" stroke-width="1.3"/></svg><div class="si" style="left:61px;top:218.2px;">План труд Плетене</div>
<svg class="abs" style="left:43px;top:259.9px" width="13" height="16" viewBox="0 0 13 16">
<rect x="4" y="0" width="5" height="1.8" rx="0.9" fill="#555"/><rect x="5.7" y="1.5" width="1.6" height="2" fill="#777"/>
<circle cx="6.5" cy="9.5" r="5.4" fill="#f4f4f4" stroke="#6a6a6a" stroke-width="1.7"/>
<path d="M6.3 9.8 L9.2 6.6" stroke="#e08a50" stroke-width="1.3"/></svg><div class="si" style="left:61px;top:259.9px;">План труд Шиене</div>
<svg class="abs" style="left:43px;top:301.6px" width="13" height="16" viewBox="0 0 13 16">
<rect x="4" y="0" width="5" height="1.8" rx="0.9" fill="#555"/><rect x="5.7" y="1.5" width="1.6" height="2" fill="#777"/>
<circle cx="6.5" cy="9.5" r="5.4" fill="#f4f4f4" stroke="#6a6a6a" stroke-width="1.7"/>
<path d="M6.3 9.8 L9.2 6.6" stroke="#e08a50" stroke-width="1.3"/></svg><div class="si" style="left:61px;top:301.6px;">Труд Плетене</div>
<svg class="abs" style="left:43px;top:343.3px" width="13" height="16" viewBox="0 0 13 16">
<rect x="4" y="0" width="5" height="1.8" rx="0.9" fill="#555"/><rect x="5.7" y="1.5" width="1.6" height="2" fill="#777"/>
<circle cx="6.5" cy="9.5" r="5.4" fill="#f4f4f4" stroke="#6a6a6a" stroke-width="1.7"/>
<path d="M6.3 9.8 L9.2 6.6" stroke="#e08a50" stroke-width="1.3"/></svg><div class="si" style="left:61px;top:343.3px;font-weight:bold;color:#333;font-size:11.5px;letter-spacing:-0.55px;">Труд Шиене</div>
<svg class="abs" style="left:16.5px;top:388.5px" width="10" height="12" viewBox="0 0 10 12"><path d="M2.3 1 L7.3 6 L2.3 11" fill="none" stroke="#333" stroke-width="1.9"/></svg><svg class="abs" style="left:30px;top:385px" width="16" height="17" viewBox="0 0 16 17">
<rect x="0" y="0.5" width="16" height="16.5" rx="1.5" fill="#d3d5d8"/><rect x="1" y="3" width="4" height="13" fill="#dcc7a0"/><rect x="1" y="10" width="4" height="6" fill="#b8b8b8"/>
<rect x="5.5" y="8" width="5" height="8" fill="#c4987a"/><rect x="11" y="1" width="4.5" height="15.5" rx="1" fill="#4a8de0"/></svg><div class="mi" style="left:50px;top:386px">Справки</div>
<svg class="abs" style="left:10.4px;top:427.5px" width="9" height="15" viewBox="0 0 9 15"><rect x="0.3" y="0" width="8.6" height="15" rx="0.8" fill="#c4987a"/>
<path d="M7 2H8.5M7 4.5H8.5M7 7H8.5M7 9.5H8.5M7 12H8.5" stroke="#e6c6a6" stroke-width="0.6"/></svg><div class="si" style="left:26px;top:428.5px;font-size:12.5px;letter-spacing:-0.4px">Изход</div>
<div class="hdr">
<svg class="abs" style="left:27px;top:11px" width="17" height="13" viewBox="0 0 17 13"><path d="M0 1.5H17M0 6.5H17M0 11.5H17" stroke="#fff" stroke-width="2"/></svg>
<div class="t" style="left:58px;top:5.5px;font-size:20px;line-height:22px;letter-spacing:-0.45px">Модул 'Норми'</div>
<svg class="abs" style="left:844.0px;top:13px" width="10" height="7" viewBox="0 0 10 7"><path d="M1 1.5L5 5.2L9 1.5" fill="none" stroke="#fff" stroke-width="1.8"/></svg>
<div class="t" style="left:863.5px;top:9.5px;font-size:13px;line-height:15px;font-weight:bold;letter-spacing:-0.5px">admin</div>
<div class="t" style="left:983.0px;top:9.5px;font-size:12.5px;line-height:15px;font-weight:bold;letter-spacing:-0.4px">Български</div>
<svg class="abs" style="left:1061.0px;top:16px" width="8" height="4" viewBox="0 0 8 4"><path d="M0 0H8L4 4Z" fill="#fff"/></svg>
<svg class="abs" style="left:1085.5px;top:15px" width="13" height="13" viewBox="0 0 13 13"><path d="M1 11 C2 7 2 3 6.5 2 C11 3 11 7 12 11 Z" fill="#e6c49a"/><rect x="0.5" y="10.5" width="12" height="1.5" fill="#d8b080"/></svg>
<svg class="abs" style="left:1097.5px;top:9.5px" width="14" height="14" viewBox="0 0 14 14"><circle cx="7" cy="7" r="6.5" fill="#e3141b"/><text x="7" y="10.5" font-size="9" fill="#fff" text-anchor="middle" font-family="Liberation Sans">1</text></svg>
</div>
<svg class="abs" style="left:242px;top:48.5px" width="13" height="16" viewBox="0 0 13 16">
<rect x="4" y="0" width="5" height="1.8" rx="0.9" fill="#555"/><rect x="5.7" y="1.5" width="1.6" height="2" fill="#777"/>
<circle cx="6.5" cy="9.5" r="5.4" fill="#f4f4f4" stroke="#6a6a6a" stroke-width="1.7"/>
<path d="M6.3 9.8 L9.2 6.6" stroke="#e08a50" stroke-width="1.3"/></svg><div class="t" style="left:257px;top:49.5px;font-size:12px;line-height:15px;font-weight:bold;color:#222;letter-spacing:-0.2px">Труд Шиене</div>
<svg class="abs" style="left:340.5px;top:52px" width="9" height="9" viewBox="0 0 9 9"><path d="M0.5 0.5L8.5 8.5M8.5 0.5L0.5 8.5" stroke="#444" stroke-width="1.3"/></svg>
<div class="abs" style="left:217px;top:76px;width:152.6px;height:2px;background:#2f80d8"></div>
<div class="abs" style="left:369.6px;top:77px;right:0;height:1px;background:#eee"></div>
<div class="abs" style="left:258px;top:674.5px;width:1036px;height:1.8px;background:#6a6a6a;box-shadow:0 1px 4px rgba(0,0,0,.25)"></div>
<div class="abs" style="left:254px;top:88px;width:1044px;height:584px;border:2px solid #3c3c3c;border-bottom:none;border-radius:5px 5px 0 0;background:#f9f9f9;overflow:hidden">
<div class="abs" style="left:0;top:0;right:0;height:121px;background:#cbcbcb;border-bottom:2px solid #222"></div>
</div>
<div class="abs" style="left:256px;top:90px;width:364px;height:27px;border:2px solid #767676;border-top-color:#9a9a9a;background:#cdcdcd"></div>
<div class="t" style="left:256px;top:95.5px;width:184.0px;text-align:right;font-size:14px;line-height:16px;color:#333;letter-spacing:-0.1px">Група:</div>
<div class="t" style="left:440.0px;top:95.5px;font-size:14px;line-height:16px;color:#333;letter-spacing:-0.1px">ПУЛОВЕР ДАМСКИ</div>
<div class="abs" style="left:620px;top:90px;width:363px;height:27px;border:2px solid #767676;border-top-color:#9a9a9a;background:#cdcdcd"></div>
<div class="t" style="left:620px;top:95.5px;width:183.5px;text-align:right;font-size:14px;line-height:16px;color:#333;letter-spacing:-0.1px">Ръкав:</div>
<div class="t" style="left:803.5px;top:95.5px;font-size:14px;line-height:16px;color:#333;letter-spacing:-0.1px">Дълъг ръкав</div>
<div class="abs" style="left:256px;top:117px;width:364px;height:28px;border:2px solid #767676;border-top-color:#9a9a9a;background:#cdcdcd"></div>
<div class="t" style="left:256px;top:123.0px;width:184.0px;text-align:right;font-size:14px;line-height:16px;color:#333;letter-spacing:-0.1px">Осн. м-л:</div>
<div class="t" style="left:440.0px;top:123.0px;font-size:14px;line-height:16px;color:#333;letter-spacing:-0.1px">SIXTY 28/2</div>
<div class="abs" style="left:620px;top:117px;width:363px;height:28px;border:2px solid #767676;border-top-color:#9a9a9a;background:#cdcdcd"></div>
<div class="t" style="left:620px;top:123.0px;width:183.5px;text-align:right;font-size:14px;line-height:16px;color:#333;letter-spacing:-0.1px">Машина:</div>
<div class="t" style="left:803.5px;top:123.0px;font-size:14px;line-height:16px;color:#333;letter-spacing:-0.1px">CMS330</div>
<div class="abs" style="left:983px;top:90px;width:2px;height:55px;background:#777"></div>
<div class="abs" style="left:256px;top:145px;width:1040px;height:2px;background:#222"></div>
<svg class="abs" style="left:1064.33px;top:108.13px" width="21.33" height="21.33" viewBox="0 0 24 24"><path d="M17 3H5c-1.11 0-2 .9-2 2v14c0 1.1.89 2 2 2h14c1.1 0 2-.9 2-2V7l-4-4zm-5 16c-1.66 0-3-1.34-3-3s1.34-3 3-3 3 1.34 3 3-1.34 3-3 3zm3-10H5V5h10v4z" fill="#3a3a3a"/></svg>
<svg class="abs" style="left:1098.16px;top:108.24px" width="22.08" height="22.08" viewBox="0 0 24 24"><path d="M19 8H5c-1.66 0-3 1.34-3 3v6h4v4h12v-4h4v-6c0-1.66-1.34-3-3-3zm-3 11H8v-5h8v5zm3-7c-.55 0-1-.45-1-1s.45-1 1-1 1 .45 1 1-.45 1-1 1zm-1-9H6v4h12V3z" fill="#3a3a3a"/></svg>
<svg class="abs" style="left:1134.33px;top:108.33px" width="21.33" height="21.33" viewBox="0 0 24 24"><path d="M19 3H5c-1.1 0-2 .9-2 2v14c0 1.1.9 2 2 2h14c1.1 0 2-.9 2-2V5c0-1.1-.9-2-2-2zm-5.97 4.06L14.09 6l1.41 1.41L16.91 6l1.06 1.06-1.41 1.41 1.41 1.41-1.060 1.06-1.41-1.4-1.41 1.41-1.06-1.06 1.41-1.41-1.41-1.42zm-6.78.66h5v1.5h-5v-1.5zM11.5 16h-2v2H8v-2H6v-1.5h2v-2h1.5v2h2V16zm6.5 1.25h-5v-1.5h5v1.5zm0-2.5h-5v-1.5h5v1.5z" fill="#3a3a3a"/></svg>
<svg class="abs" style="left:1168.36px;top:108.21px" width="22.29" height="22.29" viewBox="0 0 24 24"><path d="M19 9h-4V3H9v6H5l7 7 7-7zM5 18v2h14v-2H5z" fill="#3a3a3a"/></svg>
<svg class="abs" style="left:1203.36px;top:108.21px" width="22.29" height="22.29" viewBox="0 0 24 24"><path d="M16 17.01V10h-2v7.01h-3L15 21l4-4h-3zM9 3L5 6.99h3V14h2V6.99h3L9 3z" fill="#3a3a3a"/></svg>
<div class="abs" style="left:265px;top:156px;width:348px;height:46px;border:1px solid #8a8a8a;border-radius:4px;background:transparent"></div>
<div class="t" style="left:275px;top:149px;font-size:10.8px;line-height:13px;color:#555;background:#cbcbcb;padding:0 4px">Изберете модел</div>
<div class="t" style="left:279px;top:170.0px;font-size:14px;line-height:18px;color:#222;letter-spacing:0.3px">7295</div>
<svg class="abs" style="left:583.00px;top:167.00px" width="24.00" height="24.00" viewBox="0 0 24 24"><path d="M7 10l5 5 5-5z" fill="#f4f4f4"/></svg>
<div class="abs" style="left:697px;top:156px;width:208px;height:46px;border:1px solid #8a8a8a;border-radius:4px;background:transparent"></div>
<div class="t" style="left:707px;top:149px;font-size:10.8px;line-height:13px;color:#555;background:#cbcbcb;padding:0 4px">В сила от:</div>
<div class="t" style="left:711px;top:170.0px;font-size:14px;line-height:18px;color:#222;letter-spacing:1px">11/19/2025</div>
<svg class="abs" style="left:877.00px;top:169.67px" width="20.00" height="20.00" viewBox="0 0 24 24"><path d="M17 12h-5v5h5v-5zM16 1v2H8V1H6v2H5c-1.11 0-1.99.9-1.99 2L3 19c0 1.1.89 2 2 2h14c1.1 0 2-.9 2-2V5c0-1.1-.9-2-2-2h-1V1h-2zm3 18H5V8h14v11z" fill="#3a3a3a"/></svg>
<svg class="abs" style="left:1082.5px;top:173.5px" width="11" height="11" viewBox="0 0 11 11"><path d="M5.5 0V11M0 5.5H11" stroke="#333" stroke-width="2.2"/></svg>
<svg class="abs" style="left:1114.5px;top:171.5px" width="16" height="15" viewBox="0 0 16 15"><path d="M8 0L16 15H0Z" fill="#333"/></svg>
<svg class="abs" style="left:1149px;top:171.5px" width="16" height="15" viewBox="0 0 16 15"><path d="M0 0H16L8 15Z" fill="#333"/></svg>
<div class="t" style="left:1177px;top:168px;width:30px;text-align:center;font-size:20px;line-height:22px;color:#333">X</div>
<div class="abs" style="left:256px;top:211px;width:1040px;height:43.400000000000006px;background:#e0e0e0"></div>
<div class="abs" style="left:256px;top:254.4px;width:1027.5px;height:7.6px;background:#f8f8fa"></div>
<div class="abs" style="left:256px;top:262.00px;width:1027.5px;height:19.66px;background:#f8f8fa;border-top:1.5px solid #3a3a3a"></div>
<div class="abs" style="left:261px;top:265.00px;width:11.600000000000023px;height:14.66px;background:#e6e6e6;border:1px solid #999;border-bottom:1.5px solid #555"></div>
<div class="abs" style="left:266px;top:275.66px;width:1.6000000000000227px;height:1px;background:#444"></div>
<div class="abs" style="left:278.6px;top:263.50px;width:205.39999999999998px;height:17.66px;background:#fff"></div>
<div class="abs" style="left:486px;top:263.50px;width:44.60000000000002px;height:17.66px;background:#fff"></div>
<div class="abs" style="left:532.6px;top:263.50px;width:255.0px;height:17.66px;background:#fff"></div>
<div class="abs" style="left:789.6px;top:263.50px;width:154.39999999999998px;height:17.66px;background:#fff"></div>
<div class="abs" style="left:946px;top:263.50px;width:32.60000000000002px;height:17.66px;background:#efeff3"></div>
<div class="abs" style="left:980.6px;top:263.50px;width:49.80000000000007px;height:17.66px;background:#fff"></div>
<div class="abs" style="left:1032.4px;top:263.50px;width:54.0px;height:17.66px;background:#efeff3"></div>
<div class="abs" style="left:1088.4px;top:263.50px;width:63.799999999999955px;height:17.66px;background:#efeff3"></div>
<div class="abs" style="left:1154.2px;top:263.50px;width:64.20000000000005px;height:17.66px;background:#efeff3"></div>
<div class="abs" style="left:1220.4px;top:263.50px;width:62.09999999999991px;height:17.66px;background:#efeff3"></div>
<div class="t" style="left:298.6px;top:263.60px;width:164.39999999999998px;overflow:hidden;font-size:11.5px;line-height:15px;color:#222;letter-spacing:-0.1px">Група6 - Кетел</div>
<svg class="abs" style="left:452.00px;top:261.84px" width="20.00" height="20.00" viewBox="0 0 24 24"><path d="M16.59 8.59L12 13.17 7.41 8.59 6 10l6 6 6-6z" fill="#111"/></svg>
<div class="t" style="left:485px;top:263.60px;width:40.60000000000002px;text-align:right;font-size:11.5px;line-height:15px;color:#222;font-weight:normal;letter-spacing:-0.1px">70624</div>
<div class="t" style="left:555.6px;top:263.60px;width:211.0px;overflow:hidden;font-size:11.5px;line-height:15px;color:#222;letter-spacing:-0.1px">Имитиращ кетел OV стр.шев</div>
<svg class="abs" style="left:753.60px;top:261.84px" width="20.00" height="20.00" viewBox="0 0 24 24"><path d="M16.59 8.59L12 13.17 7.41 8.59 6 10l6 6 6-6z" fill="#111"/></svg>
<div class="t" style="left:803.6px;top:263.60px;width:119.39999999999998px;overflow:hidden;font-size:11.5px;line-height:15px;color:#222;letter-spacing:-0.1px">2бр.</div>
<svg class="abs" style="left:918.00px;top:261.84px" width="20.00" height="20.00" viewBox="0 0 24 24"><path d="M16.59 8.59L12 13.17 7.41 8.59 6 10l6 6 6-6z" fill="#111"/></svg>
<div class="t" style="left:945px;top:263.60px;width:32.60000000000002px;text-align:right;font-size:11.5px;line-height:15px;color:#8a8a8a;font-weight:normal;letter-spacing:-0.1px">0.60</div>
<div class="t" style="left:979.6px;top:263.60px;width:49.80000000000007px;text-align:right;font-size:11.5px;line-height:15px;color:#222;font-weight:bold;letter-spacing:-0.1px">1.50</div>
<div class="t" style="left:1031.4px;top:263.60px;width:54.0px;text-align:right;font-size:11.5px;line-height:15px;color:#8a8a8a;font-weight:normal;letter-spacing:-0.1px">0.23504</div>
<div class="t" style="left:1087.4px;top:263.60px;width:63.799999999999955px;text-align:right;font-size:11.5px;line-height:15px;color:#8a8a8a;font-weight:normal;letter-spacing:-0.1px">192.00</div>
<div class="t" style="left:1153.2px;top:263.60px;width:64.20000000000005px;text-align:right;font-size:11.5px;line-height:15px;color:#8a8a8a;font-weight:normal;letter-spacing:-0.1px">5.66265</div>
<div class="t" style="left:1219.4px;top:263.60px;width:62.09999999999991px;text-align:right;font-size:11.5px;line-height:15px;color:#8a8a8a;font-weight:normal;letter-spacing:-0.1px">24.00</div>
<div class="abs" style="left:256px;top:281.66px;width:1027.5px;height:19.66px;background:#f8f8fa;border-top:1.5px solid #3a3a3a"></div>
<div class="abs" style="left:261px;top:284.66px;width:11.600000000000023px;height:14.66px;background:#e6e6e6;border:1px solid #999;border-bottom:1.5px solid #555"></div>
<div class="abs" style="left:266px;top:295.32px;width:1.6000000000000227px;height:1px;background:#444"></div>
<div class="abs" style="left:278.6px;top:283.16px;width:205.39999999999998px;height:17.66px;background:#fff"></div>
<div class="abs" style="left:486px;top:283.16px;width:44.60000000000002px;height:17.66px;background:#fff"></div>
<div class="abs" style="left:532.6px;top:283.16px;width:255.0px;height:17.66px;background:#fff"></div>
<div class="abs" style="left:789.6px;top:283.16px;width:154.39999999999998px;height:17.66px;background:#fff"></div>
<div class="abs" style="left:946px;top:283.16px;width:32.60000000000002px;height:17.66px;background:#efeff3"></div>
<div class="abs" style="left:980.6px;top:283.16px;width:49.80000000000007px;height:17.66px;background:#fff"></div>
<div class="abs" style="left:1032.4px;top:283.16px;width:54.0px;height:17.66px;background:#efeff3"></div>
<div class="abs" style="left:1088.4px;top:283.16px;width:63.799999999999955px;height:17.66px;background:#efeff3"></div>
<div class="abs" style="left:1154.2px;top:283.16px;width:64.20000000000005px;height:17.66px;background:#efeff3"></div>
<div class="abs" style="left:1220.4px;top:283.16px;width:62.09999999999991px;height:17.66px;background:#efeff3"></div>
<div class="t" style="left:298.6px;top:283.26px;width:164.39999999999998px;overflow:hidden;font-size:11.5px;line-height:15px;color:#222;letter-spacing:-0.1px">Група8 - Страничен шев</div>
<svg class="abs" style="left:452.00px;top:281.50px" width="20.00" height="20.00" viewBox="0 0 24 24"><path d="M16.59 8.59L12 13.17 7.41 8.59 6 10l6 6 6-6z" fill="#111"/></svg>
<div class="t" style="left:485px;top:283.26px;width:40.60000000000002px;text-align:right;font-size:11.5px;line-height:15px;color:#222;font-weight:normal;letter-spacing:-0.1px">40816</div>
<div class="t" style="left:555.6px;top:283.26px;width:211.0px;overflow:hidden;font-size:11.5px;line-height:15px;color:#222;letter-spacing:-0.1px">Пришива емблема</div>
<svg class="abs" style="left:753.60px;top:281.50px" width="20.00" height="20.00" viewBox="0 0 24 24"><path d="M16.59 8.59L12 13.17 7.41 8.59 6 10l6 6 6-6z" fill="#111"/></svg>
<div class="t" style="left:803.6px;top:283.26px;width:119.39999999999998px;overflow:hidden;font-size:11.5px;line-height:15px;color:#222;letter-spacing:-0.1px">1бр.хим.знак</div>
<svg class="abs" style="left:918.00px;top:281.50px" width="20.00" height="20.00" viewBox="0 0 24 24"><path d="M16.59 8.59L12 13.17 7.41 8.59 6 10l6 6 6-6z" fill="#111"/></svg>
<div class="t" style="left:945px;top:283.26px;width:32.60000000000002px;text-align:right;font-size:11.5px;line-height:15px;color:#8a8a8a;font-weight:normal;letter-spacing:-0.1px">0.60</div>
<div class="t" style="left:979.6px;top:283.26px;width:49.80000000000007px;text-align:right;font-size:11.5px;line-height:15px;color:#222;font-weight:bold;letter-spacing:-0.1px">0.80</div>
<div class="t" style="left:1031.4px;top:283.26px;width:54.0px;text-align:right;font-size:11.5px;line-height:15px;color:#8a8a8a;font-weight:normal;letter-spacing:-0.1px">0.12504</div>
<div class="t" style="left:1087.4px;top:283.26px;width:63.799999999999955px;text-align:right;font-size:11.5px;line-height:15px;color:#8a8a8a;font-weight:normal;letter-spacing:-0.1px">360.00</div>
<div class="t" style="left:1153.2px;top:283.26px;width:64.20000000000005px;text-align:right;font-size:11.5px;line-height:15px;color:#8a8a8a;font-weight:normal;letter-spacing:-0.1px">5.66265</div>
<div class="t" style="left:1219.4px;top:283.26px;width:62.09999999999991px;text-align:right;font-size:11.5px;line-height:15px;color:#8a8a8a;font-weight:normal;letter-spacing:-0.1px">45.00</div>
<div class="abs" style="left:256px;top:301.32px;width:1027.5px;height:19.66px;background:#f8f8fa;border-top:1.5px solid #3a3a3a"></div>
<div class="abs" style="left:261px;top:304.32px;width:11.600000000000023px;height:14.66px;background:#e6e6e6;border:1px solid #999;border-bottom:1.5px solid #555"></div>
<div class="abs" style="left:266px;top:314.98px;width:1.6000000000000227px;height:1px;background:#444"></div>
<div class="abs" style="left:278.6px;top:302.82px;width:205.39999999999998px;height:17.66px;background:#fff"></div>
<div class="abs" style="left:486px;top:302.82px;width:44.60000000000002px;height:17.66px;background:#fff"></div>
<div class="abs" style="left:532.6px;top:302.82px;width:255.0px;height:17.66px;background:#fff"></div>
<div class="abs" style="left:789.6px;top:302.82px;width:154.39999999999998px;height:17.66px;background:#fff"></div>
<div class="abs" style="left:946px;top:302.82px;width:32.60000000000002px;height:17.66px;background:#efeff3"></div>
<div class="abs" style="left:980.6px;top:302.82px;width:49.80000000000007px;height:17.66px;background:#fff"></div>
<div class="abs" style="left:1032.4px;top:302.82px;width:54.0px;height:17.66px;background:#efeff3"></div>
<div class="abs" style="left:1088.4px;top:302.82px;width:63.799999999999955px;height:17.66px;background:#efeff3"></div>
<div class="abs" style="left:1154.2px;top:302.82px;width:64.20000000000005px;height:17.66px;background:#efeff3"></div>
<div class="abs" style="left:1220.4px;top:302.82px;width:62.09999999999991px;height:17.66px;background:#efeff3"></div>
<div class="t" style="left:298.6px;top:302.92px;width:164.39999999999998px;overflow:hidden;font-size:11.5px;line-height:15px;color:#222;letter-spacing:-0.1px">Група16 - Отчет бригадири</div>
<svg class="abs" style="left:452.00px;top:301.16px" width="20.00" height="20.00" viewBox="0 0 24 24"><path d="M16.59 8.59L12 13.17 7.41 8.59 6 10l6 6 6-6z" fill="#111"/></svg>
<div class="t" style="left:485px;top:302.92px;width:40.60000000000002px;text-align:right;font-size:11.5px;line-height:15px;color:#222;font-weight:normal;letter-spacing:-0.1px">31604</div>
<div class="t" style="left:555.6px;top:302.92px;width:211.0px;overflow:hidden;font-size:11.5px;line-height:15px;color:#222;letter-spacing:-0.1px">Прието от специални машини</div>
<svg class="abs" style="left:753.60px;top:301.16px" width="20.00" height="20.00" viewBox="0 0 24 24"><path d="M16.59 8.59L12 13.17 7.41 8.59 6 10l6 6 6-6z" fill="#111"/></svg>
<div class="t" style="left:803.6px;top:302.92px;width:119.39999999999998px;overflow:hidden;font-size:11.5px;line-height:15px;color:#222;letter-spacing:-0.1px">приемане на бройки</div>
<svg class="abs" style="left:918.00px;top:301.16px" width="20.00" height="20.00" viewBox="0 0 24 24"><path d="M16.59 8.59L12 13.17 7.41 8.59 6 10l6 6 6-6z" fill="#111"/></svg>
<div class="t" style="left:945px;top:302.92px;width:32.60000000000002px;text-align:right;font-size:11.5px;line-height:15px;color:#8a8a8a;font-weight:normal;letter-spacing:-0.1px">1.00</div>
<div class="t" style="left:979.6px;top:302.92px;width:49.80000000000007px;text-align:right;font-size:11.5px;line-height:15px;color:#222;font-weight:bold;letter-spacing:-0.1px">0.00</div>
<div class="t" style="left:1031.4px;top:302.92px;width:54.0px;text-align:right;font-size:11.5px;line-height:15px;color:#8a8a8a;font-weight:normal;letter-spacing:-0.1px">0.00000</div>
<div class="t" style="left:1087.4px;top:302.92px;width:63.799999999999955px;text-align:right;font-size:11.5px;line-height:15px;color:#8a8a8a;font-weight:normal;letter-spacing:-0.1px">480000.00</div>
<div class="t" style="left:1153.2px;top:302.92px;width:64.20000000000005px;text-align:right;font-size:11.5px;line-height:15px;color:#8a8a8a;font-weight:normal;letter-spacing:-0.1px">0.00006</div>
<div class="t" style="left:1219.4px;top:302.92px;width:62.09999999999991px;text-align:right;font-size:11.5px;line-height:15px;color:#8a8a8a;font-weight:normal;letter-spacing:-0.1px">60000.00</div>
<div class="abs" style="left:256px;top:320.98px;width:1027.5px;height:19.66px;background:#f8f8fa;border-top:1.5px solid #3a3a3a"></div>
<div class="abs" style="left:261px;top:323.98px;width:11.600000000000023px;height:14.66px;background:#e6e6e6;border:1px solid #999;border-bottom:1.5px solid #555"></div>
<div class="abs" style="left:266px;top:334.64px;width:1.6000000000000227px;height:1px;background:#444"></div>
<div class="abs" style="left:278.6px;top:322.48px;width:205.39999999999998px;height:17.66px;background:#fff"></div>
<div class="abs" style="left:486px;top:322.48px;width:44.60000000000002px;height:17.66px;background:#fff"></div>
<div class="abs" style="left:532.6px;top:322.48px;width:255.0px;height:17.66px;background:#fff"></div>
<div class="abs" style="left:789.6px;top:322.48px;width:154.39999999999998px;height:17.66px;background:#fff"></div>
<div class="abs" style="left:946px;top:322.48px;width:32.60000000000002px;height:17.66px;background:#efeff3"></div>
<div class="abs" style="left:980.6px;top:322.48px;width:49.80000000000007px;height:17.66px;background:#fff"></div>
<div class="abs" style="left:1032.4px;top:322.48px;width:54.0px;height:17.66px;background:#efeff3"></div>
<div class="abs" style="left:1088.4px;top:322.48px;width:63.799999999999955px;height:17.66px;background:#efeff3"></div>
<div class="abs" style="left:1154.2px;top:322.48px;width:64.20000000000005px;height:17.66px;background:#efeff3"></div>
<div class="abs" style="left:1220.4px;top:322.48px;width:62.09999999999991px;height:17.66px;background:#efeff3"></div>
<div class="t" style="left:298.6px;top:322.58px;width:164.39999999999998px;overflow:hidden;font-size:11.5px;line-height:15px;color:#222;letter-spacing:-0.1px">Група4 - Ръчна работа</div>
<svg class="abs" style="left:452.00px;top:320.82px" width="20.00" height="20.00" viewBox="0 0 24 24"><path d="M16.59 8.59L12 13.17 7.41 8.59 6 10l6 6 6-6z" fill="#111"/></svg>
<div class="t" style="left:485px;top:322.58px;width:40.60000000000002px;text-align:right;font-size:11.5px;line-height:15px;color:#222;font-weight:normal;letter-spacing:-0.1px">80401</div>
<div class="t" style="left:555.6px;top:322.58px;width:211.0px;overflow:hidden;font-size:11.5px;line-height:15px;color:#222;letter-spacing:-0.1px">Промушване и зашиване на резерва</div>
<svg class="abs" style="left:753.60px;top:320.82px" width="20.00" height="20.00" viewBox="0 0 24 24"><path d="M16.59 8.59L12 13.17 7.41 8.59 6 10l6 6 6-6z" fill="#111"/></svg>
<div class="t" style="left:803.6px;top:322.58px;width:119.39999999999998px;overflow:hidden;font-size:11.5px;line-height:15px;color:#222;letter-spacing:-0.1px">5бр.пром. и обр. на бр.</div>
<svg class="abs" style="left:918.00px;top:320.82px" width="20.00" height="20.00" viewBox="0 0 24 24"><path d="M16.59 8.59L12 13.17 7.41 8.59 6 10l6 6 6-6z" fill="#111"/></svg>
<div class="t" style="left:945px;top:322.58px;width:32.60000000000002px;text-align:right;font-size:11.5px;line-height:15px;color:#8a8a8a;font-weight:normal;letter-spacing:-0.1px">1.00</div>
<div class="t" style="left:979.6px;top:322.58px;width:49.80000000000007px;text-align:right;font-size:11.5px;line-height:15px;color:#222;font-weight:bold;letter-spacing:-0.1px">1.00</div>
<div class="t" style="left:1031.4px;top:322.58px;width:54.0px;text-align:right;font-size:11.5px;line-height:15px;color:#8a8a8a;font-weight:normal;letter-spacing:-0.1px">0.09438</div>
<div class="t" style="left:1087.4px;top:322.58px;width:63.799999999999955px;text-align:right;font-size:11.5px;line-height:15px;color:#8a8a8a;font-weight:normal;letter-spacing:-0.1px">480.00</div>
<div class="t" style="left:1153.2px;top:322.58px;width:64.20000000000005px;text-align:right;font-size:11.5px;line-height:15px;color:#8a8a8a;font-weight:normal;letter-spacing:-0.1px">5.66265</div>
<div class="t" style="left:1219.4px;top:322.58px;width:62.09999999999991px;text-align:right;font-size:11.5px;line-height:15px;color:#8a8a8a;font-weight:normal;letter-spacing:-0.1px">60.00</div>
<div class="abs" style="left:256px;top:340.64px;width:1027.5px;height:19.66px;background:#f8f8fa;border-top:1.5px solid #3a3a3a"></div>
<div class="abs" style="left:261px;top:343.64px;width:11.600000000000023px;height:14.66px;background:#e6e6e6;border:1px solid #999;border-bottom:1.5px solid #555"></div>
<div class="abs" style="left:266px;top:354.30px;width:1.6000000000000227px;height:1px;background:#444"></div>
<div class="abs" style="left:278.6px;top:342.14px;width:205.39999999999998px;height:17.66px;background:#fff"></div>
<div class="abs" style="left:486px;top:342.14px;width:44.60000000000002px;height:17.66px;background:#fff"></div>
<div class="abs" style="left:532.6px;top:342.14px;width:255.0px;height:17.66px;background:#fff"></div>
<div class="abs" style="left:789.6px;top:342.14px;width:154.39999999999998px;height:17.66px;background:#fff"></div>
<div class="abs" style="left:946px;top:342.14px;width:32.60000000000002px;height:17.66px;background:#efeff3"></div>
<div class="abs" style="left:980.6px;top:342.14px;width:49.80000000000007px;height:17.66px;background:#fff"></div>
<div class="abs" style="left:1032.4px;top:342.14px;width:54.0px;height:17.66px;background:#efeff3"></div>
<div class="abs" style="left:1088.4px;top:342.14px;width:63.799999999999955px;height:17.66px;background:#efeff3"></div>
<div class="abs" style="left:1154.2px;top:342.14px;width:64.20000000000005px;height:17.66px;background:#efeff3"></div>
<div class="abs" style="left:1220.4px;top:342.14px;width:62.09999999999991px;height:17.66px;background:#efeff3"></div>
<div class="t" style="left:298.6px;top:342.24px;width:164.39999999999998px;overflow:hidden;font-size:11.5px;line-height:15px;color:#222;letter-spacing:-0.1px">Група4 - Ръчна работа</div>
<svg class="abs" style="left:452.00px;top:340.48px" width="20.00" height="20.00" viewBox="0 0 24 24"><path d="M16.59 8.59L12 13.17 7.41 8.59 6 10l6 6 6-6z" fill="#111"/></svg>
<div class="t" style="left:485px;top:342.24px;width:40.60000000000002px;text-align:right;font-size:11.5px;line-height:15px;color:#222;font-weight:normal;letter-spacing:-0.1px">80404</div>
<div class="t" style="left:555.6px;top:342.24px;width:211.0px;overflow:hidden;font-size:11.5px;line-height:15px;color:#222;letter-spacing:-0.1px">Зашива бие</div>
<svg class="abs" style="left:753.60px;top:340.48px" width="20.00" height="20.00" viewBox="0 0 24 24"><path d="M16.59 8.59L12 13.17 7.41 8.59 6 10l6 6 6-6z" fill="#111"/></svg>
<div class="t" style="left:803.6px;top:342.24px;width:119.39999999999998px;overflow:hidden;font-size:11.5px;line-height:15px;color:#222;letter-spacing:-0.1px">бие 1 см</div>
<svg class="abs" style="left:918.00px;top:340.48px" width="20.00" height="20.00" viewBox="0 0 24 24"><path d="M16.59 8.59L12 13.17 7.41 8.59 6 10l6 6 6-6z" fill="#111"/></svg>
<div class="t" style="left:945px;top:342.24px;width:32.60000000000002px;text-align:right;font-size:11.5px;line-height:15px;color:#8a8a8a;font-weight:normal;letter-spacing:-0.1px">1.00</div>
<div class="t" style="left:979.6px;top:342.24px;width:49.80000000000007px;text-align:right;font-size:11.5px;line-height:15px;color:#222;font-weight:bold;letter-spacing:-0.1px">1.50</div>
<div class="t" style="left:1031.4px;top:342.24px;width:54.0px;text-align:right;font-size:11.5px;line-height:15px;color:#8a8a8a;font-weight:normal;letter-spacing:-0.1px">0.14157</div>
<div class="t" style="left:1087.4px;top:342.24px;width:63.799999999999955px;text-align:right;font-size:11.5px;line-height:15px;color:#8a8a8a;font-weight:normal;letter-spacing:-0.1px">320.00</div>
<div class="t" style="left:1153.2px;top:342.24px;width:64.20000000000005px;text-align:right;font-size:11.5px;line-height:15px;color:#8a8a8a;font-weight:normal;letter-spacing:-0.1px">5.66265</div>
<div class="t" style="left:1219.4px;top:342.24px;width:62.09999999999991px;text-align:right;font-size:11.5px;line-height:15px;color:#8a8a8a;font-weight:normal;letter-spacing:-0.1px">40.00</div>
<div class="abs" style="left:256px;top:360.30px;width:1027.5px;height:19.66px;background:#f8f8fa;border-top:1.5px solid #3a3a3a"></div>
<div class="abs" style="left:261px;top:363.30px;width:11.600000000000023px;height:14.66px;background:#e6e6e6;border:1px solid #999;border-bottom:1.5px solid #555"></div>
<div class="abs" style="left:266px;top:373.96px;width:1.6000000000000227px;height:1px;background:#444"></div>
<div class="abs" style="left:278.6px;top:361.80px;width:205.39999999999998px;height:17.66px;background:#fff"></div>
<div class="abs" style="left:486px;top:361.80px;width:44.60000000000002px;height:17.66px;background:#fff"></div>
<div class="abs" style="left:532.6px;top:361.80px;width:255.0px;height:17.66px;background:#fff"></div>
<div class="abs" style="left:789.6px;top:361.80px;width:154.39999999999998px;height:17.66px;background:#fff"></div>
<div class="abs" style="left:946px;top:361.80px;width:32.60000000000002px;height:17.66px;background:#efeff3"></div>
<div class="abs" style="left:980.6px;top:361.80px;width:49.80000000000007px;height:17.66px;background:#fff"></div>
<div class="abs" style="left:1032.4px;top:361.80px;width:54.0px;height:17.66px;background:#efeff3"></div>
<div class="abs" style="left:1088.4px;top:361.80px;width:63.799999999999955px;height:17.66px;background:#efeff3"></div>
<div class="abs" style="left:1154.2px;top:361.80px;width:64.20000000000005px;height:17.66px;background:#efeff3"></div>
<div class="abs" style="left:1220.4px;top:361.80px;width:62.09999999999991px;height:17.66px;background:#efeff3"></div>
<div class="t" style="left:298.6px;top:361.90px;width:164.39999999999998px;overflow:hidden;font-size:11.5px;line-height:15px;color:#222;letter-spacing:-0.1px">Група5 - Спец. машини</div>
<svg class="abs" style="left:452.00px;top:360.14px" width="20.00" height="20.00" viewBox="0 0 24 24"><path d="M16.59 8.59L12 13.17 7.41 8.59 6 10l6 6 6-6z" fill="#111"/></svg>
<div class="t" style="left:485px;top:361.90px;width:40.60000000000002px;text-align:right;font-size:11.5px;line-height:15px;color:#222;font-weight:normal;letter-spacing:-0.1px">90521</div>
<div class="t" style="left:555.6px;top:361.90px;width:211.0px;overflow:hidden;font-size:11.5px;line-height:15px;color:#222;letter-spacing:-0.1px">Затяга резерви Спец. машина</div>
<svg class="abs" style="left:753.60px;top:360.14px" width="20.00" height="20.00" viewBox="0 0 24 24"><path d="M16.59 8.59L12 13.17 7.41 8.59 6 10l6 6 6-6z" fill="#111"/></svg>
<div class="t" style="left:803.6px;top:361.90px;width:119.39999999999998px;overflow:hidden;font-size:11.5px;line-height:15px;color:#222;letter-spacing:-0.1px">8бр.</div>
<svg class="abs" style="left:918.00px;top:360.14px" width="20.00" height="20.00" viewBox="0 0 24 24"><path d="M16.59 8.59L12 13.17 7.41 8.59 6 10l6 6 6-6z" fill="#111"/></svg>
<div class="t" style="left:945px;top:361.90px;width:32.60000000000002px;text-align:right;font-size:11.5px;line-height:15px;color:#8a8a8a;font-weight:normal;letter-spacing:-0.1px">0.80</div>
<div class="t" style="left:979.6px;top:361.90px;width:49.80000000000007px;text-align:right;font-size:11.5px;line-height:15px;color:#222;font-weight:bold;letter-spacing:-0.1px">1.60</div>
<div class="t" style="left:1031.4px;top:361.90px;width:54.0px;text-align:right;font-size:11.5px;line-height:15px;color:#8a8a8a;font-weight:normal;letter-spacing:-0.1px">0.18876</div>
<div class="t" style="left:1087.4px;top:361.90px;width:63.799999999999955px;text-align:right;font-size:11.5px;line-height:15px;color:#8a8a8a;font-weight:normal;letter-spacing:-0.1px">240.00</div>
<div class="t" style="left:1153.2px;top:361.90px;width:64.20000000000005px;text-align:right;font-size:11.5px;line-height:15px;color:#8a8a8a;font-weight:normal;letter-spacing:-0.1px">5.66265</div>
<div class="t" style="left:1219.4px;top:361.90px;width:62.09999999999991px;text-align:right;font-size:11.5px;line-height:15px;color:#8a8a8a;font-weight:normal;letter-spacing:-0.1px">30.00</div>
<div class="abs" style="left:256px;top:379.96px;width:1027.5px;height:19.66px;background:#f8f8fa;border-top:1.5px solid #3a3a3a"></div>
<div class="abs" style="left:261px;top:382.96px;width:11.600000000000023px;height:14.66px;background:#e6e6e6;border:1px solid #999;border-bottom:1.5px solid #555"></div>
<div class="abs" style="left:266px;top:393.62px;width:1.6000000000000227px;height:1px;background:#444"></div>
<div class="abs" style="left:278.6px;top:381.46px;width:205.39999999999998px;height:17.66px;background:#fff"></div>
<div class="abs" style="left:486px;top:381.46px;width:44.60000000000002px;height:17.66px;background:#fff"></div>
<div class="abs" style="left:532.6px;top:381.46px;width:255.0px;height:17.66px;background:#fff"></div>
<div class="abs" style="left:789.6px;top:381.46px;width:154.39999999999998px;height:17.66px;background:#fff"></div>
<div class="abs" style="left:946px;top:381.46px;width:32.60000000000002px;height:17.66px;background:#efeff3"></div>
<div class="abs" style="left:980.6px;top:381.46px;width:49.80000000000007px;height:17.66px;background:#fff"></div>
<div class="abs" style="left:1032.4px;top:381.46px;width:54.0px;height:17.66px;background:#efeff3"></div>
<div class="abs" style="left:1088.4px;top:381.46px;width:63.799999999999955px;height:17.66px;background:#efeff3"></div>
<div class="abs" style="left:1154.2px;top:381.46px;width:64.20000000000005px;height:17.66px;background:#efeff3"></div>
<div class="abs" style="left:1220.4px;top:381.46px;width:62.09999999999991px;height:17.66px;background:#efeff3"></div>
<div class="t" style="left:298.6px;top:381.56px;width:164.39999999999998px;overflow:hidden;font-size:11.5px;line-height:15px;color:#222;letter-spacing:-0.1px">Група16 - Отчет бригадири</div>
<svg class="abs" style="left:452.00px;top:379.80px" width="20.00" height="20.00" viewBox="0 0 24 24"><path d="M16.59 8.59L12 13.17 7.41 8.59 6 10l6 6 6-6z" fill="#111"/></svg>
<div class="t" style="left:485px;top:381.56px;width:40.60000000000002px;text-align:right;font-size:11.5px;line-height:15px;color:#222;font-weight:normal;letter-spacing:-0.1px">31605</div>
<div class="t" style="left:555.6px;top:381.56px;width:211.0px;overflow:hidden;font-size:11.5px;line-height:15px;color:#222;letter-spacing:-0.1px">Прието от П.М.,ОТК,Опаковкаи етик.</div>
<svg class="abs" style="left:753.60px;top:379.80px" width="20.00" height="20.00" viewBox="0 0 24 24"><path d="M16.59 8.59L12 13.17 7.41 8.59 6 10l6 6 6-6z" fill="#111"/></svg>
<div class="t" style="left:803.6px;top:381.56px;width:119.39999999999998px;overflow:hidden;font-size:11.5px;line-height:15px;color:#222;letter-spacing:-0.1px">приемане на бройки</div>
<svg class="abs" style="left:918.00px;top:379.80px" width="20.00" height="20.00" viewBox="0 0 24 24"><path d="M16.59 8.59L12 13.17 7.41 8.59 6 10l6 6 6-6z" fill="#111"/></svg>
<div class="t" style="left:945px;top:381.56px;width:32.60000000000002px;text-align:right;font-size:11.5px;line-height:15px;color:#8a8a8a;font-weight:normal;letter-spacing:-0.1px">1.00</div>
<div class="t" style="left:979.6px;top:381.56px;width:49.80000000000007px;text-align:right;font-size:11.5px;line-height:15px;color:#222;font-weight:bold;letter-spacing:-0.1px">0.00</div>
<div class="t" style="left:1031.4px;top:381.56px;width:54.0px;text-align:right;font-size:11.5px;line-height:15px;color:#8a8a8a;font-weight:normal;letter-spacing:-0.1px">0.00000</div>
<div class="t" style="left:1087.4px;top:381.56px;width:63.799999999999955px;text-align:right;font-size:11.5px;line-height:15px;color:#8a8a8a;font-weight:normal;letter-spacing:-0.1px">480000.00</div>
<div class="t" style="left:1153.2px;top:381.56px;width:64.20000000000005px;text-align:right;font-size:11.5px;line-height:15px;color:#8a8a8a;font-weight:normal;letter-spacing:-0.1px">0.00006</div>
<div class="t" style="left:1219.4px;top:381.56px;width:62.09999999999991px;text-align:right;font-size:11.5px;line-height:15px;color:#8a8a8a;font-weight:normal;letter-spacing:-0.1px">60000.00</div>
<div class="abs" style="left:256px;top:399.62px;width:1027.5px;height:19.66px;background:#f8f8fa;border-top:1.5px solid #3a3a3a"></div>
<div class="abs" style="left:261px;top:402.62px;width:11.600000000000023px;height:14.66px;background:#e6e6e6;border:1px solid #999;border-bottom:1.5px solid #555"></div>
<div class="abs" style="left:266px;top:413.28px;width:1.6000000000000227px;height:1px;background:#444"></div>
<div class="abs" style="left:278.6px;top:401.12px;width:205.39999999999998px;height:17.66px;background:#fff"></div>
<div class="abs" style="left:486px;top:401.12px;width:44.60000000000002px;height:17.66px;background:#fff"></div>
<div class="abs" style="left:532.6px;top:401.12px;width:255.0px;height:17.66px;background:#fff"></div>
<div class="abs" style="left:789.6px;top:401.12px;width:154.39999999999998px;height:17.66px;background:#fff"></div>
<div class="abs" style="left:946px;top:401.12px;width:32.60000000000002px;height:17.66px;background:#efeff3"></div>
<div class="abs" style="left:980.6px;top:401.12px;width:49.80000000000007px;height:17.66px;background:#fff"></div>
<div class="abs" style="left:1032.4px;top:401.12px;width:54.0px;height:17.66px;background:#efeff3"></div>
<div class="abs" style="left:1088.4px;top:401.12px;width:63.799999999999955px;height:17.66px;background:#efeff3"></div>
<div class="abs" style="left:1154.2px;top:401.12px;width:64.20000000000005px;height:17.66px;background:#efeff3"></div>
<div class="abs" style="left:1220.4px;top:401.12px;width:62.09999999999991px;height:17.66px;background:#efeff3"></div>
<div class="t" style="left:298.6px;top:401.22px;width:164.39999999999998px;overflow:hidden;font-size:11.5px;line-height:15px;color:#222;letter-spacing:-0.1px">Група3 - Гладене и пакетиране</div>
<svg class="abs" style="left:452.00px;top:399.46px" width="20.00" height="20.00" viewBox="0 0 24 24"><path d="M16.59 8.59L12 13.17 7.41 8.59 6 10l6 6 6-6z" fill="#111"/></svg>
<div class="t" style="left:485px;top:401.22px;width:40.60000000000002px;text-align:right;font-size:11.5px;line-height:15px;color:#222;font-weight:normal;letter-spacing:-0.1px">90311</div>
<div class="t" style="left:555.6px;top:401.22px;width:211.0px;overflow:hidden;font-size:11.5px;line-height:15px;color:#222;letter-spacing:-0.1px">Крайно гладене 3</div>
<svg class="abs" style="left:753.60px;top:399.46px" width="20.00" height="20.00" viewBox="0 0 24 24"><path d="M16.59 8.59L12 13.17 7.41 8.59 6 10l6 6 6-6z" fill="#111"/></svg>
<div class="t" style="left:803.6px;top:401.22px;width:119.39999999999998px;overflow:hidden;font-size:11.5px;line-height:15px;color:#222;letter-spacing:-0.1px">странични шевове</div>
<svg class="abs" style="left:918.00px;top:399.46px" width="20.00" height="20.00" viewBox="0 0 24 24"><path d="M16.59 8.59L12 13.17 7.41 8.59 6 10l6 6 6-6z" fill="#111"/></svg>
<div class="t" style="left:945px;top:401.22px;width:32.60000000000002px;text-align:right;font-size:11.5px;line-height:15px;color:#8a8a8a;font-weight:normal;letter-spacing:-0.1px">1.00</div>
<div class="t" style="left:979.6px;top:401.22px;width:49.80000000000007px;text-align:right;font-size:11.5px;line-height:15px;color:#222;font-weight:bold;letter-spacing:-0.1px">0.30</div>
<div class="t" style="left:1031.4px;top:401.22px;width:54.0px;text-align:right;font-size:11.5px;line-height:15px;color:#8a8a8a;font-weight:normal;letter-spacing:-0.1px">0.02831</div>
<div class="t" style="left:1087.4px;top:401.22px;width:63.799999999999955px;text-align:right;font-size:11.5px;line-height:15px;color:#8a8a8a;font-weight:normal;letter-spacing:-0.1px">1600.00</div>
<div class="t" style="left:1153.2px;top:401.22px;width:64.20000000000005px;text-align:right;font-size:11.5px;line-height:15px;color:#8a8a8a;font-weight:normal;letter-spacing:-0.1px">5.66265</div>
<div class="t" style="left:1219.4px;top:401.22px;width:62.09999999999991px;text-align:right;font-size:11.5px;line-height:15px;color:#8a8a8a;font-weight:normal;letter-spacing:-0.1px">200.00</div>
<div class="abs" style="left:256px;top:419.28px;width:1027.5px;height:19.66px;background:#f8f8fa;border-top:1.5px solid #3a3a3a"></div>
<div class="abs" style="left:261px;top:422.28px;width:11.600000000000023px;height:14.66px;background:#e6e6e6;border:1px solid #999;border-bottom:1.5px solid #555"></div>
<div class="abs" style="left:266px;top:432.94px;width:1.6000000000000227px;height:1px;background:#444"></div>
<div class="abs" style="left:278.6px;top:420.78px;width:205.39999999999998px;height:17.66px;background:#fff"></div>
<div class="abs" style="left:486px;top:420.78px;width:44.60000000000002px;height:17.66px;background:#fff"></div>
<div class="abs" style="left:532.6px;top:420.78px;width:255.0px;height:17.66px;background:#fff"></div>
<div class="abs" style="left:789.6px;top:420.78px;width:154.39999999999998px;height:17.66px;background:#fff"></div>
<div class="abs" style="left:946px;top:420.78px;width:32.60000000000002px;height:17.66px;background:#efeff3"></div>
<div class="abs" style="left:980.6px;top:420.78px;width:49.80000000000007px;height:17.66px;background:#fff"></div>
<div class="abs" style="left:1032.4px;top:420.78px;width:54.0px;height:17.66px;background:#efeff3"></div>
<div class="abs" style="left:1088.4px;top:420.78px;width:63.799999999999955px;height:17.66px;background:#efeff3"></div>
<div class="abs" style="left:1154.2px;top:420.78px;width:64.20000000000005px;height:17.66px;background:#efeff3"></div>
<div class="abs" style="left:1220.4px;top:420.78px;width:62.09999999999991px;height:17.66px;background:#efeff3"></div>
<div class="t" style="left:298.6px;top:420.88px;width:164.39999999999998px;overflow:hidden;font-size:11.5px;line-height:15px;color:#222;letter-spacing:-0.1px">Група3 - Гладене и пакетиране</div>
<svg class="abs" style="left:452.00px;top:419.12px" width="20.00" height="20.00" viewBox="0 0 24 24"><path d="M16.59 8.59L12 13.17 7.41 8.59 6 10l6 6 6-6z" fill="#111"/></svg>
<div class="t" style="left:485px;top:420.88px;width:40.60000000000002px;text-align:right;font-size:11.5px;line-height:15px;color:#222;font-weight:normal;letter-spacing:-0.1px">90301</div>
<div class="t" style="left:555.6px;top:420.88px;width:211.0px;overflow:hidden;font-size:11.5px;line-height:15px;color:#222;letter-spacing:-0.1px">Крайно гладене</div>
<svg class="abs" style="left:753.60px;top:419.12px" width="20.00" height="20.00" viewBox="0 0 24 24"><path d="M16.59 8.59L12 13.17 7.41 8.59 6 10l6 6 6-6z" fill="#111"/></svg>
<div class="t" style="left:803.6px;top:420.88px;width:119.39999999999998px;overflow:hidden;font-size:11.5px;line-height:15px;color:#222;letter-spacing:-0.1px">мин</div>
<svg class="abs" style="left:918.00px;top:419.12px" width="20.00" height="20.00" viewBox="0 0 24 24"><path d="M16.59 8.59L12 13.17 7.41 8.59 6 10l6 6 6-6z" fill="#111"/></svg>
<div class="t" style="left:945px;top:420.88px;width:32.60000000000002px;text-align:right;font-size:11.5px;line-height:15px;color:#8a8a8a;font-weight:normal;letter-spacing:-0.1px">0.80</div>
<div class="t" style="left:979.6px;top:420.88px;width:49.80000000000007px;text-align:right;font-size:11.5px;line-height:15px;color:#222;font-weight:bold;letter-spacing:-0.1px">1.60</div>
<div class="t" style="left:1031.4px;top:420.88px;width:54.0px;text-align:right;font-size:11.5px;line-height:15px;color:#8a8a8a;font-weight:normal;letter-spacing:-0.1px">0.18876</div>
<div class="t" style="left:1087.4px;top:420.88px;width:63.799999999999955px;text-align:right;font-size:11.5px;line-height:15px;color:#8a8a8a;font-weight:normal;letter-spacing:-0.1px">240.00</div>
<div class="t" style="left:1153.2px;top:420.88px;width:64.20000000000005px;text-align:right;font-size:11.5px;line-height:15px;color:#8a8a8a;font-weight:normal;letter-spacing:-0.1px">5.66265</div>
<div class="t" style="left:1219.4px;top:420.88px;width:62.09999999999991px;text-align:right;font-size:11.5px;line-height:15px;color:#8a8a8a;font-weight:normal;letter-spacing:-0.1px">30.00</div>
<div class="abs" style="left:256px;top:438.94px;width:1027.5px;height:19.66px;background:#f8f8fa;border-top:1.5px solid #3a3a3a"></div>
<div class="abs" style="left:261px;top:441.94px;width:11.600000000000023px;height:14.66px;background:#e6e6e6;border:1px solid #999;border-bottom:1.5px solid #555"></div>
<div class="abs" style="left:266px;top:452.60px;width:1.6000000000000227px;height:1px;background:#444"></div>
<div class="abs" style="left:278.6px;top:440.44px;width:205.39999999999998px;height:17.66px;background:#fff"></div>
<div class="abs" style="left:486px;top:440.44px;width:44.60000000000002px;height:17.66px;background:#fff"></div>
<div class="abs" style="left:532.6px;top:440.44px;width:255.0px;height:17.66px;background:#fff"></div>
<div class="abs" style="left:789.6px;top:440.44px;width:154.39999999999998px;height:17.66px;background:#fff"></div>
<div class="abs" style="left:946px;top:440.44px;width:32.60000000000002px;height:17.66px;background:#efeff3"></div>
<div class="abs" style="left:980.6px;top:440.44px;width:49.80000000000007px;height:17.66px;background:#fff"></div>
<div class="abs" style="left:1032.4px;top:440.44px;width:54.0px;height:17.66px;background:#efeff3"></div>
<div class="abs" style="left:1088.4px;top:440.44px;width:63.799999999999955px;height:17.66px;background:#efeff3"></div>
<div class="abs" style="left:1154.2px;top:440.44px;width:64.20000000000005px;height:17.66px;background:#efeff3"></div>
<div class="abs" style="left:1220.4px;top:440.44px;width:62.09999999999991px;height:17.66px;background:#efeff3"></div>
<div class="t" style="left:298.6px;top:440.54px;width:164.39999999999998px;overflow:hidden;font-size:11.5px;line-height:15px;color:#222;letter-spacing:-0.1px">Група5 - Спец. машини</div>
<svg class="abs" style="left:452.00px;top:438.78px" width="20.00" height="20.00" viewBox="0 0 24 24"><path d="M16.59 8.59L12 13.17 7.41 8.59 6 10l6 6 6-6z" fill="#111"/></svg>
<div class="t" style="left:485px;top:440.54px;width:40.60000000000002px;text-align:right;font-size:11.5px;line-height:15px;color:#222;font-weight:normal;letter-spacing:-0.1px">90502</div>
<div class="t" style="left:555.6px;top:440.54px;width:211.0px;overflow:hidden;font-size:11.5px;line-height:15px;color:#222;letter-spacing:-0.1px">ОТК-кр.7</div>
<svg class="abs" style="left:753.60px;top:438.78px" width="20.00" height="20.00" viewBox="0 0 24 24"><path d="M16.59 8.59L12 13.17 7.41 8.59 6 10l6 6 6-6z" fill="#111"/></svg>
<div class="t" style="left:803.6px;top:440.54px;width:119.39999999999998px;overflow:hidden;font-size:11.5px;line-height:15px;color:#222;letter-spacing:-0.1px">мин</div>
<svg class="abs" style="left:918.00px;top:438.78px" width="20.00" height="20.00" viewBox="0 0 24 24"><path d="M16.59 8.59L12 13.17 7.41 8.59 6 10l6 6 6-6z" fill="#111"/></svg>
<div class="t" style="left:945px;top:440.54px;width:32.60000000000002px;text-align:right;font-size:11.5px;line-height:15px;color:#8a8a8a;font-weight:normal;letter-spacing:-0.1px">1.00</div>
<div class="t" style="left:979.6px;top:440.54px;width:49.80000000000007px;text-align:right;font-size:11.5px;line-height:15px;color:#222;font-weight:bold;letter-spacing:-0.1px">1.60</div>
<div class="t" style="left:1031.4px;top:440.54px;width:54.0px;text-align:right;font-size:11.5px;line-height:15px;color:#8a8a8a;font-weight:normal;letter-spacing:-0.1px">0.15100</div>
<div class="t" style="left:1087.4px;top:440.54px;width:63.799999999999955px;text-align:right;font-size:11.5px;line-height:15px;color:#8a8a8a;font-weight:normal;letter-spacing:-0.1px">300.00</div>
<div class="t" style="left:1153.2px;top:440.54px;width:64.20000000000005px;text-align:right;font-size:11.5px;line-height:15px;color:#8a8a8a;font-weight:normal;letter-spacing:-0.1px">5.66265</div>
<div class="t" style="left:1219.4px;top:440.54px;width:62.09999999999991px;text-align:right;font-size:11.5px;line-height:15px;color:#8a8a8a;font-weight:normal;letter-spacing:-0.1px">37.50</div>
<div class="abs" style="left:256px;top:458.60px;width:1027.5px;height:19.66px;background:#f8f8fa;border-top:1.5px solid #3a3a3a"></div>
<div class="abs" style="left:261px;top:461.60px;width:11.600000000000023px;height:14.66px;background:#e6e6e6;border:1px solid #999;border-bottom:1.5px solid #555"></div>
<div class="abs" style="left:266px;top:472.26px;width:1.6000000000000227px;height:1px;background:#444"></div>
<div class="abs" style="left:278.6px;top:460.10px;width:205.39999999999998px;height:17.66px;background:#fff"></div>
<div class="abs" style="left:486px;top:460.10px;width:44.60000000000002px;height:17.66px;background:#fff"></div>
<div class="abs" style="left:532.6px;top:460.10px;width:255.0px;height:17.66px;background:#fff"></div>
<div class="abs" style="left:789.6px;top:460.10px;width:154.39999999999998px;height:17.66px;background:#fff"></div>
<div class="abs" style="left:946px;top:460.10px;width:32.60000000000002px;height:17.66px;background:#efeff3"></div>
<div class="abs" style="left:980.6px;top:460.10px;width:49.80000000000007px;height:17.66px;background:#fff"></div>
<div class="abs" style="left:1032.4px;top:460.10px;width:54.0px;height:17.66px;background:#efeff3"></div>
<div class="abs" style="left:1088.4px;top:460.10px;width:63.799999999999955px;height:17.66px;background:#efeff3"></div>
<div class="abs" style="left:1154.2px;top:460.10px;width:64.20000000000005px;height:17.66px;background:#efeff3"></div>
<div class="abs" style="left:1220.4px;top:460.10px;width:62.09999999999991px;height:17.66px;background:#efeff3"></div>
<div class="t" style="left:298.6px;top:460.20px;width:164.39999999999998px;overflow:hidden;font-size:11.5px;line-height:15px;color:#222;letter-spacing:-0.1px">Група4 - Ръчна работа</div>
<svg class="abs" style="left:452.00px;top:458.44px" width="20.00" height="20.00" viewBox="0 0 24 24"><path d="M16.59 8.59L12 13.17 7.41 8.59 6 10l6 6 6-6z" fill="#111"/></svg>
<div class="t" style="left:485px;top:460.20px;width:40.60000000000002px;text-align:right;font-size:11.5px;line-height:15px;color:#222;font-weight:normal;letter-spacing:-0.1px">80422</div>
<div class="t" style="left:555.6px;top:460.20px;width:211.0px;overflow:hidden;font-size:11.5px;line-height:15px;color:#222;letter-spacing:-0.1px">Почиства конци на готови бройки</div>
<svg class="abs" style="left:753.60px;top:458.44px" width="20.00" height="20.00" viewBox="0 0 24 24"><path d="M16.59 8.59L12 13.17 7.41 8.59 6 10l6 6 6-6z" fill="#111"/></svg>
<div class="t" style="left:803.6px;top:460.20px;width:119.39999999999998px;overflow:hidden;font-size:11.5px;line-height:15px;color:#222;letter-spacing:-0.1px">пуловер и обрабатване</div>
<svg class="abs" style="left:918.00px;top:458.44px" width="20.00" height="20.00" viewBox="0 0 24 24"><path d="M16.59 8.59L12 13.17 7.41 8.59 6 10l6 6 6-6z" fill="#111"/></svg>
<div class="t" style="left:945px;top:460.20px;width:32.60000000000002px;text-align:right;font-size:11.5px;line-height:15px;color:#8a8a8a;font-weight:normal;letter-spacing:-0.1px">1.00</div>
<div class="t" style="left:979.6px;top:460.20px;width:49.80000000000007px;text-align:right;font-size:11.5px;line-height:15px;color:#222;font-weight:bold;letter-spacing:-0.1px">0.30</div>
<div class="t" style="left:1031.4px;top:460.20px;width:54.0px;text-align:right;font-size:11.5px;line-height:15px;color:#8a8a8a;font-weight:normal;letter-spacing:-0.1px">0.02831</div>
<div class="t" style="left:1087.4px;top:460.20px;width:63.799999999999955px;text-align:right;font-size:11.5px;line-height:15px;color:#8a8a8a;font-weight:normal;letter-spacing:-0.1px">1600.00</div>
<div class="t" style="left:1153.2px;top:460.20px;width:64.20000000000005px;text-align:right;font-size:11.5px;line-height:15px;color:#8a8a8a;font-weight:normal;letter-spacing:-0.1px">5.66265</div>
<div class="t" style="left:1219.4px;top:460.20px;width:62.09999999999991px;text-align:right;font-size:11.5px;line-height:15px;color:#8a8a8a;font-weight:normal;letter-spacing:-0.1px">200.00</div>
<div class="abs" style="left:256px;top:478.26px;width:1027.5px;height:19.66px;background:#f8f8fa;border-top:1.5px solid #3a3a3a"></div>
<div class="abs" style="left:261px;top:481.26px;width:11.600000000000023px;height:14.66px;background:#e6e6e6;border:1px solid #999;border-bottom:1.5px solid #555"></div>
<div class="abs" style="left:266px;top:491.92px;width:1.6000000000000227px;height:1px;background:#444"></div>
<div class="abs" style="left:278.6px;top:479.76px;width:205.39999999999998px;height:17.66px;background:#fff"></div>
<div class="abs" style="left:486px;top:479.76px;width:44.60000000000002px;height:17.66px;background:#fff"></div>
<div class="abs" style="left:532.6px;top:479.76px;width:255.0px;height:17.66px;background:#fff"></div>
<div class="abs" style="left:789.6px;top:479.76px;width:154.39999999999998px;height:17.66px;background:#fff"></div>
<div class="abs" style="left:946px;top:479.76px;width:32.60000000000002px;height:17.66px;background:#efeff3"></div>
<div class="abs" style="left:980.6px;top:479.76px;width:49.80000000000007px;height:17.66px;background:#fff"></div>
<div class="abs" style="left:1032.4px;top:479.76px;width:54.0px;height:17.66px;background:#efeff3"></div>
<div class="abs" style="left:1088.4px;top:479.76px;width:63.799999999999955px;height:17.66px;background:#efeff3"></div>
<div class="abs" style="left:1154.2px;top:479.76px;width:64.20000000000005px;height:17.66px;background:#efeff3"></div>
<div class="abs" style="left:1220.4px;top:479.76px;width:62.09999999999991px;height:17.66px;background:#efeff3"></div>
<div class="t" style="left:298.6px;top:479.86px;width:164.39999999999998px;overflow:hidden;font-size:11.5px;line-height:15px;color:#222;letter-spacing:-0.1px">Група3 - Гладене и пакетиране</div>
<svg class="abs" style="left:452.00px;top:478.10px" width="20.00" height="20.00" viewBox="0 0 24 24"><path d="M16.59 8.59L12 13.17 7.41 8.59 6 10l6 6 6-6z" fill="#111"/></svg>
<div class="t" style="left:485px;top:479.86px;width:40.60000000000002px;text-align:right;font-size:11.5px;line-height:15px;color:#222;font-weight:normal;letter-spacing:-0.1px">90302</div>
<div class="t" style="left:555.6px;top:479.86px;width:211.0px;overflow:hidden;font-size:11.5px;line-height:15px;color:#222;letter-spacing:-0.1px">Сгъване</div>
<svg class="abs" style="left:753.60px;top:478.10px" width="20.00" height="20.00" viewBox="0 0 24 24"><path d="M16.59 8.59L12 13.17 7.41 8.59 6 10l6 6 6-6z" fill="#111"/></svg>
<div class="t" style="left:803.6px;top:479.86px;width:119.39999999999998px;overflow:hidden;font-size:11.5px;line-height:15px;color:#222;letter-spacing:-0.1px">пуловер в плик-без х</div>
<svg class="abs" style="left:918.00px;top:478.10px" width="20.00" height="20.00" viewBox="0 0 24 24"><path d="M16.59 8.59L12 13.17 7.41 8.59 6 10l6 6 6-6z" fill="#111"/></svg>
<div class="t" style="left:945px;top:479.86px;width:32.60000000000002px;text-align:right;font-size:11.5px;line-height:15px;color:#8a8a8a;font-weight:normal;letter-spacing:-0.1px">1.00</div>
<div class="t" style="left:979.6px;top:479.86px;width:49.80000000000007px;text-align:right;font-size:11.5px;line-height:15px;color:#222;font-weight:bold;letter-spacing:-0.1px">0.60</div>
<div class="t" style="left:1031.4px;top:479.86px;width:54.0px;text-align:right;font-size:11.5px;line-height:15px;color:#8a8a8a;font-weight:normal;letter-spacing:-0.1px">0.05663</div>
<div class="t" style="left:1087.4px;top:479.86px;width:63.799999999999955px;text-align:right;font-size:11.5px;line-height:15px;color:#8a8a8a;font-weight:normal;letter-spacing:-0.1px">800.00</div>
<div class="t" style="left:1153.2px;top:479.86px;width:64.20000000000005px;text-align:right;font-size:11.5px;line-height:15px;color:#8a8a8a;font-weight:normal;letter-spacing:-0.1px">5.66265</div>
<div class="t" style="left:1219.4px;top:479.86px;width:62.09999999999991px;text-align:right;font-size:11.5px;line-height:15px;color:#8a8a8a;font-weight:normal;letter-spacing:-0.1px">100.00</div>
<div class="abs" style="left:256px;top:497.92px;width:1027.5px;height:19.66px;background:#f8f8fa;border-top:1.5px solid #3a3a3a"></div>
<div class="abs" style="left:261px;top:500.92px;width:11.600000000000023px;height:14.66px;background:#e6e6e6;border:1px solid #999;border-bottom:1.5px solid #555"></div>
<div class="abs" style="left:266px;top:511.58px;width:1.6000000000000227px;height:1px;background:#444"></div>
<div class="abs" style="left:278.6px;top:499.42px;width:205.39999999999998px;height:17.66px;background:#fff"></div>
<div class="abs" style="left:486px;top:499.42px;width:44.60000000000002px;height:17.66px;background:#fff"></div>
<div class="abs" style="left:532.6px;top:499.42px;width:255.0px;height:17.66px;background:#fff"></div>
<div class="abs" style="left:789.6px;top:499.42px;width:154.39999999999998px;height:17.66px;background:#fff"></div>
<div class="abs" style="left:946px;top:499.42px;width:32.60000000000002px;height:17.66px;background:#efeff3"></div>
<div class="abs" style="left:980.6px;top:499.42px;width:49.80000000000007px;height:17.66px;background:#fff"></div>
<div class="abs" style="left:1032.4px;top:499.42px;width:54.0px;height:17.66px;background:#efeff3"></div>
<div class="abs" style="left:1088.4px;top:499.42px;width:63.799999999999955px;height:17.66px;background:#efeff3"></div>
<div class="abs" style="left:1154.2px;top:499.42px;width:64.20000000000005px;height:17.66px;background:#efeff3"></div>
<div class="abs" style="left:1220.4px;top:499.42px;width:62.09999999999991px;height:17.66px;background:#efeff3"></div>
<div class="t" style="left:298.6px;top:499.52px;width:164.39999999999998px;overflow:hidden;font-size:11.5px;line-height:15px;color:#222;letter-spacing:-0.1px">Група3 - Гладене и пакетиране</div>
<svg class="abs" style="left:452.00px;top:497.76px" width="20.00" height="20.00" viewBox="0 0 24 24"><path d="M16.59 8.59L12 13.17 7.41 8.59 6 10l6 6 6-6z" fill="#111"/></svg>
<div class="t" style="left:485px;top:499.52px;width:40.60000000000002px;text-align:right;font-size:11.5px;line-height:15px;color:#222;font-weight:normal;letter-spacing:-0.1px">90312</div>
<div class="t" style="left:555.6px;top:499.52px;width:211.0px;overflow:hidden;font-size:11.5px;line-height:15px;color:#222;letter-spacing:-0.1px">Етикиране</div>
<svg class="abs" style="left:753.60px;top:497.76px" width="20.00" height="20.00" viewBox="0 0 24 24"><path d="M16.59 8.59L12 13.17 7.41 8.59 6 10l6 6 6-6z" fill="#111"/></svg>
<div class="t" style="left:803.6px;top:499.52px;width:119.39999999999998px;overflow:hidden;font-size:11.5px;line-height:15px;color:#222;letter-spacing:-0.1px">картонен етикет</div>
<svg class="abs" style="left:918.00px;top:497.76px" width="20.00" height="20.00" viewBox="0 0 24 24"><path d="M16.59 8.59L12 13.17 7.41 8.59 6 10l6 6 6-6z" fill="#111"/></svg>
<div class="t" style="left:945px;top:499.52px;width:32.60000000000002px;text-align:right;font-size:11.5px;line-height:15px;color:#8a8a8a;font-weight:normal;letter-spacing:-0.1px">1.00</div>
<div class="t" style="left:979.6px;top:499.52px;width:49.80000000000007px;text-align:right;font-size:11.5px;line-height:15px;color:#222;font-weight:bold;letter-spacing:-0.1px">0.35</div>
<div class="t" style="left:1031.4px;top:499.52px;width:54.0px;text-align:right;font-size:11.5px;line-height:15px;color:#8a8a8a;font-weight:normal;letter-spacing:-0.1px">0.03303</div>
<div class="t" style="left:1087.4px;top:499.52px;width:63.799999999999955px;text-align:right;font-size:11.5px;line-height:15px;color:#8a8a8a;font-weight:normal;letter-spacing:-0.1px">1371.43</div>
<div class="t" style="left:1153.2px;top:499.52px;width:64.20000000000005px;text-align:right;font-size:11.5px;line-height:15px;color:#8a8a8a;font-weight:normal;letter-spacing:-0.1px">5.66265</div>
<div class="t" style="left:1219.4px;top:499.52px;width:62.09999999999991px;text-align:right;font-size:11.5px;line-height:15px;color:#8a8a8a;font-weight:normal;letter-spacing:-0.1px">171.43</div>
<div class="abs" style="left:256px;top:517.58px;width:1027.5px;height:19.66px;background:#f8f8fa;border-top:1.5px solid #3a3a3a"></div>
<div class="abs" style="left:261px;top:520.58px;width:11.600000000000023px;height:14.66px;background:#e6e6e6;border:1px solid #999;border-bottom:1.5px solid #555"></div>
<div class="abs" style="left:266px;top:531.24px;width:1.6000000000000227px;height:1px;background:#444"></div>
<div class="abs" style="left:278.6px;top:519.08px;width:205.39999999999998px;height:17.66px;background:#fff"></div>
<div class="abs" style="left:486px;top:519.08px;width:44.60000000000002px;height:17.66px;background:#fff"></div>
<div class="abs" style="left:532.6px;top:519.08px;width:255.0px;height:17.66px;background:#fff"></div>
<div class="abs" style="left:789.6px;top:519.08px;width:154.39999999999998px;height:17.66px;background:#fff"></div>
<div class="abs" style="left:946px;top:519.08px;width:32.60000000000002px;height:17.66px;background:#efeff3"></div>
<div class="abs" style="left:980.6px;top:519.08px;width:49.80000000000007px;height:17.66px;background:#fff"></div>
<div class="abs" style="left:1032.4px;top:519.08px;width:54.0px;height:17.66px;background:#efeff3"></div>
<div class="abs" style="left:1088.4px;top:519.08px;width:63.799999999999955px;height:17.66px;background:#efeff3"></div>
<div class="abs" style="left:1154.2px;top:519.08px;width:64.20000000000005px;height:17.66px;background:#efeff3"></div>
<div class="abs" style="left:1220.4px;top:519.08px;width:62.09999999999991px;height:17.66px;background:#efeff3"></div>
<div class="t" style="left:298.6px;top:519.18px;width:164.39999999999998px;overflow:hidden;font-size:11.5px;line-height:15px;color:#222;letter-spacing:-0.1px">Група3 - Гладене и пакетиране</div>
<svg class="abs" style="left:452.00px;top:517.42px" width="20.00" height="20.00" viewBox="0 0 24 24"><path d="M16.59 8.59L12 13.17 7.41 8.59 6 10l6 6 6-6z" fill="#111"/></svg>
<div class="t" style="left:485px;top:519.18px;width:40.60000000000002px;text-align:right;font-size:11.5px;line-height:15px;color:#222;font-weight:normal;letter-spacing:-0.1px">90313</div>
<div class="t" style="left:555.6px;top:519.18px;width:211.0px;overflow:hidden;font-size:11.5px;line-height:15px;color:#222;letter-spacing:-0.1px">Опаковка</div>
<svg class="abs" style="left:753.60px;top:517.42px" width="20.00" height="20.00" viewBox="0 0 24 24"><path d="M16.59 8.59L12 13.17 7.41 8.59 6 10l6 6 6-6z" fill="#111"/></svg>
<div class="t" style="left:803.6px;top:519.18px;width:119.39999999999998px;overflow:hidden;font-size:11.5px;line-height:15px;color:#222;letter-spacing:-0.1px">униформа</div>
<svg class="abs" style="left:918.00px;top:517.42px" width="20.00" height="20.00" viewBox="0 0 24 24"><path d="M16.59 8.59L12 13.17 7.41 8.59 6 10l6 6 6-6z" fill="#111"/></svg>
<div class="t" style="left:945px;top:519.18px;width:32.60000000000002px;text-align:right;font-size:11.5px;line-height:15px;color:#8a8a8a;font-weight:normal;letter-spacing:-0.1px">1.00</div>
<div class="t" style="left:979.6px;top:519.18px;width:49.80000000000007px;text-align:right;font-size:11.5px;line-height:15px;color:#222;font-weight:bold;letter-spacing:-0.1px">0.35</div>
<div class="t" style="left:1031.4px;top:519.18px;width:54.0px;text-align:right;font-size:11.5px;line-height:15px;color:#8a8a8a;font-weight:normal;letter-spacing:-0.1px">0.03303</div>
<div class="t" style="left:1087.4px;top:519.18px;width:63.799999999999955px;text-align:right;font-size:11.5px;line-height:15px;color:#8a8a8a;font-weight:normal;letter-spacing:-0.1px">1371.43</div>
<div class="t" style="left:1153.2px;top:519.18px;width:64.20000000000005px;text-align:right;font-size:11.5px;line-height:15px;color:#8a8a8a;font-weight:normal;letter-spacing:-0.1px">5.66265</div>
<div class="t" style="left:1219.4px;top:519.18px;width:62.09999999999991px;text-align:right;font-size:11.5px;line-height:15px;color:#8a8a8a;font-weight:normal;letter-spacing:-0.1px">171.43</div>
<div class="abs" style="left:256px;top:537.24px;width:1027.5px;height:19.66px;background:#f8f8fa;border-top:1.5px solid #3a3a3a"></div>
<div class="abs" style="left:261px;top:540.24px;width:11.600000000000023px;height:14.66px;background:#e6e6e6;border:1px solid #999;border-bottom:1.5px solid #555"></div>
<div class="abs" style="left:266px;top:550.90px;width:1.6000000000000227px;height:1px;background:#444"></div>
<div class="abs" style="left:278.6px;top:538.74px;width:205.39999999999998px;height:17.66px;background:#fff"></div>
<div class="abs" style="left:486px;top:538.74px;width:44.60000000000002px;height:17.66px;background:#fff"></div>
<div class="abs" style="left:532.6px;top:538.74px;width:255.0px;height:17.66px;background:#fff"></div>
<div class="abs" style="left:789.6px;top:538.74px;width:154.39999999999998px;height:17.66px;background:#fff"></div>
<div class="abs" style="left:946px;top:538.74px;width:32.60000000000002px;height:17.66px;background:#efeff3"></div>
<div class="abs" style="left:980.6px;top:538.74px;width:49.80000000000007px;height:17.66px;background:#fff"></div>
<div class="abs" style="left:1032.4px;top:538.74px;width:54.0px;height:17.66px;background:#efeff3"></div>
<div class="abs" style="left:1088.4px;top:538.74px;width:63.799999999999955px;height:17.66px;background:#efeff3"></div>
<div class="abs" style="left:1154.2px;top:538.74px;width:64.20000000000005px;height:17.66px;background:#efeff3"></div>
<div class="abs" style="left:1220.4px;top:538.74px;width:62.09999999999991px;height:17.66px;background:#efeff3"></div>
<div class="t" style="left:298.6px;top:538.84px;width:164.39999999999998px;overflow:hidden;font-size:11.5px;line-height:15px;color:#222;letter-spacing:-0.1px">Група1</div>
<svg class="abs" style="left:452.00px;top:537.08px" width="20.00" height="20.00" viewBox="0 0 24 24"><path d="M16.59 8.59L12 13.17 7.41 8.59 6 10l6 6 6-6z" fill="#111"/></svg>
<div class="t" style="left:485px;top:538.84px;width:40.60000000000002px;text-align:right;font-size:11.5px;line-height:15px;color:#222;font-weight:normal;letter-spacing:-0.1px">80123</div>
<div class="t" style="left:555.6px;top:538.84px;width:211.0px;overflow:hidden;font-size:11.5px;line-height:15px;color:#222;letter-spacing:-0.1px">Белязване</div>
<svg class="abs" style="left:753.60px;top:537.08px" width="20.00" height="20.00" viewBox="0 0 24 24"><path d="M16.59 8.59L12 13.17 7.41 8.59 6 10l6 6 6-6z" fill="#111"/></svg>
<div class="t" style="left:803.6px;top:538.84px;width:119.39999999999998px;overflow:hidden;font-size:11.5px;line-height:15px;color:#222;letter-spacing:-0.1px">място бродерия</div>
<svg class="abs" style="left:918.00px;top:537.08px" width="20.00" height="20.00" viewBox="0 0 24 24"><path d="M16.59 8.59L12 13.17 7.41 8.59 6 10l6 6 6-6z" fill="#111"/></svg>
<div class="t" style="left:945px;top:538.84px;width:32.60000000000002px;text-align:right;font-size:11.5px;line-height:15px;color:#8a8a8a;font-weight:normal;letter-spacing:-0.1px">1.00</div>
<div class="t" style="left:979.6px;top:538.84px;width:49.80000000000007px;text-align:right;font-size:11.5px;line-height:15px;color:#222;font-weight:bold;letter-spacing:-0.1px">0.40</div>
<div class="t" style="left:1031.4px;top:538.84px;width:54.0px;text-align:right;font-size:11.5px;line-height:15px;color:#8a8a8a;font-weight:normal;letter-spacing:-0.1px">0.03775</div>
<div class="t" style="left:1087.4px;top:538.84px;width:63.799999999999955px;text-align:right;font-size:11.5px;line-height:15px;color:#8a8a8a;font-weight:normal;letter-spacing:-0.1px">1200.00</div>
<div class="t" style="left:1153.2px;top:538.84px;width:64.20000000000005px;text-align:right;font-size:11.5px;line-height:15px;color:#8a8a8a;font-weight:normal;letter-spacing:-0.1px">5.66265</div>
<div class="t" style="left:1219.4px;top:538.84px;width:62.09999999999991px;text-align:right;font-size:11.5px;line-height:15px;color:#8a8a8a;font-weight:normal;letter-spacing:-0.1px">150.00</div>
<div class="abs" style="left:256px;top:556.90px;width:1027.5px;height:19.66px;background:#f8f8fa;border-top:1.5px solid #3a3a3a"></div>
<div class="abs" style="left:261px;top:559.90px;width:11.600000000000023px;height:14.66px;background:#e6e6e6;border:1px solid #999;border-bottom:1.5px solid #555"></div>
<div class="abs" style="left:266px;top:570.56px;width:1.6000000000000227px;height:1px;background:#444"></div>
<div class="abs" style="left:278.6px;top:558.40px;width:205.39999999999998px;height:17.66px;background:#fff"></div>
<div class="abs" style="left:486px;top:558.40px;width:44.60000000000002px;height:17.66px;background:#fff"></div>
<div class="abs" style="left:532.6px;top:558.40px;width:255.0px;height:17.66px;background:#fff"></div>
<div class="abs" style="left:789.6px;top:558.40px;width:154.39999999999998px;height:17.66px;background:#fff"></div>
<div class="abs" style="left:946px;top:558.40px;width:32.60000000000002px;height:17.66px;background:#efeff3"></div>
<div class="abs" style="left:980.6px;top:558.40px;width:49.80000000000007px;height:17.66px;background:#fff"></div>
<div class="abs" style="left:1032.4px;top:558.40px;width:54.0px;height:17.66px;background:#efeff3"></div>
<div class="abs" style="left:1088.4px;top:558.40px;width:63.799999999999955px;height:17.66px;background:#efeff3"></div>
<div class="abs" style="left:1154.2px;top:558.40px;width:64.20000000000005px;height:17.66px;background:#efeff3"></div>
<div class="abs" style="left:1220.4px;top:558.40px;width:62.09999999999991px;height:17.66px;background:#efeff3"></div>
<div class="t" style="left:298.6px;top:558.50px;width:164.39999999999998px;overflow:hidden;font-size:11.5px;line-height:15px;color:#222;letter-spacing:-0.1px">Група10 - Вратна изнака</div>
<svg class="abs" style="left:452.00px;top:556.74px" width="20.00" height="20.00" viewBox="0 0 24 24"><path d="M16.59 8.59L12 13.17 7.41 8.59 6 10l6 6 6-6z" fill="#111"/></svg>
<div class="t" style="left:485px;top:558.50px;width:40.60000000000002px;text-align:right;font-size:11.5px;line-height:15px;color:#222;font-weight:normal;letter-spacing:-0.1px">41014</div>
<div class="t" style="left:555.6px;top:558.50px;width:211.0px;overflow:hidden;font-size:11.5px;line-height:15px;color:#222;letter-spacing:-0.1px">Зашива жак. ембл.</div>
<svg class="abs" style="left:753.60px;top:556.74px" width="20.00" height="20.00" viewBox="0 0 24 24"><path d="M16.59 8.59L12 13.17 7.41 8.59 6 10l6 6 6-6z" fill="#111"/></svg>
<div class="t" style="left:803.6px;top:558.50px;width:119.39999999999998px;overflow:hidden;font-size:11.5px;line-height:15px;color:#222;letter-spacing:-0.1px">жак емблема гръб</div>
<svg class="abs" style="left:918.00px;top:556.74px" width="20.00" height="20.00" viewBox="0 0 24 24"><path d="M16.59 8.59L12 13.17 7.41 8.59 6 10l6 6 6-6z" fill="#111"/></svg>
<div class="t" style="left:945px;top:558.50px;width:32.60000000000002px;text-align:right;font-size:11.5px;line-height:15px;color:#8a8a8a;font-weight:normal;letter-spacing:-0.1px">0.60</div>
<div class="t" style="left:979.6px;top:558.50px;width:49.80000000000007px;text-align:right;font-size:11.5px;line-height:15px;color:#222;font-weight:bold;letter-spacing:-0.1px">1.33</div>
<div class="t" style="left:1031.4px;top:558.50px;width:54.0px;text-align:right;font-size:11.5px;line-height:15px;color:#8a8a8a;font-weight:normal;letter-spacing:-0.1px">0.20920</div>
<div class="t" style="left:1087.4px;top:558.50px;width:63.799999999999955px;text-align:right;font-size:11.5px;line-height:15px;color:#8a8a8a;font-weight:normal;letter-spacing:-0.1px">216.54</div>
<div class="t" style="left:1153.2px;top:558.50px;width:64.20000000000005px;text-align:right;font-size:11.5px;line-height:15px;color:#8a8a8a;font-weight:normal;letter-spacing:-0.1px">5.66265</div>
<div class="t" style="left:1219.4px;top:558.50px;width:62.09999999999991px;text-align:right;font-size:11.5px;line-height:15px;color:#8a8a8a;font-weight:normal;letter-spacing:-0.1px">27.07</div>
<div class="abs" style="left:256px;top:576.56px;width:1027.5px;height:19.66px;background:#f8f8fa;border-top:1.5px solid #3a3a3a"></div>
<div class="abs" style="left:261px;top:579.56px;width:11.600000000000023px;height:14.66px;background:#e6e6e6;border:1px solid #999;border-bottom:1.5px solid #555"></div>
<div class="abs" style="left:266px;top:590.22px;width:1.6000000000000227px;height:1px;background:#444"></div>
<div class="abs" style="left:278.6px;top:578.06px;width:205.39999999999998px;height:17.66px;background:#fff"></div>
<div class="abs" style="left:486px;top:578.06px;width:44.60000000000002px;height:17.66px;background:#fff"></div>
<div class="abs" style="left:532.6px;top:578.06px;width:255.0px;height:17.66px;background:#fff"></div>
<div class="abs" style="left:789.6px;top:578.06px;width:154.39999999999998px;height:17.66px;background:#fff"></div>
<div class="abs" style="left:946px;top:578.06px;width:32.60000000000002px;height:17.66px;background:#efeff3"></div>
<div class="abs" style="left:980.6px;top:578.06px;width:49.80000000000007px;height:17.66px;background:#fff"></div>
<div class="abs" style="left:1032.4px;top:578.06px;width:54.0px;height:17.66px;background:#efeff3"></div>
<div class="abs" style="left:1088.4px;top:578.06px;width:63.799999999999955px;height:17.66px;background:#efeff3"></div>
<div class="abs" style="left:1154.2px;top:578.06px;width:64.20000000000005px;height:17.66px;background:#efeff3"></div>
<div class="abs" style="left:1220.4px;top:578.06px;width:62.09999999999991px;height:17.66px;background:#efeff3"></div>
<div class="t" style="left:298.6px;top:578.16px;width:164.39999999999998px;overflow:hidden;font-size:11.5px;line-height:15px;color:#222;letter-spacing:-0.1px">Група1</div>
<svg class="abs" style="left:452.00px;top:576.40px" width="20.00" height="20.00" viewBox="0 0 24 24"><path d="M16.59 8.59L12 13.17 7.41 8.59 6 10l6 6 6-6z" fill="#111"/></svg>
<div class="t" style="left:485px;top:578.16px;width:40.60000000000002px;text-align:right;font-size:11.5px;line-height:15px;color:#222;font-weight:normal;letter-spacing:-0.1px">80151</div>
<div class="t" style="left:555.6px;top:578.16px;width:211.0px;overflow:hidden;font-size:11.5px;line-height:15px;color:#222;letter-spacing:-0.1px">Рр.разкачване на детайли</div>
<svg class="abs" style="left:753.60px;top:576.40px" width="20.00" height="20.00" viewBox="0 0 24 24"><path d="M16.59 8.59L12 13.17 7.41 8.59 6 10l6 6 6-6z" fill="#111"/></svg>
<div class="t" style="left:803.6px;top:578.16px;width:119.39999999999998px;overflow:hidden;font-size:11.5px;line-height:15px;color:#222;letter-spacing:-0.1px">гръб,предница,ръкав</div>
<svg class="abs" style="left:918.00px;top:576.40px" width="20.00" height="20.00" viewBox="0 0 24 24"><path d="M16.59 8.59L12 13.17 7.41 8.59 6 10l6 6 6-6z" fill="#111"/></svg>
<div class="t" style="left:945px;top:578.16px;width:32.60000000000002px;text-align:right;font-size:11.5px;line-height:15px;color:#8a8a8a;font-weight:normal;letter-spacing:-0.1px">1.00</div>
<div class="t" style="left:979.6px;top:578.16px;width:49.80000000000007px;text-align:right;font-size:11.5px;line-height:15px;color:#222;font-weight:bold;letter-spacing:-0.1px">1.00</div>
<div class="t" style="left:1031.4px;top:578.16px;width:54.0px;text-align:right;font-size:11.5px;line-height:15px;color:#8a8a8a;font-weight:normal;letter-spacing:-0.1px">0.09438</div>
<div class="t" style="left:1087.4px;top:578.16px;width:63.799999999999955px;text-align:right;font-size:11.5px;line-height:15px;color:#8a8a8a;font-weight:normal;letter-spacing:-0.1px">480.00</div>
<div class="t" style="left:1153.2px;top:578.16px;width:64.20000000000005px;text-align:right;font-size:11.5px;line-height:15px;color:#8a8a8a;font-weight:normal;letter-spacing:-0.1px">5.66265</div>
<div class="t" style="left:1219.4px;top:578.16px;width:62.09999999999991px;text-align:right;font-size:11.5px;line-height:15px;color:#8a8a8a;font-weight:normal;letter-spacing:-0.1px">60.00</div>
<div class="abs" style="left:256px;top:596.22px;width:1027.5px;height:19.66px;background:#f6d3a6;border-top:1.5px solid #c08850"></div>
<div class="abs" style="left:261px;top:599.22px;width:11.600000000000023px;height:14.66px;background:#e6e6e6;border:1px solid #999"></div>
<div class="t" style="left:256px;top:598.72px;width:21.600000000000023px;text-align:center;font-size:10px;line-height:15px;color:#333">&gt;</div>
<div class="abs" style="left:283.6px;top:598.72px;width:184.39999999999998px;height:15.66px;background:#fff"></div>
<svg class="abs" style="left:452.00px;top:596.06px" width="20.00" height="20.00" viewBox="0 0 24 24"><path d="M16.59 8.59L12 13.17 7.41 8.59 6 10l6 6 6-6z" fill="#111"/></svg>
<div class="abs" style="left:491px;top:598.72px;width:34.60000000000002px;height:15.66px;background:#fff"></div>
<div class="t" style="left:485px;top:598.72px;width:43.60000000000002px;text-align:right;font-size:11px;line-height:15px;color:#222;letter-spacing:-0.2px">0</div>
<div class="abs" style="left:537.6px;top:598.72px;width:232.0px;height:15.66px;background:#fff"></div>
<svg class="abs" style="left:753.60px;top:596.06px" width="20.00" height="20.00" viewBox="0 0 24 24"><path d="M16.59 8.59L12 13.17 7.41 8.59 6 10l6 6 6-6z" fill="#111"/></svg>
<div class="abs" style="left:794.6px;top:598.72px;width:139.39999999999998px;height:15.66px;background:#fff"></div>
<svg class="abs" style="left:918.00px;top:596.06px" width="20.00" height="20.00" viewBox="0 0 24 24"><path d="M16.59 8.59L12 13.17 7.41 8.59 6 10l6 6 6-6z" fill="#111"/></svg>
<div class="t" style="left:945px;top:598.72px;width:31.600000000000023px;text-align:right;font-size:11px;line-height:15px;color:#8a8a8a;letter-spacing:-0.2px">0.00</div>
<div class="abs" style="left:985.6px;top:598.72px;width:39.80000000000007px;height:15.66px;background:#fff"></div>
<div class="t" style="left:979.6px;top:598.72px;width:48.80000000000007px;text-align:right;font-size:11px;line-height:15px;color:#222;letter-spacing:-0.2px">0.00</div>
<div class="t" style="left:1031.4px;top:598.72px;width:53.0px;text-align:right;font-size:11px;line-height:15px;color:#8a8a8a;letter-spacing:-0.2px">0.00000</div>
<div class="t" style="left:1087.4px;top:598.72px;width:62.799999999999955px;text-align:right;font-size:11px;line-height:15px;color:#8a8a8a;letter-spacing:-0.2px">0.00</div>
<div class="t" style="left:1153.2px;top:598.72px;width:63.200000000000045px;text-align:right;font-size:11px;line-height:15px;color:#8a8a8a;letter-spacing:-0.2px">0.00000</div>
<div class="t" style="left:1219.4px;top:598.72px;width:61.09999999999991px;text-align:right;font-size:11px;line-height:15px;color:#8a8a8a;letter-spacing:-0.2px">0.00</div>
<div class="abs" style="left:256px;top:615.88px;width:1040px;height:30.6px;background:#dcdcdc;border-top:1.5px solid #3a3a3a;border-bottom:1.5px solid #3a3a3a"></div>
<div class="t" style="left:788.6px;top:620.88px;width:146.39999999999998px;text-align:right;font-size:12px;line-height:16px;font-weight:bold;color:#222;letter-spacing:-0.2px">Общо за шиене:</div>
<div class="t" style="left:979.6px;top:620.88px;width:47.80000000000007px;text-align:right;font-size:12px;line-height:16px;font-weight:bold;color:#222;letter-spacing:-0.2px">38.70</div>
<div class="t" style="left:1031.4px;top:620.88px;width:52.0px;text-align:right;font-size:12px;line-height:16px;font-weight:bold;color:#222;letter-spacing:-0.2px">8.56478</div>
<div class="abs" style="left:276.85px;top:211px;width:1.5px;height:435.48px;background:#3a3a3a"></div>
<div class="abs" style="left:484.25px;top:211px;width:1.5px;height:435.48px;background:#3a3a3a"></div>
<div class="abs" style="left:530.85px;top:211px;width:1.5px;height:435.48px;background:#3a3a3a"></div>
<div class="abs" style="left:787.85px;top:211px;width:1.5px;height:435.48px;background:#3a3a3a"></div>
<div class="abs" style="left:944.25px;top:211px;width:1.5px;height:435.48px;background:#3a3a3a"></div>
<div class="abs" style="left:978.85px;top:211px;width:1.5px;height:435.48px;background:#3a3a3a"></div>
<div class="abs" style="left:1030.65px;top:211px;width:1.5px;height:435.48px;background:#3a3a3a"></div>
<div class="abs" style="left:1086.65px;top:211px;width:1.5px;height:435.48px;background:#3a3a3a"></div>
<div class="abs" style="left:1152.45px;top:211px;width:1.5px;height:435.48px;background:#3a3a3a"></div>
<div class="abs" style="left:1218.65px;top:211px;width:1.5px;height:435.48px;background:#3a3a3a"></div>
<div class="abs" style="left:1282.75px;top:211px;width:1.5px;height:435.48px;background:#3a3a3a"></div>
<div class="t" style="left:256px;top:223.2px;width:21.600000000000023px;text-align:center;font-size:12px;line-height:19px;font-weight:bold;color:#222;letter-spacing:-0.3px"></div>
<div class="t" style="left:277.6px;top:223.2px;width:207.39999999999998px;text-align:center;font-size:12px;line-height:19px;font-weight:bold;color:#222;letter-spacing:-0.3px">Група</div>
<div class="t" style="left:485px;top:223.2px;width:46.60000000000002px;text-align:center;font-size:12px;line-height:19px;font-weight:bold;color:#222;letter-spacing:-0.3px">Код</div>
<div class="t" style="left:531.6px;top:223.2px;width:257.0px;text-align:center;font-size:12px;line-height:19px;font-weight:bold;color:#222;letter-spacing:-0.3px">Операция</div>
<div class="t" style="left:788.6px;top:223.2px;width:156.39999999999998px;text-align:center;font-size:12px;line-height:19px;font-weight:bold;color:#222;letter-spacing:-0.3px">Вариант</div>
<div class="t" style="left:945px;top:223.2px;width:34.60000000000002px;text-align:center;font-size:12px;line-height:19px;font-weight:bold;color:#222;letter-spacing:-0.3px">К</div>
<div class="t" style="left:979.6px;top:213.7px;width:51.80000000000007px;text-align:center;font-size:12px;line-height:19px;font-weight:bold;color:#222;letter-spacing:-0.3px">НВ<br>мин.</div>
<div class="t" style="left:1031.4px;top:223.2px;width:56.0px;text-align:center;font-size:12px;line-height:19px;font-weight:bold;color:#222;letter-spacing:-0.3px">Разц.</div>
<div class="t" style="left:1087.4px;top:223.2px;width:65.79999999999995px;text-align:center;font-size:12px;line-height:19px;font-weight:bold;color:#222;letter-spacing:-0.3px">Норма</div>
<div class="t" style="left:1153.2px;top:213.7px;width:66.20000000000005px;text-align:center;font-size:12px;line-height:19px;font-weight:bold;color:#222;letter-spacing:-0.3px">Часова<br>ставка</div>
<div class="t" style="left:1219.4px;top:223.2px;width:64.09999999999991px;text-align:center;font-size:12px;line-height:19px;font-weight:bold;color:#222;letter-spacing:-0.3px">ЧН</div>
<div class="abs" style="left:1284.25px;top:211px;width:11.75px;height:435.48px;background:#fafafa"></div>
<svg class="abs" style="left:1286.5px;top:215px" width="9" height="7" viewBox="0 0 9 7"><path d="M0 6.5 L4.5 1 L9 6.5Z" fill="#999"/></svg>
<svg class="abs" style="left:1286.5px;top:638px" width="9" height="7" viewBox="0 0 9 7"><path d="M0 0.5 L4.5 6 L9 0.5Z" fill="#999"/></svg>
<div class="abs" style="left:1287.0px;top:383px;width:8px;height:243px;background:#8e8e8e;border-radius:4px"></div></div><div class="scr" style="left:0;top:1716px;width:1332px;height:568px;transform:scale(0.5)"><div class="sb" style="height:457px"></div>
<div class="sbb" style="top:457px;height:111px"></div>
<div class="logo"></div>
<svg class="abs" style="left:0px;top:0px" width="200" height="78" viewBox="0 0 200 78">
<path d="M33 8.6 C30.2 8.6 28.6 11 28.6 14.5 C28.6 20 29.6 27 30.4 35 L32.4 71.5 L33.6 71.5 L35.6 35 C36.4 27 37.4 20 37.4 14.5 C37.4 11 35.8 8.6 33 8.6Z" fill="#2b85d8"/>
<ellipse cx="33.2" cy="19.4" rx="1.4" ry="5.6" fill="#d1d5db"/>
<path d="M46 21 C42 17.5 36 16.8 31 18.5 C24 21 21.5 27 24 31 C26.5 35 33 36.5 38 40 C43.5 44 43.5 52 37 56.5 C31 60.5 24 58.5 19.8 54.5" fill="none" stroke="#2b85d8" stroke-width="2.5" stroke-linecap="round"/>
<text x="46.6" y="54.8" font-family="Liberation Sans" font-weight="bold" font-size="34" fill="#2b85d8" letter-spacing="0.35">titch</text>
<text x="121.8" y="54.8" font-family="Liberation Sans" font-size="34" fill="#333" stroke="#333" stroke-width="0.9" letter-spacing="0.8">One</text>
<text x="48.5" y="67" font-family="Liberation Sans" font-weight="bold" font-size="8.4" fill="#505050">Precision, Powered by Technology</text>
</svg>
<svg class="abs" style="left:16.5px;top:95.5px" width="10" height="12" viewBox="0 0 10 12"><path d="M2.3 1 L7.3 6 L2.3 11" fill="none" stroke="#333" stroke-width="1.9"/></svg><svg class="abs" style="left:30px;top:92px" width="18" height="17" viewBox="0 0 18 17">
<rect x="0" y="0" width="10" height="12" fill="#b4b4b4"/><rect x="1" y="0" width="9" height="4" fill="#d7c39a"/><rect x="0" y="0" width="1.2" height="11" fill="#888"/>
<rect x="8.5" y="2" width="4.5" height="10.5" fill="#c4987a"/><circle cx="10.5" cy="7" r="0.9" fill="#f11"/><circle cx="11" cy="9" r="0.9" fill="#f11"/>
<rect x="10" y="4.5" width="7.6" height="12" fill="#4a8de0"/><rect x="8.5" y="7" width="4" height="5" fill="#c4987a"/></svg><div class="mi" style="left:50px;top:93px">Основни данни</div>
<svg class="abs" style="left:16px;top:139.5px" width="12" height="8" viewBox="0 0 12 8"><path d="M1 1.2 L6 6.2 L11 1.2" fill="none" stroke="#333" stroke-width="1.9"/></svg><svg class="abs" style="left:30px;top:134px" width="18" height="17" viewBox="0 0 18 17">
<rect x="0.5" y="2" width="12" height="3" rx="1.3" fill="#c79a78"/><rect x="1.5" y="5" width="10" height="8" fill="#4b92e0"/><rect x="2" y="5" width="2" height="8" fill="#4450b8"/>
<rect x="0.5" y="13" width="12" height="3" rx="1.3" fill="#c79a78"/><path d="M6 12 C10 9 13 5 15 1" stroke="#7ab0ee" stroke-width="0.9" fill="none"/></svg><div class="mi" style="left:50px;top:135px">Технологии</div>
<svg class="abs" style="left:42px;top:176.0px" width="16" height="16" viewBox="0 0 16 16">
<path d="M8 1.5 V13 M3 4.5 H13 M2 10 L3 4.5 L4.5 10 M11.5 10 L13 4.5 L14 10" stroke="#aaa" stroke-width="0.7" fill="none"/>
<circle cx="8" cy="1.6" r="1.2" fill="#f5c66a"/><circle cx="3" cy="4.5" r="1" fill="#f5c66a"/><circle cx="13" cy="4.5" r="1" fill="#f5c66a"/>
<path d="M0.5 10 H7 L5.5 12 H2Z M9 10 H15.5 L14 12 H10.5Z" fill="#f7cf85"/><rect x="4" y="13.5" width="8" height="2" rx="1" fill="#f7cf85"/></svg><div class="si" style="left:61px;top:176.5px;font-weight:bold;color:#333;font-size:11.5px;letter-spacing:-0.55px;">Разходни норми</div>
<svg class="abs" style="left:43px;top:218.2px" width="13" height="16" viewBox="0 0 13 16">
<rect x="4" y="0" width="5" height="1.8" rx="0.9" fill="#555"/><rect x="5.7" y="1.5" width="1.6" height="2" fill="#777"/>
<circle cx="6.5" cy="9.5" r="5.4" fill="#f4f4f4" stroke="#6a6a6a" stroke-width="1.7"/>
<path d="M6.3 9.8 L9.2 6.6" stroke="#e08a50" stroke-width="1.3"/></svg><div class="si" style="left:61px;top:218.2px;">План труд Плетене</div>
<svg class="abs" style="left:43px;top:259.9px" width="13" height="16" viewBox="0 0 13 16">
<rect x="4" y="0" width="5" height="1.8" rx="0.9" fill="#555"/><rect x="5.7" y="1.5" width="1.6" height="2" fill="#777"/>
<circle cx="6.5" cy="9.5" r="5.4" fill="#f4f4f4" stroke="#6a6a6a" stroke-width="1.7"/>
<path d="M6.3 9.8 L9.2 6.6" stroke="#e08a50" stroke-width="1.3"/></svg><div class="si" style="left:61px;top:259.9px;">План труд Шиене</div>
<svg class="abs" style="left:43px;top:301.6px" width="13" height="16" viewBox="0 0 13 16">
<rect x="4" y="0" width="5" height="1.8" rx="0.9" fill="#555"/><rect x="5.7" y="1.5" width="1.6" height="2" fill="#777"/>
<circle cx="6.5" cy="9.5" r="5.4" fill="#f4f4f4" stroke="#6a6a6a" stroke-width="1.7"/>
<path d="M6.3 9.8 L9.2 6.6" stroke="#e08a50" stroke-width="1.3"/></svg><div class="si" style="left:61px;top:301.6px;">Труд Плетене</div>
<svg class="abs" style="left:43px;top:343.3px" width="13" height="16" viewBox="0 0 13 16">
<rect x="4" y="0" width="5" height="1.8" rx="0.9" fill="#555"/><rect x="5.7" y="1.5" width="1.6" height="2" fill="#777"/>
<circle cx="6.5" cy="9.5" r="5.4" fill="#f4f4f4" stroke="#6a6a6a" stroke-width="1.7"/>
<path d="M6.3 9.8 L9.2 6.6" stroke="#e08a50" stroke-width="1.3"/></svg><div class="si" style="left:61px;top:343.3px;">Труд Шиене</div>
<svg class="abs" style="left:16.5px;top:388.5px" width="10" height="12" viewBox="0 0 10 12"><path d="M2.3 1 L7.3 6 L2.3 11" fill="none" stroke="#333" stroke-width="1.9"/></svg><svg class="abs" style="left:30px;top:385px" width="16" height="17" viewBox="0 0 16 17">
<rect x="0" y="0.5" width="16" height="16.5" rx="1.5" fill="#d3d5d8"/><rect x="1" y="3" width="4" height="13" fill="#dcc7a0"/><rect x="1" y="10" width="4" height="6" fill="#b8b8b8"/>
<rect x="5.5" y="8" width="5" height="8" fill="#c4987a"/><rect x="11" y="1" width="4.5" height="15.5" rx="1" fill="#4a8de0"/></svg><div class="mi" style="left:50px;top:386px">Справки</div>
<svg class="abs" style="left:10.4px;top:427.5px" width="9" height="15" viewBox="0 0 9 15"><rect x="0.3" y="0" width="8.6" height="15" rx="0.8" fill="#c4987a"/>
<path d="M7 2H8.5M7 4.5H8.5M7 7H8.5M7 9.5H8.5M7 12H8.5" stroke="#e6c6a6" stroke-width="0.6"/></svg><div class="si" style="left:26px;top:428.5px;font-size:12.5px;letter-spacing:-0.4px">Изход</div>
<div class="hdr">
<svg class="abs" style="left:27px;top:11px" width="17" height="13" viewBox="0 0 17 13"><path d="M0 1.5H17M0 6.5H17M0 11.5H17" stroke="#fff" stroke-width="2"/></svg>
<div class="t" style="left:58px;top:5.5px;font-size:20px;line-height:22px;letter-spacing:-0.45px">Модул 'Норми'</div>
<svg class="abs" style="left:844.0px;top:13px" width="10" height="7" viewBox="0 0 10 7"><path d="M1 1.5L5 5.2L9 1.5" fill="none" stroke="#fff" stroke-width="1.8"/></svg>
<div class="t" style="left:863.5px;top:9.5px;font-size:13px;line-height:15px;font-weight:bold;letter-spacing:-0.5px">admin</div>
<div class="t" style="left:983.0px;top:9.5px;font-size:12.5px;line-height:15px;font-weight:bold;letter-spacing:-0.4px">Български</div>
<svg class="abs" style="left:1061.0px;top:16px" width="8" height="4" viewBox="0 0 8 4"><path d="M0 0H8L4 4Z" fill="#fff"/></svg>
<svg class="abs" style="left:1085.5px;top:15px" width="13" height="13" viewBox="0 0 13 13"><path d="M1 11 C2 7 2 3 6.5 2 C11 3 11 7 12 11 Z" fill="#e6c49a"/><rect x="0.5" y="10.5" width="12" height="1.5" fill="#d8b080"/></svg>
<svg class="abs" style="left:1097.5px;top:9.5px" width="14" height="14" viewBox="0 0 14 14"><circle cx="7" cy="7" r="6.5" fill="#e3141b"/><text x="7" y="10.5" font-size="9" fill="#fff" text-anchor="middle" font-family="Liberation Sans">1</text></svg>
</div>
<svg class="abs" style="left:238px;top:47px" width="16" height="16" viewBox="0 0 16 16">
<path d="M8 1.5 V13 M3 4.5 H13 M2 10 L3 4.5 L4.5 10 M11.5 10 L13 4.5 L14 10" stroke="#aaa" stroke-width="0.7" fill="none"/>
<circle cx="8" cy="1.6" r="1.2" fill="#f5c66a"/><circle cx="3" cy="4.5" r="1" fill="#f5c66a"/><circle cx="13" cy="4.5" r="1" fill="#f5c66a"/>
<path d="M0.5 10 H7 L5.5 12 H2Z M9 10 H15.5 L14 12 H10.5Z" fill="#f7cf85"/><rect x="4" y="13.5" width="8" height="2" rx="1" fill="#f7cf85"/></svg><div class="t" style="left:256px;top:49.5px;font-size:11.7px;line-height:15px;font-weight:bold;color:#222;letter-spacing:0px">Разходни норми</div>
<svg class="abs" style="left:366px;top:52px" width="9" height="9" viewBox="0 0 9 9"><path d="M0.5 0.5L8.5 8.5M8.5 0.5L0.5 8.5" stroke="#444" stroke-width="1.3"/></svg>
<div class="abs" style="left:217px;top:76px;width:179px;height:2px;background:#2f80d8"></div>
<div class="abs" style="left:396px;top:77px;right:0;height:1px;background:#eee"></div>
<div class="abs" style="left:228.4px;top:93px;width:509.6px;height:49.5px;border:1px solid #a6a6a6;border-radius:4px;background:#fff"></div>
<div class="t" style="left:238.4px;top:86px;font-size:10.8px;line-height:13px;color:#555;background:#fff;padding:0 4px">Изберете модел</div>
<div class="t" style="left:242.4px;top:108.75px;font-size:13.5px;line-height:18px;color:#222;letter-spacing:0.8px">7295</div>
<div class="abs" style="left:1046px;top:92.4px;width:39px;height:28.19999999999999px;background:#f3f3f3;border:1px solid #bdbdbd;border-radius:3px;box-shadow:0 1px 2px rgba(0,0,0,.25)"></div><svg class="abs" style="left:1056.75px;top:95.62px" width="22.50" height="22.50" viewBox="0 0 24 24"><path d="M14 2H6c-1.1 0-1.99.9-1.99 2L4 20c0 1.1.89 2 1.99 2H18c1.1 0 2-.9 2-2V8l-6-6zm2 14h-3v3h-2v-3H8v-2h3v-3h2v3h3v2zm-3-7V3.5L18.5 9H13z" fill="#222"/></svg>
<div class="abs" style="left:1095.6px;top:92.4px;width:39.200000000000045px;height:28.19999999999999px;background:#f3f3f3;border:1px solid #bdbdbd;border-radius:3px;box-shadow:0 1px 2px rgba(0,0,0,.25)"></div><svg class="abs" style="left:1103.10px;top:93.30px" width="26.40" height="26.40" viewBox="0 0 24 24"><path d="M14 7l-5 5 5 5V7z" fill="#222"/></svg>
<div class="abs" style="left:1143.4px;top:92.4px;width:39.19999999999982px;height:28.19999999999999px;background:#f3f3f3;border:1px solid #bdbdbd;border-radius:3px;box-shadow:0 1px 2px rgba(0,0,0,.25)"></div><svg class="abs" style="left:1153.00px;top:93.30px" width="26.40" height="26.40" viewBox="0 0 24 24"><path d="M10 17l5-5-5-5v10z" fill="#222"/></svg>
<div class="abs" style="left:1194px;top:92.4px;width:39px;height:28.19999999999999px;background:#f3f3f3;border:1px solid #bdbdbd;border-radius:3px;box-shadow:0 1px 2px rgba(0,0,0,.25)"></div><svg class="abs" style="left:1205.50px;top:96.50px" width="20.00" height="20.00" viewBox="0 0 24 24"><path d="M17 3H5c-1.11 0-2 .9-2 2v14c0 1.1.89 2 2 2h14c1.1 0 2-.9 2-2V7l-4-4zm-5 16c-1.66 0-3-1.34-3-3s1.34-3 3-3 3 1.34 3 3-1.34 3-3 3zm3-10H5V5h10v4z" fill="#222"/></svg>
<div class="abs" style="left:1241.8px;top:92.4px;width:39.0px;height:28.19999999999999px;background:#f3f3f3;border:1px solid #bdbdbd;border-radius:3px;box-shadow:0 1px 2px rgba(0,0,0,.25)"></div><svg class="abs" style="left:1253.10px;top:96.65px" width="22.80" height="22.80" viewBox="0 0 24 24"><path d="M19 8H5c-1.66 0-3 1.34-3 3v6h4v4h12v-4h4v-6c0-1.66-1.34-3-3-3zm-3 11H8v-5h8v5zm3-7c-.55 0-1-.45-1-1s.45-1 1-1 1 .45 1 1-.45 1-1 1zm-1-9H6v4h12V3z" fill="#222"/></svg>
<div class="abs" style="left:224px;top:162px;width:1110px;height:410px;background:#f7f7fc"></div>
<div class="abs" style="left:245.5px;top:184.0px;width:21px;height:21px;border-radius:50%;background:#1f4fc0"></div><svg class="abs" style="left:248.67px;top:187.17px" width="14.67" height="14.67" viewBox="0 0 24 24"><path d="M3 17.25V21h3.75L17.81 9.94l-3.75-3.75L3 17.25zM20.71 7.04c.39-.39.39-1.02 0-1.41l-2.34-2.34c-.39-.39-1.020-.39-1.41 0l-1.83 1.83 3.75 3.75 1.83-1.83z" fill="#fff"/></svg><div class="t" style="left:273.5px;top:186.5px;font-size:12.2px;line-height:16px;color:#333">Информация за модела</div>
<div class="abs" style="left:417.7px;top:194.5px;width:137.3px;height:1px;background:#bbb"></div>
<div class="abs" style="left:562.3px;top:184.0px;width:21px;height:21px;border-radius:50%;background:#1f4fc0"></div><div class="t" style="left:562.3px;top:186.5px;width:21px;text-align:center;font-size:12.5px;line-height:16px;color:#fff">2</div><div class="t" style="left:590.7px;top:186.5px;font-size:12.2px;line-height:16px;color:#333">Размери и тегла</div>
<div class="abs" style="left:692px;top:194.5px;width:138px;height:1px;background:#bbb"></div>
<div class="abs" style="left:837.1px;top:184.0px;width:21px;height:21px;border-radius:50%;background:#333"></div><div class="t" style="left:837.1px;top:186.5px;width:21px;text-align:center;font-size:12.5px;line-height:16px;color:#fff">3</div><div class="t" style="left:865px;top:186.5px;font-size:12.2px;line-height:16px;color:#333">Основни материали</div>
<div class="abs" style="left:987px;top:194.5px;width:137.4000000000001px;height:1px;background:#bbb"></div>
<div class="abs" style="left:1131.5px;top:184.0px;width:21px;height:21px;border-radius:50%;background:#333"></div><div class="t" style="left:1131.5px;top:186.5px;width:21px;text-align:center;font-size:12.5px;line-height:16px;color:#fff">4</div><div class="t" style="left:1159.2px;top:186.5px;font-size:12.2px;line-height:16px;color:#333">Спомагателни материали</div>
<div class="abs" style="left:259.5px;top:235px;width:1019.5px;height:333px;background:#f8f8fc"></div>
<div class="abs" style="left:259.5px;top:235px;width:1019.5px;height:45px;background:#fff"></div>
<div class="abs" style="left:259.5px;top:280px;width:831.0999999999999px;height:29.399999999999977px;background:#fff"></div>
<div class="abs" style="left:259.5px;top:280px;width:1019.5px;height:2px;background:#777"></div>
<div class="t" style="left:268.5px;top:287.7px;font-size:11px;line-height:16px;color:#222;font-weight:normal;letter-spacing:0px">34</div>
<div class="t" style="left:546.2px;top:287.7px;font-size:11px;line-height:16px;color:#222;font-weight:normal;letter-spacing:0px">196</div>
<div class="t" style="left:822.2px;top:287.7px;font-size:11px;line-height:16px;color:#222;font-weight:normal;letter-spacing:0px">0</div>
<svg class="abs" style="left:1231.50px;top:287.47px" width="16.00" height="16.00" viewBox="0 0 24 24"><path d="M16.59 8.59L12 13.17 7.41 8.59 6 10l6 6 6-6z" fill="#444"/></svg>
<svg class="abs" style="left:1258.96px;top:287.66px" width="14.57" height="14.57" viewBox="0 0 24 24"><path d="M19 6.41L17.59 5 12 10.59 6.41 5 5 6.41 10.59 12 5 17.59 6.41 19 12 13.41 17.59 19 19 17.59 13.41 12z" fill="#444"/></svg>
<div class="abs" style="left:259.5px;top:309.4px;width:831.0999999999999px;height:30.200000000000045px;background:#fff"></div>
<div class="abs" style="left:259.5px;top:309.4px;width:1019.5px;height:2px;background:#777"></div>
<div class="t" style="left:268.5px;top:317.5px;font-size:11px;line-height:16px;color:#222;font-weight:normal;letter-spacing:0px">36</div>
<div class="t" style="left:546.2px;top:317.5px;font-size:11px;line-height:16px;color:#222;font-weight:normal;letter-spacing:0px">204</div>
<div class="t" style="left:822.2px;top:317.5px;font-size:11px;line-height:16px;color:#222;font-weight:normal;letter-spacing:0px">0</div>
<svg class="abs" style="left:1231.50px;top:317.67px" width="16.00" height="16.00" viewBox="0 0 24 24"><path d="M12 8l-6 6 1.41 1.41L12 10.83l4.59 4.58L18 14z" fill="#444"/></svg>
<svg class="abs" style="left:1258.96px;top:317.46px" width="14.57" height="14.57" viewBox="0 0 24 24"><path d="M19 6.41L17.59 5 12 10.59 6.41 5 5 6.41 10.59 12 5 17.59 6.41 19 12 13.41 17.59 19 19 17.59 13.41 12z" fill="#444"/></svg>
<div class="abs" style="left:259.5px;top:501.4px;width:831.0999999999999px;height:30.399999999999977px;background:#fff"></div>
<div class="abs" style="left:259.5px;top:501.4px;width:1019.5px;height:2px;background:#777"></div>
<div class="t" style="left:268.5px;top:509.5999999999999px;font-size:11px;line-height:16px;color:#222;font-weight:normal;letter-spacing:0px">38</div>
<div class="t" style="left:546.2px;top:509.5999999999999px;font-size:11px;line-height:16px;color:#222;font-weight:normal;letter-spacing:0px">214</div>
<div class="t" style="left:822.2px;top:509.5999999999999px;font-size:11px;line-height:16px;color:#222;font-weight:normal;letter-spacing:0px">0</div>
<svg class="abs" style="left:1231.50px;top:509.37px" width="16.00" height="16.00" viewBox="0 0 24 24"><path d="M16.59 8.59L12 13.17 7.41 8.59 6 10l6 6 6-6z" fill="#444"/></svg>
<svg class="abs" style="left:1258.96px;top:509.56px" width="14.57" height="14.57" viewBox="0 0 24 24"><path d="M19 6.41L17.59 5 12 10.59 6.41 5 5 6.41 10.59 12 5 17.59 6.41 19 12 13.41 17.59 19 19 17.59 13.41 12z" fill="#444"/></svg>
<div class="abs" style="left:259.5px;top:531.8px;width:831.0999999999999px;height:29.200000000000045px;background:#fff"></div>
<div class="abs" style="left:259.5px;top:531.8px;width:1019.5px;height:2px;background:#777"></div>
<div class="t" style="left:268.5px;top:539.4px;font-size:11px;line-height:16px;color:#222;font-weight:normal;letter-spacing:0px">40</div>
<div class="t" style="left:546.2px;top:539.4px;font-size:11px;line-height:16px;color:#222;font-weight:normal;letter-spacing:0px">222</div>
<div class="t" style="left:822.2px;top:539.4px;font-size:11px;line-height:16px;color:#222;font-weight:normal;letter-spacing:0px">0</div>
<svg class="abs" style="left:1231.50px;top:539.17px" width="16.00" height="16.00" viewBox="0 0 24 24"><path d="M16.59 8.59L12 13.17 7.41 8.59 6 10l6 6 6-6z" fill="#444"/></svg>
<svg class="abs" style="left:1258.96px;top:539.36px" width="14.57" height="14.57" viewBox="0 0 24 24"><path d="M19 6.41L17.59 5 12 10.59 6.41 5 5 6.41 10.59 12 5 17.59 6.41 19 12 13.41 17.59 19 19 17.59 13.41 12z" fill="#444"/></svg>
<div class="abs" style="left:259.5px;top:561px;width:831.0999999999999px;height:29px;background:#fff"></div>
<div class="abs" style="left:259.5px;top:561px;width:1019.5px;height:2px;background:#777"></div>
<div class="t" style="left:268.5px;top:568.5px;font-size:11px;line-height:16px;color:#222;font-weight:normal;letter-spacing:0px"></div>
<div class="t" style="left:546.2px;top:568.5px;font-size:11px;line-height:16px;color:#222;font-weight:normal;letter-spacing:0px"></div>
<div class="t" style="left:822.2px;top:568.5px;font-size:11px;line-height:16px;color:#222;font-weight:normal;letter-spacing:0px"></div>
<div class="abs" style="left:259.5px;top:339.6px;width:1019.5px;height:1px;background:#777"></div>
<div class="abs" style="left:259.5px;top:235px;width:1019.5px;height:2px;background:#666"></div>
<div class="abs" style="left:258.5px;top:235px;width:2px;height:333px;background:#666"></div>
<div class="abs" style="left:1278.0px;top:235px;width:2px;height:333px;background:#666"></div>
<div class="abs" style="left:536.45px;top:235px;width:1.5px;height:104.60000000000002px;background:#666"></div>
<div class="abs" style="left:536.45px;top:501.4px;width:1.5px;height:66.60000000000002px;background:#666"></div>
<div class="abs" style="left:812.45px;top:235px;width:1.5px;height:104.60000000000002px;background:#666"></div>
<div class="abs" style="left:812.45px;top:501.4px;width:1.5px;height:66.60000000000002px;background:#666"></div>
<div class="abs" style="left:1089.85px;top:235px;width:1.5px;height:104.60000000000002px;background:#666"></div>
<div class="abs" style="left:1089.85px;top:501.4px;width:1.5px;height:66.60000000000002px;background:#666"></div>
<div class="t" style="left:273.35px;top:249.5px;width:250px;text-align:center;font-size:12.3px;line-height:16px;color:#222;font-weight:bold;letter-spacing:0px">Размер</div>
<div class="t" style="left:550.2px;top:249.5px;width:250px;text-align:center;font-size:12px;line-height:16px;color:#222;font-weight:bold;letter-spacing:0px">Бруто тегло, гр.</div>
<div class="t" style="left:826.9px;top:249.5px;width:250px;text-align:center;font-size:11.9px;line-height:16px;color:#222;font-weight:bold;letter-spacing:0px">Техническо тегло, гр.</div>
<div class="t" style="left:932px;top:249.5px;width:300px;text-align:right;font-size:12px;line-height:16px;color:#222;font-weight:bold;letter-spacing:0px">Действия</div>
<svg class="abs" style="left:1248.43px;top:248.93px" width="17.14" height="17.14" viewBox="0 0 24 24"><path d="M19 13h-6v6h-2v-6H5v-2h6V5h2v6h6v2z" fill="#333"/></svg>
<div class="abs" style="left:274.9px;top:341px;width:473.1px;height:45.60000000000002px;border:1.5px solid #777;background:#f8f8fc"></div>
<div class="abs" style="left:412.25px;top:341px;width:1.5px;height:45.60000000000002px;background:#777"></div>
<div class="abs" style="left:529.95px;top:341px;width:1.5px;height:45.60000000000002px;background:#777"></div>
<div class="t" style="left:279.0px;top:356.0px;width:130px;text-align:center;font-size:10px;line-height:16px;color:#222;font-weight:bold;letter-spacing:0px">Измерване</div>
<div class="t" style="left:417.0px;top:356.0px;width:110px;text-align:center;font-size:10px;line-height:16px;color:#222;font-weight:bold;letter-spacing:0px">Стойност</div>
<div class="t" style="left:388px;top:356.0px;width:300px;text-align:right;font-size:10px;line-height:16px;color:#222;font-weight:bold;letter-spacing:0px">Действия</div>
<svg class="abs" style="left:700.79px;top:356.29px" width="15.43" height="15.43" viewBox="0 0 24 24"><path d="M19 13h-6v6h-2v-6H5v-2h6V5h2v6h6v2z" fill="#333"/></svg>
<div class="abs" style="left:792.4px;top:341.4px;width:472.0000000000001px;height:159.0px;border:1.5px solid #666;background:#f8f8fc"></div>
<div class="abs" style="left:922.05px;top:341.4px;width:1.5px;height:159.0px;background:#777"></div>
<div class="abs" style="left:1046.25px;top:341.4px;width:1.5px;height:159.0px;background:#777"></div>
<div class="abs" style="left:1167.25px;top:341.4px;width:1.5px;height:159.0px;background:#777"></div>
<div class="t" style="left:792.6px;top:356.0px;width:130px;text-align:center;font-size:10px;line-height:16px;color:#222;font-weight:normal;letter-spacing:0px">Код на детайла</div>
<div class="t" style="left:925.0px;top:356.0px;width:120px;text-align:center;font-size:10px;line-height:16px;color:#222;font-weight:normal;letter-spacing:0px">Група</div>
<div class="t" style="left:1047.5px;top:356.0px;width:120px;text-align:center;font-size:10px;line-height:16px;color:#222;font-weight:normal;letter-spacing:0px">Бруто тегло</div>
<div class="t" style="left:1172px;top:356.0px;font-size:10px;line-height:16px;color:#222;font-weight:normal;letter-spacing:0px">Действия</div>
<svg class="abs" style="left:1223.79px;top:356.29px" width="15.43" height="15.43" viewBox="0 0 24 24"><path d="M19 13h-6v6h-2v-6H5v-2h6V5h2v6h6v2z" fill="#333"/></svg>
<div class="abs" style="left:793.9px;top:386.0px;width:373.6px;height:28.6px;background:#fff"></div>
<div class="abs" style="left:792.4px;top:386.0px;width:472.0000000000001px;height:1.5px;background:#666"></div>
<div class="t" style="left:800px;top:392.3px;font-size:10px;line-height:16px;color:#222;font-weight:normal;letter-spacing:0px">Предница</div>
<svg class="abs" style="left:905.00px;top:391.77px" width="16.00" height="16.00" viewBox="0 0 24 24"><path d="M16.59 8.59L12 13.17 7.41 8.59 6 10l6 6 6-6z" fill="#222"/></svg>
<div class="t" style="left:736.8px;top:392.3px;width:300px;text-align:right;font-size:10px;line-height:16px;color:#222;font-weight:normal;letter-spacing:0px">1</div>
<div class="t" style="left:858.8px;top:392.3px;width:300px;text-align:right;font-size:10px;line-height:16px;color:#222;font-weight:normal;letter-spacing:0px">77</div>
<svg class="abs" style="left:1244.14px;top:393.44px" width="13.71" height="13.71" viewBox="0 0 24 24"><path d="M19 6.41L17.59 5 12 10.59 6.41 5 5 6.41 10.59 12 5 17.59 6.41 19 12 13.41 17.59 19 19 17.59 13.41 12z" fill="#333"/></svg>
<div class="abs" style="left:793.9px;top:414.6px;width:373.6px;height:28.6px;background:#fff"></div>
<div class="abs" style="left:792.4px;top:414.6px;width:472.0000000000001px;height:1.5px;background:#666"></div>
<div class="t" style="left:800px;top:420.90000000000003px;font-size:10px;line-height:16px;color:#222;font-weight:normal;letter-spacing:0px">Гръб</div>
<svg class="abs" style="left:905.00px;top:420.37px" width="16.00" height="16.00" viewBox="0 0 24 24"><path d="M16.59 8.59L12 13.17 7.41 8.59 6 10l6 6 6-6z" fill="#222"/></svg>
<div class="t" style="left:736.8px;top:420.90000000000003px;width:300px;text-align:right;font-size:10px;line-height:16px;color:#222;font-weight:normal;letter-spacing:0px">1</div>
<div class="t" style="left:858.8px;top:420.90000000000003px;width:300px;text-align:right;font-size:10px;line-height:16px;color:#222;font-weight:normal;letter-spacing:0px">77</div>
<svg class="abs" style="left:1244.14px;top:422.04px" width="13.71" height="13.71" viewBox="0 0 24 24"><path d="M19 6.41L17.59 5 12 10.59 6.41 5 5 6.41 10.59 12 5 17.59 6.41 19 12 13.41 17.59 19 19 17.59 13.41 12z" fill="#333"/></svg>
<div class="abs" style="left:793.9px;top:443.2px;width:373.6px;height:28.6px;background:#fff"></div>
<div class="abs" style="left:792.4px;top:443.2px;width:472.0000000000001px;height:1.5px;background:#666"></div>
<div class="t" style="left:800px;top:449.5px;font-size:10px;line-height:16px;color:#222;font-weight:normal;letter-spacing:0px">Ръкави</div>
<svg class="abs" style="left:905.00px;top:448.97px" width="16.00" height="16.00" viewBox="0 0 24 24"><path d="M16.59 8.59L12 13.17 7.41 8.59 6 10l6 6 6-6z" fill="#222"/></svg>
<div class="t" style="left:736.8px;top:449.5px;width:300px;text-align:right;font-size:10px;line-height:16px;color:#222;font-weight:normal;letter-spacing:0px">1</div>
<div class="t" style="left:858.8px;top:449.5px;width:300px;text-align:right;font-size:10px;line-height:16px;color:#222;font-weight:normal;letter-spacing:0px">44</div>
<svg class="abs" style="left:1244.14px;top:450.64px" width="13.71" height="13.71" viewBox="0 0 24 24"><path d="M19 6.41L17.59 5 12 10.59 6.41 5 5 6.41 10.59 12 5 17.59 6.41 19 12 13.41 17.59 19 19 17.59 13.41 12z" fill="#333"/></svg>
<div class="abs" style="left:793.9px;top:471.8px;width:373.6px;height:28.6px;background:#fff"></div>
<div class="abs" style="left:792.4px;top:471.8px;width:472.0000000000001px;height:1.5px;background:#666"></div>
<div class="t" style="left:800px;top:478.1px;font-size:10px;line-height:16px;color:#222;font-weight:normal;letter-spacing:0px">Бие вратно</div>
<svg class="abs" style="left:905.00px;top:477.57px" width="16.00" height="16.00" viewBox="0 0 24 24"><path d="M16.59 8.59L12 13.17 7.41 8.59 6 10l6 6 6-6z" fill="#222"/></svg>
<div class="t" style="left:736.8px;top:478.1px;width:300px;text-align:right;font-size:10px;line-height:16px;color:#222;font-weight:normal;letter-spacing:0px">1</div>
<div class="t" style="left:858.8px;top:478.1px;width:300px;text-align:right;font-size:10px;line-height:16px;color:#222;font-weight:normal;letter-spacing:0px">6</div>
<svg class="abs" style="left:1244.14px;top:479.24px" width="13.71" height="13.71" viewBox="0 0 24 24"><path d="M19 6.41L17.59 5 12 10.59 6.41 5 5 6.41 10.59 12 5 17.59 6.41 19 12 13.41 17.59 19 19 17.59 13.41 12z" fill="#333"/></svg>
<div class="abs" style="left:922.05px;top:341.4px;width:1.5px;height:159.0px;background:#666"></div>
<div class="abs" style="left:1046.25px;top:341.4px;width:1.5px;height:159.0px;background:#666"></div>
<div class="abs" style="left:1167.25px;top:341.4px;width:1.5px;height:159.0px;background:#666"></div>
<div class="abs" style="left:1279px;top:235px;width:12.4px;height:340px;background:#fafafa"></div>
<svg class="abs" style="left:1281px;top:239px" width="8" height="6" viewBox="0 0 8 6"><path d="M0 6L4 0L8 6Z" fill="#999"/></svg>
<div class="abs" style="left:1281.5px;top:251px;width:7px;height:330px;background:#8e8e8e;border-radius:3.5px"></div></div><div class="scr" style="left:667px;top:1717px;width:1332px;height:566px;transform:scale(0.5)"><div class="abs" style="left:0;top:0;width:202px;height:600px;background:#e5e7eb"></div>
<div class="abs" style="left:202px;top:0;width:15px;height:600px;background:#f4f4f4"></div>
<div class="abs" style="left:0;top:2px;width:202px;height:77.4px;background:#d1d5db"></div>
<svg class="abs" style="left:-8px;top:0px" width="200" height="78" viewBox="0 0 200 78">
<path d="M33 8.6 C30.2 8.6 28.6 11 28.6 14.5 C28.6 20 29.6 27 30.4 35 L32.4 71.5 L33.6 71.5 L35.6 35 C36.4 27 37.4 20 37.4 14.5 C37.4 11 35.8 8.6 33 8.6Z" fill="#2b85d8"/>
<ellipse cx="33.2" cy="19.4" rx="1.4" ry="5.6" fill="#d1d5db"/>
<path d="M46 21 C42 17.5 36 16.8 31 18.5 C24 21 21.5 27 24 31 C26.5 35 33 36.5 38 40 C43.5 44 43.5 52 37 56.5 C31 60.5 24 58.5 19.8 54.5" fill="none" stroke="#2b85d8" stroke-width="2.5" stroke-linecap="round"/>
<text x="46.6" y="54.8" font-family="Liberation Sans" font-weight="bold" font-size="34" fill="#2b85d8" letter-spacing="0.35">titch</text>
<text x="121.8" y="54.8" font-family="Liberation Sans" font-size="34" fill="#333" stroke="#333" stroke-width="0.9" letter-spacing="0.8">One</text>
<text x="48.5" y="67" font-family="Liberation Sans" font-weight="bold" font-size="8.4" fill="#505050">Precision, Powered by Technology</text>
</svg>
<svg class="abs" style="left:205px;top:6px" width="8" height="6" viewBox="0 0 8 6"><path d="M0 6L4 0L8 6Z" fill="#777"/></svg>
<div class="abs" style="left:206px;top:18px;width:6.6px;height:449px;background:#8a8a8a;border-radius:3px"></div>
<div class="abs" style="left:0;top:86px;width:33px;height:33px;border-radius:50%;background:#d6d8dc"></div>
<svg class="abs" style="left:15px;top:97px" width="12" height="8" viewBox="0 0 12 8"><path d="M1 1.2 L6 6.2 L11 1.2" fill="none" stroke="#333" stroke-width="1.9"/></svg><svg class="abs" style="left:28px;top:93px" width="18" height="17" viewBox="0 0 18 17">
<rect x="0" y="0" width="10" height="12" fill="#b4b4b4"/><rect x="1" y="0" width="9" height="4" fill="#d7c39a"/><rect x="0" y="0" width="1.2" height="11" fill="#888"/>
<rect x="8.5" y="2" width="4.5" height="10.5" fill="#c4987a"/><circle cx="10.5" cy="7" r="0.9" fill="#f11"/><circle cx="11" cy="9" r="0.9" fill="#f11"/>
<rect x="10" y="4.5" width="7.6" height="12" fill="#4a8de0"/><rect x="8.5" y="7" width="4" height="5" fill="#c4987a"/></svg><div class="mi" style="left:49.8px;top:94px">Основни данни</div>
<svg class="abs" style="left:41px;top:136px" width="16" height="16" viewBox="0 0 16 16"><path d="M2 5 L5 2 L14 11 L11 14Z" fill="#c9c9c9"/></svg><div class="si" style="left:60px;top:136.5px;">Обмерни данни</div>
<svg class="abs" style="left:41px;top:178px" width="16" height="16" viewBox="0 0 16 16"><path d="M1 4 L5 2 H11 L15 4 L13 8 H11 V14 H5 V8 H3Z" fill="#d9b98a"/><rect x="5" y="6" width="6" height="2" fill="#999"/></svg><div class="si" style="left:60px;top:178.5px;">Детайли</div>
<svg class="abs" style="left:41px;top:219.2px" width="16" height="16" viewBox="0 0 16 16"><rect x="2" y="1" width="2" height="12" fill="#c9a070"/><rect x="6" y="5" width="2" height="8" fill="#c9a070"/><rect x="10" y="7" width="5" height="6" fill="#5a9ae6"/><rect x="1" y="13" width="14" height="2" fill="#555"/></svg><div class="si" style="left:60px;top:219.7px;">Машини</div>
<svg class="abs" style="left:41px;top:261.2px" width="14" height="14" viewBox="0 0 14 14"><circle cx="7" cy="8" r="4.5" fill="#2b6fd6"/><path d="M3 3 L5 5" stroke="#e0a040" stroke-width="1.2"/></svg><div class="si" style="left:60px;top:261.7px;font-weight:bold;color:#333;font-size:11.3px;letter-spacing:-0.5px;">Операции Плетене</div>
<svg class="abs" style="left:41px;top:302.6px" width="16" height="16" viewBox="0 0 16 16"><path d="M2 14 C6 10 10 6 14 3" stroke="#7aa6e6" stroke-width="2" fill="none"/></svg><div class="si" style="left:60px;top:303.1px;">Операции Шиене</div>
<svg class="abs" style="left:41px;top:344.6px" width="16" height="16" viewBox="0 0 16 16"><path d="M2 14 C6 10 10 6 14 3" stroke="#3a7fd5" stroke-width="2" fill="none"/></svg><div class="si" style="left:60px;top:345.1px;">Основни материали</div>
<svg class="abs" style="left:41px;top:386.6px" width="16" height="16" viewBox="0 0 16 16"><path d="M2 14 C6 10 10 6 14 3" stroke="#ddd" stroke-width="2" fill="none"/></svg><div class="si" style="left:60px;top:387.1px;">Спомаг. материали</div>
<svg class="abs" style="left:41px;top:428.8px" width="16" height="16" viewBox="0 0 16 16"><circle cx="5" cy="5" r="3" fill="#555"/><circle cx="11" cy="5" r="3" fill="#555"/><rect x="1" y="9" width="14" height="6" rx="2" fill="#3b6fd0"/></svg><div class="si" style="left:60px;top:429.3px;">Клиенти</div>
<svg class="abs" style="left:42px;top:470.8px" width="14" height="15" viewBox="0 0 14 15">
<path d="M4 0 L5 3 H9 L10 0 L10.5 4 L9.5 6 L13.8 14.5 H0.2 L4.5 6 L3.5 4Z" fill="#4a8de0"/><path d="M4.3 6.2 H9.7" stroke="#5a50c0" stroke-width="1.3"/>
<path d="M2 14.5 L5.2 6" stroke="#5a50c0" stroke-width="1.2"/></svg><div class="si" style="left:60px;top:471.3px;">Групи модели</div>
<svg class="abs" style="left:41px;top:512px" width="16" height="16" viewBox="0 0 16 16"><circle cx="8" cy="8" r="5" fill="none" stroke="#c8c8c8" stroke-width="2.5" stroke-dasharray="2 1.5"/></svg><div class="si" style="left:60px;top:512.5px;">Настройки</div>
<svg class="abs" style="left:41px;top:553.4px" width="16" height="16" viewBox="0 0 16 16"><rect x="3" y="1" width="10" height="14" fill="#9aa4b4"/></svg><div class="si" style="left:60px;top:553.9px;">Данни за компанията</div>
<div class="hdr">
<svg class="abs" style="left:27px;top:11px" width="17" height="13" viewBox="0 0 17 13"><path d="M0 1.5H17M0 6.5H17M0 11.5H17" stroke="#fff" stroke-width="2"/></svg>
<div class="t" style="left:58px;top:5.5px;font-size:20px;line-height:22px;letter-spacing:-0.45px">Модул 'Норми'</div>
<svg class="abs" style="left:844.0px;top:13px" width="10" height="7" viewBox="0 0 10 7"><path d="M1 1.5L5 5.2L9 1.5" fill="none" stroke="#fff" stroke-width="1.8"/></svg>
<div class="t" style="left:863.5px;top:9.5px;font-size:13px;line-height:15px;font-weight:bold;letter-spacing:-0.5px">admin</div>
<div class="t" style="left:983.0px;top:9.5px;font-size:12.5px;line-height:15px;font-weight:bold;letter-spacing:-0.4px">Български</div>
<svg class="abs" style="left:1061.0px;top:16px" width="8" height="4" viewBox="0 0 8 4"><path d="M0 0H8L4 4Z" fill="#fff"/></svg>
<svg class="abs" style="left:1085.5px;top:15px" width="13" height="13" viewBox="0 0 13 13"><path d="M1 11 C2 7 2 3 6.5 2 C11 3 11 7 12 11 Z" fill="#e6c49a"/><rect x="0.5" y="10.5" width="12" height="1.5" fill="#d8b080"/></svg>
<svg class="abs" style="left:1097.5px;top:9.5px" width="14" height="14" viewBox="0 0 14 14"><circle cx="7" cy="7" r="6.5" fill="#e3141b"/><text x="7" y="10.5" font-size="9" fill="#fff" text-anchor="middle" font-family="Liberation Sans">1</text></svg>
</div>
<svg class="abs" style="left:240px;top:48px" width="14" height="14" viewBox="0 0 14 14"><circle cx="7" cy="8" r="4.5" fill="#2b6fd6"/><path d="M3 3 L5 5" stroke="#e0a040" stroke-width="1.2"/></svg><div class="t" style="left:257.4px;top:49.5px;font-size:11.6px;line-height:15px;font-weight:bold;color:#222;letter-spacing:0px">Операции Плетене</div>
<svg class="abs" style="left:380px;top:52px" width="9" height="9" viewBox="0 0 9 9"><path d="M0.5 0.5L8.5 8.5M8.5 0.5L0.5 8.5" stroke="#444" stroke-width="1.3"/></svg>
<div class="abs" style="left:217px;top:76px;width:193.4px;height:2px;background:#2f80d8"></div>
<div class="abs" style="left:410.4px;top:77px;right:0;height:1px;background:#eee"></div>
<div class="abs" style="left:253px;top:84.6px;width:184.4px;height:48.6px;background:#e1e4ea;border-bottom:1.5px solid #9a9a9a;border-radius:3px 3px 0 0"></div>
<div class="t" style="left:266.8px;top:101.4px;font-size:14.3px;line-height:16px;color:#444;font-weight:normal;letter-spacing:0.3px">Търсене</div>
<svg class="abs" style="left:1200.74px;top:107.14px" width="22.32" height="22.32" viewBox="0 0 24 24"><path d="M13 7h-2v4H7v2h4v4h2v-4h4v-2h-4V7zm-1-5C6.48 2 2 6.48 2 12s4.48 10 10 10 10-4.48 10-10S17.52 2 12 2zm0 18c-4.41 0-8-3.590-8-8s3.59-8 8-8 8 3.59 8 8-3.59 8-8 8z" fill="#333"/></svg>
<svg class="abs" style="left:1235.50px;top:106.65px" width="22.80" height="22.80" viewBox="0 0 24 24"><path d="M19 8H5c-1.66 0-3 1.34-3 3v6h4v4h12v-4h4v-6c0-1.66-1.34-3-3-3zm-3 11H8v-5h8v5zm3-7c-.55 0-1-.45-1-1s.45-1 1-1 1 .45 1 1-.45 1-1 1zm-1-9H6v4h12V3z" fill="#333"/></svg>
<svg class="abs" style="left:1270.01px;top:106.63px" width="22.97" height="22.97" viewBox="0 0 24 24"><path d="M19 9h-4V3H9v6H5l7 7 7-7zM5 18v2h14v-2H5z" fill="#333"/></svg>
<div class="abs" style="left:238.6px;top:143.2px;width:1061.6000000000001px;height:456.8px;background:#f8f8fc;border:1px solid #ddd"></div>
<div class="abs" style="left:239.6px;top:144.2px;width:1059.6000000000001px;height:52.0px;background:#fff"></div>
<div class="t" style="left:247.4px;top:162.0px;font-size:11.6px;line-height:16px;color:#222;font-weight:bold;letter-spacing:-0.2px">Име на операция</div>
<div class="t" style="left:476.4px;top:162.0px;font-size:11.6px;line-height:16px;color:#222;font-weight:bold;letter-spacing:-0.2px">Детайл</div>
<div class="t" style="left:528.6px;top:154px;width:120px;text-align:center;font-size:11.3px;line-height:16px;color:#222;font-weight:bold;letter-spacing:-0.2px">Мерна<br>единица</div>
<div class="t" style="left:633.8px;top:154px;width:120px;text-align:center;font-size:11.3px;line-height:16px;color:#222;font-weight:bold;letter-spacing:-0.2px">С норма на<br>обслуж.</div>
<div class="t" style="left:743.4px;top:154px;width:120px;text-align:center;font-size:11.3px;line-height:16px;color:#222;font-weight:bold;letter-spacing:-0.2px">Прикачен<br>детайл</div>
<div class="t" style="left:856.8px;top:154px;width:120px;text-align:center;font-size:11.3px;line-height:16px;color:#222;font-weight:bold;letter-spacing:-0.2px">Корекция на<br>нормата</div>
<div class="t" style="left:990.2px;top:162.0px;font-size:11.6px;line-height:16px;color:#222;font-weight:bold;letter-spacing:-0.2px">Цех</div>
<div class="t" style="left:1025.4px;top:154px;width:120px;text-align:center;font-size:11.3px;line-height:16px;color:#222;font-weight:bold;letter-spacing:-0.2px">Текуща лв/<br>час</div>
<div class="t" style="left:990.4000000000001px;top:162.0px;width:300px;text-align:right;font-size:11.6px;line-height:16px;color:#222;font-weight:bold;letter-spacing:-0.2px">Действия</div>
<div class="abs" style="left:238.6px;top:196.2px;width:1061.6000000000001px;height:1.5px;background:#c8c8c8"></div>
<div class="t" style="left:247.4px;top:211.1px;font-size:12.8px;line-height:16px;color:#222;font-weight:normal;letter-spacing:-0.1px">Плетене гръб</div>
<div class="t" style="left:476.4px;top:211.1px;font-size:12.8px;line-height:16px;color:#222;font-weight:normal;letter-spacing:-0.1px">Гръб</div>
<div class="t" style="left:553.8px;top:211.1px;font-size:12.8px;line-height:16px;color:#222;font-weight:normal;letter-spacing:0px">бр</div>
<div class="t" style="left:652.6px;top:211.1px;font-size:12.8px;line-height:16px;color:#222;font-weight:normal;letter-spacing:0px">Да</div>
<div class="t" style="left:762.6px;top:211.1px;font-size:12.8px;line-height:16px;color:#222;font-weight:normal;letter-spacing:0px">Не</div>
<div class="t" style="left:871.4px;top:211.1px;font-size:12.8px;line-height:16px;color:#222;font-weight:normal;letter-spacing:0px">1</div>
<div class="t" style="left:989.8px;top:211.1px;font-size:12.8px;line-height:16px;color:#222;font-weight:normal;letter-spacing:-0.1px">Плетене</div>
<div class="t" style="left:1053.4px;top:211.1px;font-size:12.8px;line-height:16px;color:#222;font-weight:normal;letter-spacing:0px">20.0783</div>
<svg class="abs" style="left:1218.50px;top:211.37px" width="16.00" height="16.00" viewBox="0 0 24 24"><path d="M16.59 8.59L12 13.17 7.41 8.59 6 10l6 6 6-6z" fill="#555"/></svg>
<svg class="abs" style="left:1242.83px;top:210.43px" width="17.33" height="17.33" viewBox="0 0 24 24"><path d="M3 17.25V21h3.75L17.81 9.94l-3.75-3.75L3 17.25zM20.71 7.04c.39-.39.39-1.02 0-1.41l-2.34-2.34c-.39-.39-1.020-.39-1.41 0l-1.83 1.83 3.75 3.75 1.83-1.83z" fill="#222"/></svg>
<svg class="abs" style="left:1270.43px;top:209.96px" width="17.14" height="17.14" viewBox="0 0 24 24"><path d="M6 19c0 1.1.9 2 2 2h8c1.1 0 2-.9 2-2V7H6v12zM8 9h8v10H8V9zm7.5-5l-1-1h-5l-1 1H5v2h14V4z" fill="#333"/></svg>
<div class="abs" style="left:238.6px;top:242px;width:1061.6000000000001px;height:1.5px;background:#c8c8c8"></div>
<div class="t" style="left:247.4px;top:257.2px;font-size:12.8px;line-height:16px;color:#222;font-weight:normal;letter-spacing:-0.1px">Плетене предница</div>
<div class="t" style="left:476.4px;top:257.2px;font-size:12.8px;line-height:16px;color:#222;font-weight:normal;letter-spacing:-0.1px">Предница</div>
<div class="t" style="left:553.8px;top:257.2px;font-size:12.8px;line-height:16px;color:#222;font-weight:normal;letter-spacing:0px">бр</div>
<div class="t" style="left:652.6px;top:257.2px;font-size:12.8px;line-height:16px;color:#222;font-weight:normal;letter-spacing:0px">Да</div>
<div class="t" style="left:762.6px;top:257.2px;font-size:12.8px;line-height:16px;color:#222;font-weight:normal;letter-spacing:0px">Не</div>
<div class="t" style="left:871.4px;top:257.2px;font-size:12.8px;line-height:16px;color:#222;font-weight:normal;letter-spacing:0px">1</div>
<div class="t" style="left:989.8px;top:257.2px;font-size:12.8px;line-height:16px;color:#222;font-weight:normal;letter-spacing:-0.1px">Плетене</div>
<div class="t" style="left:1053.4px;top:257.2px;font-size:12.8px;line-height:16px;color:#222;font-weight:normal;letter-spacing:0px">7.8313</div>
<svg class="abs" style="left:1218.50px;top:257.47px" width="16.00" height="16.00" viewBox="0 0 24 24"><path d="M16.59 8.59L12 13.17 7.41 8.59 6 10l6 6 6-6z" fill="#555"/></svg>
<svg class="abs" style="left:1242.83px;top:256.53px" width="17.33" height="17.33" viewBox="0 0 24 24"><path d="M3 17.25V21h3.75L17.81 9.94l-3.75-3.75L3 17.25zM20.71 7.04c.39-.39.39-1.02 0-1.41l-2.34-2.34c-.39-.39-1.020-.39-1.41 0l-1.83 1.83 3.75 3.75 1.83-1.83z" fill="#222"/></svg>
<svg class="abs" style="left:1270.43px;top:256.06px" width="17.14" height="17.14" viewBox="0 0 24 24"><path d="M6 19c0 1.1.9 2 2 2h8c1.1 0 2-.9 2-2V7H6v12zM8 9h8v10H8V9zm7.5-5l-1-1h-5l-1 1H5v2h14V4z" fill="#333"/></svg>
<div class="abs" style="left:238.6px;top:288.4px;width:1061.6000000000001px;height:1.5px;background:#c8c8c8"></div>
<div class="t" style="left:247.4px;top:302.9px;font-size:12.8px;line-height:16px;color:#222;font-weight:normal;letter-spacing:-0.1px">Плетене гръб+предница</div>
<div class="t" style="left:476.4px;top:302.9px;font-size:12.8px;line-height:16px;color:#222;font-weight:normal;letter-spacing:-0.1px">Предница</div>
<div class="t" style="left:553.8px;top:302.9px;font-size:12.8px;line-height:16px;color:#222;font-weight:normal;letter-spacing:0px">бр</div>
<div class="t" style="left:652.6px;top:302.9px;font-size:12.8px;line-height:16px;color:#222;font-weight:normal;letter-spacing:0px">Да</div>
<div class="t" style="left:762.6px;top:302.9px;font-size:12.8px;line-height:16px;color:#222;font-weight:normal;letter-spacing:0px">Не</div>
<div class="t" style="left:871.4px;top:302.9px;font-size:12.8px;line-height:16px;color:#222;font-weight:normal;letter-spacing:0px">1</div>
<div class="t" style="left:989.8px;top:302.9px;font-size:12.8px;line-height:16px;color:#222;font-weight:normal;letter-spacing:-0.1px">Плетене</div>
<div class="t" style="left:1053.4px;top:302.9px;font-size:12.8px;line-height:16px;color:#222;font-weight:normal;letter-spacing:0px">7.8313</div>
<svg class="abs" style="left:1218.50px;top:303.17px" width="16.00" height="16.00" viewBox="0 0 24 24"><path d="M16.59 8.59L12 13.17 7.41 8.59 6 10l6 6 6-6z" fill="#555"/></svg>
<svg class="abs" style="left:1242.83px;top:302.23px" width="17.33" height="17.33" viewBox="0 0 24 24"><path d="M3 17.25V21h3.75L17.81 9.94l-3.75-3.75L3 17.25zM20.71 7.04c.39-.39.39-1.02 0-1.41l-2.34-2.34c-.39-.39-1.020-.39-1.41 0l-1.83 1.83 3.75 3.75 1.83-1.83z" fill="#222"/></svg>
<svg class="abs" style="left:1270.43px;top:301.76px" width="17.14" height="17.14" viewBox="0 0 24 24"><path d="M6 19c0 1.1.9 2 2 2h8c1.1 0 2-.9 2-2V7H6v12zM8 9h8v10H8V9zm7.5-5l-1-1h-5l-1 1H5v2h14V4z" fill="#333"/></svg>
<div class="abs" style="left:238.6px;top:333.4px;width:1061.6000000000001px;height:1.5px;background:#c8c8c8"></div>
<div class="t" style="left:247.4px;top:348.1px;font-size:12.8px;line-height:16px;color:#222;font-weight:normal;letter-spacing:-0.1px">Плете ръкави</div>
<div class="t" style="left:476.4px;top:348.1px;font-size:12.8px;line-height:16px;color:#222;font-weight:normal;letter-spacing:-0.1px">Няма</div>
<div class="t" style="left:553.8px;top:348.1px;font-size:12.8px;line-height:16px;color:#222;font-weight:normal;letter-spacing:0px">бр</div>
<div class="t" style="left:652.6px;top:348.1px;font-size:12.8px;line-height:16px;color:#222;font-weight:normal;letter-spacing:0px">Да</div>
<div class="t" style="left:762.6px;top:348.1px;font-size:12.8px;line-height:16px;color:#222;font-weight:normal;letter-spacing:0px">Не</div>
<div class="t" style="left:871.4px;top:348.1px;font-size:12.8px;line-height:16px;color:#222;font-weight:normal;letter-spacing:0px">1</div>
<div class="t" style="left:989.8px;top:348.1px;font-size:12.8px;line-height:16px;color:#222;font-weight:normal;letter-spacing:-0.1px">Плетене</div>
<div class="t" style="left:1053.4px;top:348.1px;font-size:12.8px;line-height:16px;color:#222;font-weight:normal;letter-spacing:0px">7.8313</div>
<svg class="abs" style="left:1218.50px;top:348.77px" width="16.00" height="16.00" viewBox="0 0 24 24"><path d="M12 8l-6 6 1.41 1.41L12 10.83l4.59 4.58L18 14z" fill="#555"/></svg>
<svg class="abs" style="left:1242.83px;top:347.43px" width="17.33" height="17.33" viewBox="0 0 24 24"><path d="M3 17.25V21h3.75L17.81 9.94l-3.75-3.75L3 17.25zM20.71 7.04c.39-.39.39-1.02 0-1.41l-2.34-2.34c-.39-.39-1.020-.39-1.41 0l-1.83 1.83 3.75 3.75 1.83-1.83z" fill="#222"/></svg>
<svg class="abs" style="left:1270.43px;top:346.96px" width="17.14" height="17.14" viewBox="0 0 24 24"><path d="M6 19c0 1.1.9 2 2 2h8c1.1 0 2-.9 2-2V7H6v12zM8 9h8v10H8V9zm7.5-5l-1-1h-5l-1 1H5v2h14V4z" fill="#333"/></svg>
<div class="abs" style="left:238.6px;top:378.8px;width:1061.6000000000001px;height:1.5px;background:#c8c8c8"></div>
<div class="abs" style="left:1300.2px;top:143px;width:11.4px;height:460px;background:#fafafa;border-right:1px solid #e6e6e6"></div>
<svg class="abs" style="left:1302px;top:147px" width="8" height="6" viewBox="0 0 8 6"><path d="M0 6L4 0L8 6Z" fill="#999"/></svg>
<div class="abs" style="left:1302.5px;top:162px;width:6.5px;height:30px;background:#8e8e8e;border-radius:3px"></div>
<div class="abs" style="left:560.2px;top:386.2px;width:404.5999999999999px;height:213.8px;background:#f8f8fc;border:1px solid #ddd"></div>
<div class="abs" style="left:561.2px;top:387.2px;width:402.5999999999999px;height:48.400000000000034px;background:#fff"></div>
<div class="t" style="left:568.6px;top:403.0px;font-size:10px;line-height:16px;color:#222;font-weight:bold;letter-spacing:-0.2px">В сила от</div>
<div class="t" style="left:746.6px;top:403.0px;font-size:10px;line-height:16px;color:#222;font-weight:bold;letter-spacing:0px">ТЗ</div>
<div class="t" style="left:865.4px;top:403.0px;font-size:10px;line-height:16px;color:#222;font-weight:bold;letter-spacing:-0.2px">Действия</div>
<svg class="abs" style="left:929.60px;top:403.10px" width="16.80" height="16.80" viewBox="0 0 24 24"><path d="M13 7h-2v4H7v2h4v4h2v-4h4v-2h-4V7zm-1-5C6.48 2 2 6.48 2 12s4.48 10 10 10 10-4.48 10-10S17.52 2 12 2zm0 18c-4.41 0-8-3.590-8-8s3.59-8 8-8 8 3.59 8 8-3.59 8-8 8z" fill="#333"/></svg>
<div class="t" style="left:568.6px;top:437.4px;font-size:10.7px;line-height:16px;color:#333;font-weight:normal;letter-spacing:0px">Oct 1, 2011</div>
<div class="t" style="left:746.6px;top:437.4px;font-size:10.7px;line-height:16px;color:#333;font-weight:normal;letter-spacing:0px">320</div>
<svg class="abs" style="left:909.00px;top:437.40px" width="16.00" height="16.00" viewBox="0 0 24 24"><path d="M3 17.25V21h3.75L17.81 9.94l-3.75-3.75L3 17.25zM20.71 7.04c.39-.39.39-1.02 0-1.41l-2.34-2.34c-.39-.39-1.020-.39-1.41 0l-1.83 1.83 3.75 3.75 1.83-1.83z" fill="#222"/></svg>
<svg class="abs" style="left:935.29px;top:436.97px" width="15.43" height="15.43" viewBox="0 0 24 24"><path d="M6 19c0 1.1.9 2 2 2h8c1.1 0 2-.9 2-2V7H6v12zM8 9h8v10H8V9zm7.5-5l-1-1h-5l-1 1H5v2h14V4z" fill="#333"/></svg>
<div class="abs" style="left:560.2px;top:468.0px;width:404.5999999999999px;height:1.5px;background:#c8c8c8"></div>
<div class="t" style="left:568.6px;top:482.5px;font-size:10.7px;line-height:16px;color:#333;font-weight:normal;letter-spacing:0px">May 1, 2008</div>
<div class="t" style="left:746.6px;top:482.5px;font-size:10.7px;line-height:16px;color:#333;font-weight:normal;letter-spacing:0px">280</div>
<svg class="abs" style="left:909.00px;top:482.50px" width="16.00" height="16.00" viewBox="0 0 24 24"><path d="M3 17.25V21h3.75L17.81 9.94l-3.75-3.75L3 17.25zM20.71 7.04c.39-.39.39-1.02 0-1.41l-2.34-2.34c-.39-.39-1.020-.39-1.41 0l-1.83 1.83 3.75 3.75 1.83-1.83z" fill="#222"/></svg>
<svg class="abs" style="left:935.29px;top:482.07px" width="15.43" height="15.43" viewBox="0 0 24 24"><path d="M6 19c0 1.1.9 2 2 2h8c1.1 0 2-.9 2-2V7H6v12zM8 9h8v10H8V9zm7.5-5l-1-1h-5l-1 1H5v2h14V4z" fill="#333"/></svg>
<div class="abs" style="left:560.2px;top:513.1px;width:404.5999999999999px;height:1.5px;background:#c8c8c8"></div>
<div class="t" style="left:568.6px;top:527.6px;font-size:10.7px;line-height:16px;color:#333;font-weight:normal;letter-spacing:0px">Jan 1, 2008</div>
<div class="t" style="left:746.6px;top:527.6px;font-size:10.7px;line-height:16px;color:#333;font-weight:normal;letter-spacing:0px">250</div>
<svg class="abs" style="left:909.00px;top:527.60px" width="16.00" height="16.00" viewBox="0 0 24 24"><path d="M3 17.25V21h3.75L17.81 9.94l-3.75-3.75L3 17.25zM20.71 7.04c.39-.39.39-1.02 0-1.41l-2.34-2.34c-.39-.39-1.020-.39-1.41 0l-1.83 1.83 3.75 3.75 1.83-1.83z" fill="#222"/></svg>
<svg class="abs" style="left:935.29px;top:527.17px" width="15.43" height="15.43" viewBox="0 0 24 24"><path d="M6 19c0 1.1.9 2 2 2h8c1.1 0 2-.9 2-2V7H6v12zM8 9h8v10H8V9zm7.5-5l-1-1h-5l-1 1H5v2h14V4z" fill="#333"/></svg>
<div class="abs" style="left:560.2px;top:558.2px;width:404.5999999999999px;height:1.5px;background:#c8c8c8"></div>
<div class="abs" style="left:964.8px;top:386px;width:11px;height:220px;background:#fbfbfb"></div>
<svg class="abs" style="left:966.5px;top:390px" width="8" height="6" viewBox="0 0 8 6"><path d="M0 6L4 0L8 6Z" fill="#888"/></svg></div>
</body></html>
